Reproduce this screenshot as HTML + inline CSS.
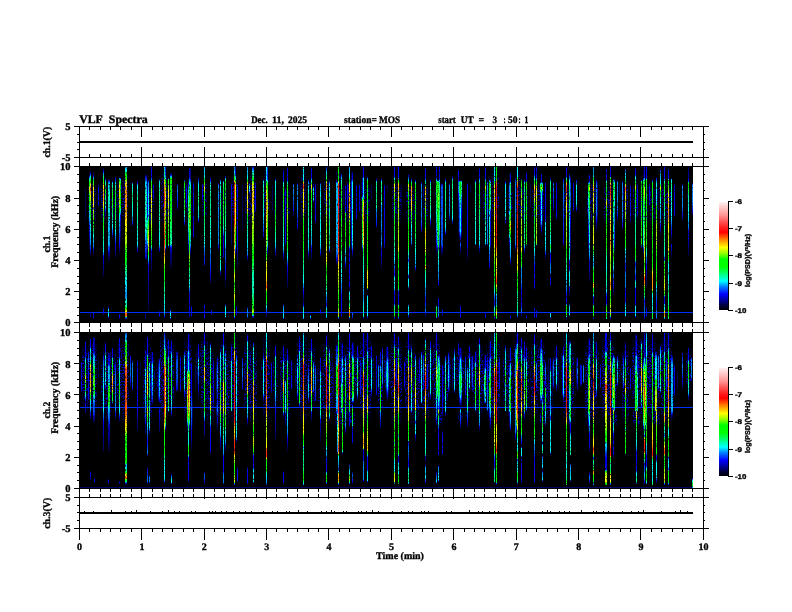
<!DOCTYPE html>
<html><head><meta charset="utf-8"><title>VLF Spectra</title>
<style>
html,body{margin:0;padding:0;background:#fff;}
body{width:792px;height:612px;position:relative;overflow:hidden;font-family:"Liberation Serif",serif;}
.s{position:absolute;left:80px;width:613px;height:155px;overflow:hidden;background:#000;isolation:isolate}
.s i{position:absolute}
.h{position:absolute;left:0;top:0;width:613px;height:155px;filter:url(#hz)}
.s b{position:absolute;left:0;width:613px;height:1px;background:#0030ff}
.t{position:absolute;left:0;top:0;width:613px;height:155px;filter:url(#nz)}
</style></head><body>
<svg width="792" height="612" viewBox="0 0 792 612" shape-rendering="crispEdges" style="position:absolute;left:0;top:0">
<defs>
<linearGradient id="cb" x1="0" y1="1" x2="0" y2="0"><stop offset="0.000" stop-color="#000008"/><stop offset="0.040" stop-color="#000038"/><stop offset="0.075" stop-color="#000080"/><stop offset="0.146" stop-color="#0000ff"/><stop offset="0.216" stop-color="#0080ff"/><stop offset="0.268" stop-color="#00ffff"/><stop offset="0.330" stop-color="#00ff80"/><stop offset="0.400" stop-color="#00ff00"/><stop offset="0.470" stop-color="#00ff00"/><stop offset="0.530" stop-color="#a0ff00"/><stop offset="0.579" stop-color="#ffff00"/><stop offset="0.654" stop-color="#ff8000"/><stop offset="0.720" stop-color="#ff0000"/><stop offset="0.770" stop-color="#ff2424"/><stop offset="0.880" stop-color="#ff9696"/><stop offset="1.000" stop-color="#fff0f0"/></linearGradient>
</defs>
<rect width="792" height="612" fill="#fff"/>
<rect x="79" y="166" width="614" height="156" fill="#000"/>
<rect x="79" y="332" width="614" height="156" fill="#000"/>
<rect x="79" y="126" width="1" height="403" fill="#000"/>
<rect x="703" y="126" width="1" height="403" fill="#000"/>
<rect x="74" y="126" width="635" height="1" fill="#000"/>
<rect x="74" y="157" width="635" height="1" fill="#000"/>
<rect x="74" y="166" width="635" height="1" fill="#000"/>
<rect x="74" y="322" width="635" height="1" fill="#000"/>
<rect x="74" y="332" width="635" height="1" fill="#000"/>
<rect x="74" y="488" width="635" height="1" fill="#000"/>
<rect x="74" y="497" width="635" height="1" fill="#000"/>
<rect x="74" y="528" width="635" height="1" fill="#000"/>
<rect x="79" y="126" width="1" height="11" fill="#000"/>
<rect x="89" y="126" width="1" height="4" fill="#000"/>
<rect x="100" y="126" width="1" height="4" fill="#000"/>
<rect x="110" y="126" width="1" height="4" fill="#000"/>
<rect x="120" y="126" width="1" height="4" fill="#000"/>
<rect x="131" y="126" width="1" height="4" fill="#000"/>
<rect x="141" y="126" width="1" height="11" fill="#000"/>
<rect x="152" y="126" width="1" height="4" fill="#000"/>
<rect x="162" y="126" width="1" height="4" fill="#000"/>
<rect x="172" y="126" width="1" height="4" fill="#000"/>
<rect x="183" y="126" width="1" height="4" fill="#000"/>
<rect x="193" y="126" width="1" height="4" fill="#000"/>
<rect x="204" y="126" width="1" height="11" fill="#000"/>
<rect x="214" y="126" width="1" height="4" fill="#000"/>
<rect x="224" y="126" width="1" height="4" fill="#000"/>
<rect x="235" y="126" width="1" height="4" fill="#000"/>
<rect x="245" y="126" width="1" height="4" fill="#000"/>
<rect x="256" y="126" width="1" height="4" fill="#000"/>
<rect x="266" y="126" width="1" height="11" fill="#000"/>
<rect x="276" y="126" width="1" height="4" fill="#000"/>
<rect x="287" y="126" width="1" height="4" fill="#000"/>
<rect x="297" y="126" width="1" height="4" fill="#000"/>
<rect x="308" y="126" width="1" height="4" fill="#000"/>
<rect x="318" y="126" width="1" height="4" fill="#000"/>
<rect x="328" y="126" width="1" height="11" fill="#000"/>
<rect x="339" y="126" width="1" height="4" fill="#000"/>
<rect x="349" y="126" width="1" height="4" fill="#000"/>
<rect x="360" y="126" width="1" height="4" fill="#000"/>
<rect x="370" y="126" width="1" height="4" fill="#000"/>
<rect x="380" y="126" width="1" height="4" fill="#000"/>
<rect x="391" y="126" width="1" height="11" fill="#000"/>
<rect x="401" y="126" width="1" height="4" fill="#000"/>
<rect x="412" y="126" width="1" height="4" fill="#000"/>
<rect x="422" y="126" width="1" height="4" fill="#000"/>
<rect x="432" y="126" width="1" height="4" fill="#000"/>
<rect x="443" y="126" width="1" height="4" fill="#000"/>
<rect x="453" y="126" width="1" height="11" fill="#000"/>
<rect x="464" y="126" width="1" height="4" fill="#000"/>
<rect x="474" y="126" width="1" height="4" fill="#000"/>
<rect x="484" y="126" width="1" height="4" fill="#000"/>
<rect x="495" y="126" width="1" height="4" fill="#000"/>
<rect x="505" y="126" width="1" height="4" fill="#000"/>
<rect x="516" y="126" width="1" height="11" fill="#000"/>
<rect x="526" y="126" width="1" height="4" fill="#000"/>
<rect x="536" y="126" width="1" height="4" fill="#000"/>
<rect x="547" y="126" width="1" height="4" fill="#000"/>
<rect x="557" y="126" width="1" height="4" fill="#000"/>
<rect x="568" y="126" width="1" height="4" fill="#000"/>
<rect x="578" y="126" width="1" height="11" fill="#000"/>
<rect x="588" y="126" width="1" height="4" fill="#000"/>
<rect x="599" y="126" width="1" height="4" fill="#000"/>
<rect x="609" y="126" width="1" height="4" fill="#000"/>
<rect x="620" y="126" width="1" height="4" fill="#000"/>
<rect x="630" y="126" width="1" height="4" fill="#000"/>
<rect x="640" y="126" width="1" height="11" fill="#000"/>
<rect x="651" y="126" width="1" height="4" fill="#000"/>
<rect x="661" y="126" width="1" height="4" fill="#000"/>
<rect x="672" y="126" width="1" height="4" fill="#000"/>
<rect x="682" y="126" width="1" height="4" fill="#000"/>
<rect x="692" y="126" width="1" height="4" fill="#000"/>
<rect x="703" y="126" width="1" height="11" fill="#000"/>
<rect x="79" y="147" width="1" height="11" fill="#000"/>
<rect x="89" y="154" width="1" height="4" fill="#000"/>
<rect x="100" y="154" width="1" height="4" fill="#000"/>
<rect x="110" y="154" width="1" height="4" fill="#000"/>
<rect x="120" y="154" width="1" height="4" fill="#000"/>
<rect x="131" y="154" width="1" height="4" fill="#000"/>
<rect x="141" y="147" width="1" height="11" fill="#000"/>
<rect x="152" y="154" width="1" height="4" fill="#000"/>
<rect x="162" y="154" width="1" height="4" fill="#000"/>
<rect x="172" y="154" width="1" height="4" fill="#000"/>
<rect x="183" y="154" width="1" height="4" fill="#000"/>
<rect x="193" y="154" width="1" height="4" fill="#000"/>
<rect x="204" y="147" width="1" height="11" fill="#000"/>
<rect x="214" y="154" width="1" height="4" fill="#000"/>
<rect x="224" y="154" width="1" height="4" fill="#000"/>
<rect x="235" y="154" width="1" height="4" fill="#000"/>
<rect x="245" y="154" width="1" height="4" fill="#000"/>
<rect x="256" y="154" width="1" height="4" fill="#000"/>
<rect x="266" y="147" width="1" height="11" fill="#000"/>
<rect x="276" y="154" width="1" height="4" fill="#000"/>
<rect x="287" y="154" width="1" height="4" fill="#000"/>
<rect x="297" y="154" width="1" height="4" fill="#000"/>
<rect x="308" y="154" width="1" height="4" fill="#000"/>
<rect x="318" y="154" width="1" height="4" fill="#000"/>
<rect x="328" y="147" width="1" height="11" fill="#000"/>
<rect x="339" y="154" width="1" height="4" fill="#000"/>
<rect x="349" y="154" width="1" height="4" fill="#000"/>
<rect x="360" y="154" width="1" height="4" fill="#000"/>
<rect x="370" y="154" width="1" height="4" fill="#000"/>
<rect x="380" y="154" width="1" height="4" fill="#000"/>
<rect x="391" y="147" width="1" height="11" fill="#000"/>
<rect x="401" y="154" width="1" height="4" fill="#000"/>
<rect x="412" y="154" width="1" height="4" fill="#000"/>
<rect x="422" y="154" width="1" height="4" fill="#000"/>
<rect x="432" y="154" width="1" height="4" fill="#000"/>
<rect x="443" y="154" width="1" height="4" fill="#000"/>
<rect x="453" y="147" width="1" height="11" fill="#000"/>
<rect x="464" y="154" width="1" height="4" fill="#000"/>
<rect x="474" y="154" width="1" height="4" fill="#000"/>
<rect x="484" y="154" width="1" height="4" fill="#000"/>
<rect x="495" y="154" width="1" height="4" fill="#000"/>
<rect x="505" y="154" width="1" height="4" fill="#000"/>
<rect x="516" y="147" width="1" height="11" fill="#000"/>
<rect x="526" y="154" width="1" height="4" fill="#000"/>
<rect x="536" y="154" width="1" height="4" fill="#000"/>
<rect x="547" y="154" width="1" height="4" fill="#000"/>
<rect x="557" y="154" width="1" height="4" fill="#000"/>
<rect x="568" y="154" width="1" height="4" fill="#000"/>
<rect x="578" y="147" width="1" height="11" fill="#000"/>
<rect x="588" y="154" width="1" height="4" fill="#000"/>
<rect x="599" y="154" width="1" height="4" fill="#000"/>
<rect x="609" y="154" width="1" height="4" fill="#000"/>
<rect x="620" y="154" width="1" height="4" fill="#000"/>
<rect x="630" y="154" width="1" height="4" fill="#000"/>
<rect x="640" y="147" width="1" height="11" fill="#000"/>
<rect x="651" y="154" width="1" height="4" fill="#000"/>
<rect x="661" y="154" width="1" height="4" fill="#000"/>
<rect x="672" y="154" width="1" height="4" fill="#000"/>
<rect x="682" y="154" width="1" height="4" fill="#000"/>
<rect x="692" y="154" width="1" height="4" fill="#000"/>
<rect x="703" y="147" width="1" height="11" fill="#000"/>
<rect x="79" y="157" width="1" height="10" fill="#000"/>
<rect x="89" y="163" width="1" height="4" fill="#000"/>
<rect x="100" y="163" width="1" height="4" fill="#000"/>
<rect x="110" y="163" width="1" height="4" fill="#000"/>
<rect x="120" y="163" width="1" height="4" fill="#000"/>
<rect x="131" y="163" width="1" height="4" fill="#000"/>
<rect x="141" y="157" width="1" height="10" fill="#000"/>
<rect x="152" y="163" width="1" height="4" fill="#000"/>
<rect x="162" y="163" width="1" height="4" fill="#000"/>
<rect x="172" y="163" width="1" height="4" fill="#000"/>
<rect x="183" y="163" width="1" height="4" fill="#000"/>
<rect x="193" y="163" width="1" height="4" fill="#000"/>
<rect x="204" y="157" width="1" height="10" fill="#000"/>
<rect x="214" y="163" width="1" height="4" fill="#000"/>
<rect x="224" y="163" width="1" height="4" fill="#000"/>
<rect x="235" y="163" width="1" height="4" fill="#000"/>
<rect x="245" y="163" width="1" height="4" fill="#000"/>
<rect x="256" y="163" width="1" height="4" fill="#000"/>
<rect x="266" y="157" width="1" height="10" fill="#000"/>
<rect x="276" y="163" width="1" height="4" fill="#000"/>
<rect x="287" y="163" width="1" height="4" fill="#000"/>
<rect x="297" y="163" width="1" height="4" fill="#000"/>
<rect x="308" y="163" width="1" height="4" fill="#000"/>
<rect x="318" y="163" width="1" height="4" fill="#000"/>
<rect x="328" y="157" width="1" height="10" fill="#000"/>
<rect x="339" y="163" width="1" height="4" fill="#000"/>
<rect x="349" y="163" width="1" height="4" fill="#000"/>
<rect x="360" y="163" width="1" height="4" fill="#000"/>
<rect x="370" y="163" width="1" height="4" fill="#000"/>
<rect x="380" y="163" width="1" height="4" fill="#000"/>
<rect x="391" y="157" width="1" height="10" fill="#000"/>
<rect x="401" y="163" width="1" height="4" fill="#000"/>
<rect x="412" y="163" width="1" height="4" fill="#000"/>
<rect x="422" y="163" width="1" height="4" fill="#000"/>
<rect x="432" y="163" width="1" height="4" fill="#000"/>
<rect x="443" y="163" width="1" height="4" fill="#000"/>
<rect x="453" y="157" width="1" height="10" fill="#000"/>
<rect x="464" y="163" width="1" height="4" fill="#000"/>
<rect x="474" y="163" width="1" height="4" fill="#000"/>
<rect x="484" y="163" width="1" height="4" fill="#000"/>
<rect x="495" y="163" width="1" height="4" fill="#000"/>
<rect x="505" y="163" width="1" height="4" fill="#000"/>
<rect x="516" y="157" width="1" height="10" fill="#000"/>
<rect x="526" y="163" width="1" height="4" fill="#000"/>
<rect x="536" y="163" width="1" height="4" fill="#000"/>
<rect x="547" y="163" width="1" height="4" fill="#000"/>
<rect x="557" y="163" width="1" height="4" fill="#000"/>
<rect x="568" y="163" width="1" height="4" fill="#000"/>
<rect x="578" y="157" width="1" height="10" fill="#000"/>
<rect x="588" y="163" width="1" height="4" fill="#000"/>
<rect x="599" y="163" width="1" height="4" fill="#000"/>
<rect x="609" y="163" width="1" height="4" fill="#000"/>
<rect x="620" y="163" width="1" height="4" fill="#000"/>
<rect x="630" y="163" width="1" height="4" fill="#000"/>
<rect x="640" y="157" width="1" height="10" fill="#000"/>
<rect x="651" y="163" width="1" height="4" fill="#000"/>
<rect x="661" y="163" width="1" height="4" fill="#000"/>
<rect x="672" y="163" width="1" height="4" fill="#000"/>
<rect x="682" y="163" width="1" height="4" fill="#000"/>
<rect x="692" y="163" width="1" height="4" fill="#000"/>
<rect x="703" y="157" width="1" height="10" fill="#000"/>
<rect x="79" y="322" width="1" height="11" fill="#000"/>
<rect x="89" y="322" width="1" height="5" fill="#000"/>
<rect x="100" y="322" width="1" height="5" fill="#000"/>
<rect x="110" y="322" width="1" height="5" fill="#000"/>
<rect x="120" y="322" width="1" height="5" fill="#000"/>
<rect x="131" y="322" width="1" height="5" fill="#000"/>
<rect x="141" y="322" width="1" height="11" fill="#000"/>
<rect x="152" y="322" width="1" height="5" fill="#000"/>
<rect x="162" y="322" width="1" height="5" fill="#000"/>
<rect x="172" y="322" width="1" height="5" fill="#000"/>
<rect x="183" y="322" width="1" height="5" fill="#000"/>
<rect x="193" y="322" width="1" height="5" fill="#000"/>
<rect x="204" y="322" width="1" height="11" fill="#000"/>
<rect x="214" y="322" width="1" height="5" fill="#000"/>
<rect x="224" y="322" width="1" height="5" fill="#000"/>
<rect x="235" y="322" width="1" height="5" fill="#000"/>
<rect x="245" y="322" width="1" height="5" fill="#000"/>
<rect x="256" y="322" width="1" height="5" fill="#000"/>
<rect x="266" y="322" width="1" height="11" fill="#000"/>
<rect x="276" y="322" width="1" height="5" fill="#000"/>
<rect x="287" y="322" width="1" height="5" fill="#000"/>
<rect x="297" y="322" width="1" height="5" fill="#000"/>
<rect x="308" y="322" width="1" height="5" fill="#000"/>
<rect x="318" y="322" width="1" height="5" fill="#000"/>
<rect x="328" y="322" width="1" height="11" fill="#000"/>
<rect x="339" y="322" width="1" height="5" fill="#000"/>
<rect x="349" y="322" width="1" height="5" fill="#000"/>
<rect x="360" y="322" width="1" height="5" fill="#000"/>
<rect x="370" y="322" width="1" height="5" fill="#000"/>
<rect x="380" y="322" width="1" height="5" fill="#000"/>
<rect x="391" y="322" width="1" height="11" fill="#000"/>
<rect x="401" y="322" width="1" height="5" fill="#000"/>
<rect x="412" y="322" width="1" height="5" fill="#000"/>
<rect x="422" y="322" width="1" height="5" fill="#000"/>
<rect x="432" y="322" width="1" height="5" fill="#000"/>
<rect x="443" y="322" width="1" height="5" fill="#000"/>
<rect x="453" y="322" width="1" height="11" fill="#000"/>
<rect x="464" y="322" width="1" height="5" fill="#000"/>
<rect x="474" y="322" width="1" height="5" fill="#000"/>
<rect x="484" y="322" width="1" height="5" fill="#000"/>
<rect x="495" y="322" width="1" height="5" fill="#000"/>
<rect x="505" y="322" width="1" height="5" fill="#000"/>
<rect x="516" y="322" width="1" height="11" fill="#000"/>
<rect x="526" y="322" width="1" height="5" fill="#000"/>
<rect x="536" y="322" width="1" height="5" fill="#000"/>
<rect x="547" y="322" width="1" height="5" fill="#000"/>
<rect x="557" y="322" width="1" height="5" fill="#000"/>
<rect x="568" y="322" width="1" height="5" fill="#000"/>
<rect x="578" y="322" width="1" height="11" fill="#000"/>
<rect x="588" y="322" width="1" height="5" fill="#000"/>
<rect x="599" y="322" width="1" height="5" fill="#000"/>
<rect x="609" y="322" width="1" height="5" fill="#000"/>
<rect x="620" y="322" width="1" height="5" fill="#000"/>
<rect x="630" y="322" width="1" height="5" fill="#000"/>
<rect x="640" y="322" width="1" height="11" fill="#000"/>
<rect x="651" y="322" width="1" height="5" fill="#000"/>
<rect x="661" y="322" width="1" height="5" fill="#000"/>
<rect x="672" y="322" width="1" height="5" fill="#000"/>
<rect x="682" y="322" width="1" height="5" fill="#000"/>
<rect x="692" y="322" width="1" height="5" fill="#000"/>
<rect x="703" y="322" width="1" height="11" fill="#000"/>
<rect x="79" y="322" width="1" height="11" fill="#000"/>
<rect x="89" y="329" width="1" height="4" fill="#000"/>
<rect x="100" y="329" width="1" height="4" fill="#000"/>
<rect x="110" y="329" width="1" height="4" fill="#000"/>
<rect x="120" y="329" width="1" height="4" fill="#000"/>
<rect x="131" y="329" width="1" height="4" fill="#000"/>
<rect x="141" y="322" width="1" height="11" fill="#000"/>
<rect x="152" y="329" width="1" height="4" fill="#000"/>
<rect x="162" y="329" width="1" height="4" fill="#000"/>
<rect x="172" y="329" width="1" height="4" fill="#000"/>
<rect x="183" y="329" width="1" height="4" fill="#000"/>
<rect x="193" y="329" width="1" height="4" fill="#000"/>
<rect x="204" y="322" width="1" height="11" fill="#000"/>
<rect x="214" y="329" width="1" height="4" fill="#000"/>
<rect x="224" y="329" width="1" height="4" fill="#000"/>
<rect x="235" y="329" width="1" height="4" fill="#000"/>
<rect x="245" y="329" width="1" height="4" fill="#000"/>
<rect x="256" y="329" width="1" height="4" fill="#000"/>
<rect x="266" y="322" width="1" height="11" fill="#000"/>
<rect x="276" y="329" width="1" height="4" fill="#000"/>
<rect x="287" y="329" width="1" height="4" fill="#000"/>
<rect x="297" y="329" width="1" height="4" fill="#000"/>
<rect x="308" y="329" width="1" height="4" fill="#000"/>
<rect x="318" y="329" width="1" height="4" fill="#000"/>
<rect x="328" y="322" width="1" height="11" fill="#000"/>
<rect x="339" y="329" width="1" height="4" fill="#000"/>
<rect x="349" y="329" width="1" height="4" fill="#000"/>
<rect x="360" y="329" width="1" height="4" fill="#000"/>
<rect x="370" y="329" width="1" height="4" fill="#000"/>
<rect x="380" y="329" width="1" height="4" fill="#000"/>
<rect x="391" y="322" width="1" height="11" fill="#000"/>
<rect x="401" y="329" width="1" height="4" fill="#000"/>
<rect x="412" y="329" width="1" height="4" fill="#000"/>
<rect x="422" y="329" width="1" height="4" fill="#000"/>
<rect x="432" y="329" width="1" height="4" fill="#000"/>
<rect x="443" y="329" width="1" height="4" fill="#000"/>
<rect x="453" y="322" width="1" height="11" fill="#000"/>
<rect x="464" y="329" width="1" height="4" fill="#000"/>
<rect x="474" y="329" width="1" height="4" fill="#000"/>
<rect x="484" y="329" width="1" height="4" fill="#000"/>
<rect x="495" y="329" width="1" height="4" fill="#000"/>
<rect x="505" y="329" width="1" height="4" fill="#000"/>
<rect x="516" y="322" width="1" height="11" fill="#000"/>
<rect x="526" y="329" width="1" height="4" fill="#000"/>
<rect x="536" y="329" width="1" height="4" fill="#000"/>
<rect x="547" y="329" width="1" height="4" fill="#000"/>
<rect x="557" y="329" width="1" height="4" fill="#000"/>
<rect x="568" y="329" width="1" height="4" fill="#000"/>
<rect x="578" y="322" width="1" height="11" fill="#000"/>
<rect x="588" y="329" width="1" height="4" fill="#000"/>
<rect x="599" y="329" width="1" height="4" fill="#000"/>
<rect x="609" y="329" width="1" height="4" fill="#000"/>
<rect x="620" y="329" width="1" height="4" fill="#000"/>
<rect x="630" y="329" width="1" height="4" fill="#000"/>
<rect x="640" y="322" width="1" height="11" fill="#000"/>
<rect x="651" y="329" width="1" height="4" fill="#000"/>
<rect x="661" y="329" width="1" height="4" fill="#000"/>
<rect x="672" y="329" width="1" height="4" fill="#000"/>
<rect x="682" y="329" width="1" height="4" fill="#000"/>
<rect x="692" y="329" width="1" height="4" fill="#000"/>
<rect x="703" y="322" width="1" height="11" fill="#000"/>
<rect x="79" y="488" width="1" height="11" fill="#000"/>
<rect x="89" y="488" width="1" height="4" fill="#000"/>
<rect x="100" y="488" width="1" height="4" fill="#000"/>
<rect x="110" y="488" width="1" height="4" fill="#000"/>
<rect x="120" y="488" width="1" height="4" fill="#000"/>
<rect x="131" y="488" width="1" height="4" fill="#000"/>
<rect x="141" y="488" width="1" height="11" fill="#000"/>
<rect x="152" y="488" width="1" height="4" fill="#000"/>
<rect x="162" y="488" width="1" height="4" fill="#000"/>
<rect x="172" y="488" width="1" height="4" fill="#000"/>
<rect x="183" y="488" width="1" height="4" fill="#000"/>
<rect x="193" y="488" width="1" height="4" fill="#000"/>
<rect x="204" y="488" width="1" height="11" fill="#000"/>
<rect x="214" y="488" width="1" height="4" fill="#000"/>
<rect x="224" y="488" width="1" height="4" fill="#000"/>
<rect x="235" y="488" width="1" height="4" fill="#000"/>
<rect x="245" y="488" width="1" height="4" fill="#000"/>
<rect x="256" y="488" width="1" height="4" fill="#000"/>
<rect x="266" y="488" width="1" height="11" fill="#000"/>
<rect x="276" y="488" width="1" height="4" fill="#000"/>
<rect x="287" y="488" width="1" height="4" fill="#000"/>
<rect x="297" y="488" width="1" height="4" fill="#000"/>
<rect x="308" y="488" width="1" height="4" fill="#000"/>
<rect x="318" y="488" width="1" height="4" fill="#000"/>
<rect x="328" y="488" width="1" height="11" fill="#000"/>
<rect x="339" y="488" width="1" height="4" fill="#000"/>
<rect x="349" y="488" width="1" height="4" fill="#000"/>
<rect x="360" y="488" width="1" height="4" fill="#000"/>
<rect x="370" y="488" width="1" height="4" fill="#000"/>
<rect x="380" y="488" width="1" height="4" fill="#000"/>
<rect x="391" y="488" width="1" height="11" fill="#000"/>
<rect x="401" y="488" width="1" height="4" fill="#000"/>
<rect x="412" y="488" width="1" height="4" fill="#000"/>
<rect x="422" y="488" width="1" height="4" fill="#000"/>
<rect x="432" y="488" width="1" height="4" fill="#000"/>
<rect x="443" y="488" width="1" height="4" fill="#000"/>
<rect x="453" y="488" width="1" height="11" fill="#000"/>
<rect x="464" y="488" width="1" height="4" fill="#000"/>
<rect x="474" y="488" width="1" height="4" fill="#000"/>
<rect x="484" y="488" width="1" height="4" fill="#000"/>
<rect x="495" y="488" width="1" height="4" fill="#000"/>
<rect x="505" y="488" width="1" height="4" fill="#000"/>
<rect x="516" y="488" width="1" height="11" fill="#000"/>
<rect x="526" y="488" width="1" height="4" fill="#000"/>
<rect x="536" y="488" width="1" height="4" fill="#000"/>
<rect x="547" y="488" width="1" height="4" fill="#000"/>
<rect x="557" y="488" width="1" height="4" fill="#000"/>
<rect x="568" y="488" width="1" height="4" fill="#000"/>
<rect x="578" y="488" width="1" height="11" fill="#000"/>
<rect x="588" y="488" width="1" height="4" fill="#000"/>
<rect x="599" y="488" width="1" height="4" fill="#000"/>
<rect x="609" y="488" width="1" height="4" fill="#000"/>
<rect x="620" y="488" width="1" height="4" fill="#000"/>
<rect x="630" y="488" width="1" height="4" fill="#000"/>
<rect x="640" y="488" width="1" height="11" fill="#000"/>
<rect x="651" y="488" width="1" height="4" fill="#000"/>
<rect x="661" y="488" width="1" height="4" fill="#000"/>
<rect x="672" y="488" width="1" height="4" fill="#000"/>
<rect x="682" y="488" width="1" height="4" fill="#000"/>
<rect x="692" y="488" width="1" height="4" fill="#000"/>
<rect x="703" y="488" width="1" height="11" fill="#000"/>
<rect x="79" y="494" width="1" height="4" fill="#000"/>
<rect x="89" y="494" width="1" height="4" fill="#000"/>
<rect x="100" y="494" width="1" height="4" fill="#000"/>
<rect x="110" y="494" width="1" height="4" fill="#000"/>
<rect x="120" y="494" width="1" height="4" fill="#000"/>
<rect x="131" y="494" width="1" height="4" fill="#000"/>
<rect x="141" y="494" width="1" height="4" fill="#000"/>
<rect x="152" y="494" width="1" height="4" fill="#000"/>
<rect x="162" y="494" width="1" height="4" fill="#000"/>
<rect x="172" y="494" width="1" height="4" fill="#000"/>
<rect x="183" y="494" width="1" height="4" fill="#000"/>
<rect x="193" y="494" width="1" height="4" fill="#000"/>
<rect x="204" y="494" width="1" height="4" fill="#000"/>
<rect x="214" y="494" width="1" height="4" fill="#000"/>
<rect x="224" y="494" width="1" height="4" fill="#000"/>
<rect x="235" y="494" width="1" height="4" fill="#000"/>
<rect x="245" y="494" width="1" height="4" fill="#000"/>
<rect x="256" y="494" width="1" height="4" fill="#000"/>
<rect x="266" y="494" width="1" height="4" fill="#000"/>
<rect x="276" y="494" width="1" height="4" fill="#000"/>
<rect x="287" y="494" width="1" height="4" fill="#000"/>
<rect x="297" y="494" width="1" height="4" fill="#000"/>
<rect x="308" y="494" width="1" height="4" fill="#000"/>
<rect x="318" y="494" width="1" height="4" fill="#000"/>
<rect x="328" y="494" width="1" height="4" fill="#000"/>
<rect x="339" y="494" width="1" height="4" fill="#000"/>
<rect x="349" y="494" width="1" height="4" fill="#000"/>
<rect x="360" y="494" width="1" height="4" fill="#000"/>
<rect x="370" y="494" width="1" height="4" fill="#000"/>
<rect x="380" y="494" width="1" height="4" fill="#000"/>
<rect x="391" y="494" width="1" height="4" fill="#000"/>
<rect x="401" y="494" width="1" height="4" fill="#000"/>
<rect x="412" y="494" width="1" height="4" fill="#000"/>
<rect x="422" y="494" width="1" height="4" fill="#000"/>
<rect x="432" y="494" width="1" height="4" fill="#000"/>
<rect x="443" y="494" width="1" height="4" fill="#000"/>
<rect x="453" y="494" width="1" height="4" fill="#000"/>
<rect x="464" y="494" width="1" height="4" fill="#000"/>
<rect x="474" y="494" width="1" height="4" fill="#000"/>
<rect x="484" y="494" width="1" height="4" fill="#000"/>
<rect x="495" y="494" width="1" height="4" fill="#000"/>
<rect x="505" y="494" width="1" height="4" fill="#000"/>
<rect x="516" y="494" width="1" height="4" fill="#000"/>
<rect x="526" y="494" width="1" height="4" fill="#000"/>
<rect x="536" y="494" width="1" height="4" fill="#000"/>
<rect x="547" y="494" width="1" height="4" fill="#000"/>
<rect x="557" y="494" width="1" height="4" fill="#000"/>
<rect x="568" y="494" width="1" height="4" fill="#000"/>
<rect x="578" y="494" width="1" height="4" fill="#000"/>
<rect x="588" y="494" width="1" height="4" fill="#000"/>
<rect x="599" y="494" width="1" height="4" fill="#000"/>
<rect x="609" y="494" width="1" height="4" fill="#000"/>
<rect x="620" y="494" width="1" height="4" fill="#000"/>
<rect x="630" y="494" width="1" height="4" fill="#000"/>
<rect x="640" y="494" width="1" height="4" fill="#000"/>
<rect x="651" y="494" width="1" height="4" fill="#000"/>
<rect x="661" y="494" width="1" height="4" fill="#000"/>
<rect x="672" y="494" width="1" height="4" fill="#000"/>
<rect x="682" y="494" width="1" height="4" fill="#000"/>
<rect x="692" y="494" width="1" height="4" fill="#000"/>
<rect x="703" y="494" width="1" height="4" fill="#000"/>
<rect x="79" y="528" width="1" height="12" fill="#000"/>
<rect x="89" y="528" width="1" height="4" fill="#000"/>
<rect x="100" y="528" width="1" height="4" fill="#000"/>
<rect x="110" y="528" width="1" height="4" fill="#000"/>
<rect x="120" y="528" width="1" height="4" fill="#000"/>
<rect x="131" y="528" width="1" height="4" fill="#000"/>
<rect x="141" y="528" width="1" height="12" fill="#000"/>
<rect x="152" y="528" width="1" height="4" fill="#000"/>
<rect x="162" y="528" width="1" height="4" fill="#000"/>
<rect x="172" y="528" width="1" height="4" fill="#000"/>
<rect x="183" y="528" width="1" height="4" fill="#000"/>
<rect x="193" y="528" width="1" height="4" fill="#000"/>
<rect x="204" y="528" width="1" height="12" fill="#000"/>
<rect x="214" y="528" width="1" height="4" fill="#000"/>
<rect x="224" y="528" width="1" height="4" fill="#000"/>
<rect x="235" y="528" width="1" height="4" fill="#000"/>
<rect x="245" y="528" width="1" height="4" fill="#000"/>
<rect x="256" y="528" width="1" height="4" fill="#000"/>
<rect x="266" y="528" width="1" height="12" fill="#000"/>
<rect x="276" y="528" width="1" height="4" fill="#000"/>
<rect x="287" y="528" width="1" height="4" fill="#000"/>
<rect x="297" y="528" width="1" height="4" fill="#000"/>
<rect x="308" y="528" width="1" height="4" fill="#000"/>
<rect x="318" y="528" width="1" height="4" fill="#000"/>
<rect x="328" y="528" width="1" height="12" fill="#000"/>
<rect x="339" y="528" width="1" height="4" fill="#000"/>
<rect x="349" y="528" width="1" height="4" fill="#000"/>
<rect x="360" y="528" width="1" height="4" fill="#000"/>
<rect x="370" y="528" width="1" height="4" fill="#000"/>
<rect x="380" y="528" width="1" height="4" fill="#000"/>
<rect x="391" y="528" width="1" height="12" fill="#000"/>
<rect x="401" y="528" width="1" height="4" fill="#000"/>
<rect x="412" y="528" width="1" height="4" fill="#000"/>
<rect x="422" y="528" width="1" height="4" fill="#000"/>
<rect x="432" y="528" width="1" height="4" fill="#000"/>
<rect x="443" y="528" width="1" height="4" fill="#000"/>
<rect x="453" y="528" width="1" height="12" fill="#000"/>
<rect x="464" y="528" width="1" height="4" fill="#000"/>
<rect x="474" y="528" width="1" height="4" fill="#000"/>
<rect x="484" y="528" width="1" height="4" fill="#000"/>
<rect x="495" y="528" width="1" height="4" fill="#000"/>
<rect x="505" y="528" width="1" height="4" fill="#000"/>
<rect x="516" y="528" width="1" height="12" fill="#000"/>
<rect x="526" y="528" width="1" height="4" fill="#000"/>
<rect x="536" y="528" width="1" height="4" fill="#000"/>
<rect x="547" y="528" width="1" height="4" fill="#000"/>
<rect x="557" y="528" width="1" height="4" fill="#000"/>
<rect x="568" y="528" width="1" height="4" fill="#000"/>
<rect x="578" y="528" width="1" height="12" fill="#000"/>
<rect x="588" y="528" width="1" height="4" fill="#000"/>
<rect x="599" y="528" width="1" height="4" fill="#000"/>
<rect x="609" y="528" width="1" height="4" fill="#000"/>
<rect x="620" y="528" width="1" height="4" fill="#000"/>
<rect x="630" y="528" width="1" height="4" fill="#000"/>
<rect x="640" y="528" width="1" height="12" fill="#000"/>
<rect x="651" y="528" width="1" height="4" fill="#000"/>
<rect x="661" y="528" width="1" height="4" fill="#000"/>
<rect x="672" y="528" width="1" height="4" fill="#000"/>
<rect x="682" y="528" width="1" height="4" fill="#000"/>
<rect x="692" y="528" width="1" height="4" fill="#000"/>
<rect x="703" y="528" width="1" height="12" fill="#000"/>
<rect x="77" y="134" width="2" height="1" fill="#000"/>
<rect x="704" y="134" width="1" height="1" fill="#000"/>
<rect x="77" y="142" width="2" height="1" fill="#000"/>
<rect x="704" y="142" width="1" height="1" fill="#000"/>
<rect x="77" y="149" width="2" height="1" fill="#000"/>
<rect x="704" y="149" width="1" height="1" fill="#000"/>
<rect x="77" y="505" width="2" height="1" fill="#000"/>
<rect x="704" y="505" width="1" height="1" fill="#000"/>
<rect x="77" y="512" width="2" height="1" fill="#000"/>
<rect x="704" y="512" width="1" height="1" fill="#000"/>
<rect x="77" y="520" width="2" height="1" fill="#000"/>
<rect x="704" y="520" width="1" height="1" fill="#000"/>
<rect x="74" y="166" width="5" height="1" fill="#000"/>
<rect x="704" y="166" width="5" height="1" fill="#000"/>
<rect x="77" y="174" width="2" height="1" fill="#000"/>
<rect x="704" y="174" width="1" height="1" fill="#000"/>
<rect x="77" y="182" width="2" height="1" fill="#000"/>
<rect x="704" y="182" width="1" height="1" fill="#000"/>
<rect x="77" y="190" width="2" height="1" fill="#000"/>
<rect x="704" y="190" width="1" height="1" fill="#000"/>
<rect x="74" y="198" width="5" height="1" fill="#000"/>
<rect x="704" y="198" width="5" height="1" fill="#000"/>
<rect x="77" y="205" width="2" height="1" fill="#000"/>
<rect x="704" y="205" width="1" height="1" fill="#000"/>
<rect x="77" y="213" width="2" height="1" fill="#000"/>
<rect x="704" y="213" width="1" height="1" fill="#000"/>
<rect x="77" y="221" width="2" height="1" fill="#000"/>
<rect x="704" y="221" width="1" height="1" fill="#000"/>
<rect x="74" y="229" width="5" height="1" fill="#000"/>
<rect x="704" y="229" width="5" height="1" fill="#000"/>
<rect x="77" y="237" width="2" height="1" fill="#000"/>
<rect x="704" y="237" width="1" height="1" fill="#000"/>
<rect x="77" y="244" width="2" height="1" fill="#000"/>
<rect x="704" y="244" width="1" height="1" fill="#000"/>
<rect x="77" y="252" width="2" height="1" fill="#000"/>
<rect x="704" y="252" width="1" height="1" fill="#000"/>
<rect x="74" y="260" width="5" height="1" fill="#000"/>
<rect x="704" y="260" width="5" height="1" fill="#000"/>
<rect x="77" y="268" width="2" height="1" fill="#000"/>
<rect x="704" y="268" width="1" height="1" fill="#000"/>
<rect x="77" y="276" width="2" height="1" fill="#000"/>
<rect x="704" y="276" width="1" height="1" fill="#000"/>
<rect x="77" y="283" width="2" height="1" fill="#000"/>
<rect x="704" y="283" width="1" height="1" fill="#000"/>
<rect x="74" y="291" width="5" height="1" fill="#000"/>
<rect x="704" y="291" width="5" height="1" fill="#000"/>
<rect x="77" y="299" width="2" height="1" fill="#000"/>
<rect x="704" y="299" width="1" height="1" fill="#000"/>
<rect x="77" y="307" width="2" height="1" fill="#000"/>
<rect x="704" y="307" width="1" height="1" fill="#000"/>
<rect x="77" y="315" width="2" height="1" fill="#000"/>
<rect x="704" y="315" width="1" height="1" fill="#000"/>
<rect x="74" y="322" width="5" height="1" fill="#000"/>
<rect x="704" y="322" width="5" height="1" fill="#000"/>
<rect x="74" y="332" width="5" height="1" fill="#000"/>
<rect x="704" y="332" width="5" height="1" fill="#000"/>
<rect x="77" y="340" width="2" height="1" fill="#000"/>
<rect x="704" y="340" width="1" height="1" fill="#000"/>
<rect x="77" y="348" width="2" height="1" fill="#000"/>
<rect x="704" y="348" width="1" height="1" fill="#000"/>
<rect x="77" y="355" width="2" height="1" fill="#000"/>
<rect x="704" y="355" width="1" height="1" fill="#000"/>
<rect x="74" y="363" width="5" height="1" fill="#000"/>
<rect x="704" y="363" width="5" height="1" fill="#000"/>
<rect x="77" y="371" width="2" height="1" fill="#000"/>
<rect x="704" y="371" width="1" height="1" fill="#000"/>
<rect x="77" y="379" width="2" height="1" fill="#000"/>
<rect x="704" y="379" width="1" height="1" fill="#000"/>
<rect x="77" y="387" width="2" height="1" fill="#000"/>
<rect x="704" y="387" width="1" height="1" fill="#000"/>
<rect x="74" y="394" width="5" height="1" fill="#000"/>
<rect x="704" y="394" width="5" height="1" fill="#000"/>
<rect x="77" y="402" width="2" height="1" fill="#000"/>
<rect x="704" y="402" width="1" height="1" fill="#000"/>
<rect x="77" y="410" width="2" height="1" fill="#000"/>
<rect x="704" y="410" width="1" height="1" fill="#000"/>
<rect x="77" y="418" width="2" height="1" fill="#000"/>
<rect x="704" y="418" width="1" height="1" fill="#000"/>
<rect x="74" y="426" width="5" height="1" fill="#000"/>
<rect x="704" y="426" width="5" height="1" fill="#000"/>
<rect x="77" y="433" width="2" height="1" fill="#000"/>
<rect x="704" y="433" width="1" height="1" fill="#000"/>
<rect x="77" y="441" width="2" height="1" fill="#000"/>
<rect x="704" y="441" width="1" height="1" fill="#000"/>
<rect x="77" y="449" width="2" height="1" fill="#000"/>
<rect x="704" y="449" width="1" height="1" fill="#000"/>
<rect x="74" y="457" width="5" height="1" fill="#000"/>
<rect x="704" y="457" width="5" height="1" fill="#000"/>
<rect x="77" y="465" width="2" height="1" fill="#000"/>
<rect x="704" y="465" width="1" height="1" fill="#000"/>
<rect x="77" y="472" width="2" height="1" fill="#000"/>
<rect x="704" y="472" width="1" height="1" fill="#000"/>
<rect x="77" y="480" width="2" height="1" fill="#000"/>
<rect x="704" y="480" width="1" height="1" fill="#000"/>
<rect x="74" y="488" width="5" height="1" fill="#000"/>
<rect x="704" y="488" width="5" height="1" fill="#000"/>
<rect x="79" y="141" width="614" height="2" fill="#000"/>
<rect x="79" y="512" width="614" height="2" fill="#000"/>
<rect x="84" y="511" width="1" height="1" fill="#000"/>
<rect x="93" y="511" width="1" height="1" fill="#000"/>
<rect x="111" y="511" width="1" height="1" fill="#000"/>
<rect x="111" y="510" width="1" height="1" fill="#000"/>
<rect x="125" y="511" width="1" height="1" fill="#000"/>
<rect x="131" y="511" width="1" height="1" fill="#000"/>
<rect x="136" y="511" width="1" height="1" fill="#000"/>
<rect x="136" y="510" width="1" height="1" fill="#000"/>
<rect x="150" y="511" width="1" height="1" fill="#000"/>
<rect x="162" y="511" width="1" height="1" fill="#000"/>
<rect x="168" y="511" width="1" height="1" fill="#000"/>
<rect x="168" y="510" width="1" height="1" fill="#000"/>
<rect x="174" y="511" width="1" height="1" fill="#000"/>
<rect x="179" y="511" width="1" height="1" fill="#000"/>
<rect x="191" y="511" width="1" height="1" fill="#000"/>
<rect x="195" y="511" width="1" height="1" fill="#000"/>
<rect x="209" y="511" width="1" height="1" fill="#000"/>
<rect x="212" y="511" width="1" height="1" fill="#000"/>
<rect x="215" y="511" width="1" height="1" fill="#000"/>
<rect x="221" y="511" width="1" height="1" fill="#000"/>
<rect x="226" y="511" width="1" height="1" fill="#000"/>
<rect x="233" y="511" width="1" height="1" fill="#000"/>
<rect x="239" y="511" width="1" height="1" fill="#000"/>
<rect x="245" y="511" width="1" height="1" fill="#000"/>
<rect x="251" y="511" width="1" height="1" fill="#000"/>
<rect x="263" y="511" width="1" height="1" fill="#000"/>
<rect x="272" y="511" width="1" height="1" fill="#000"/>
<rect x="277" y="511" width="1" height="1" fill="#000"/>
<rect x="286" y="511" width="1" height="1" fill="#000"/>
<rect x="289" y="511" width="1" height="1" fill="#000"/>
<rect x="298" y="511" width="1" height="1" fill="#000"/>
<rect x="298" y="510" width="1" height="1" fill="#000"/>
<rect x="307" y="511" width="1" height="1" fill="#000"/>
<rect x="321" y="511" width="1" height="1" fill="#000"/>
<rect x="326" y="511" width="1" height="1" fill="#000"/>
<rect x="331" y="511" width="1" height="1" fill="#000"/>
<rect x="331" y="510" width="1" height="1" fill="#000"/>
<rect x="334" y="511" width="1" height="1" fill="#000"/>
<rect x="343" y="511" width="1" height="1" fill="#000"/>
<rect x="346" y="511" width="1" height="1" fill="#000"/>
<rect x="358" y="511" width="1" height="1" fill="#000"/>
<rect x="361" y="511" width="1" height="1" fill="#000"/>
<rect x="366" y="511" width="1" height="1" fill="#000"/>
<rect x="372" y="511" width="1" height="1" fill="#000"/>
<rect x="372" y="510" width="1" height="1" fill="#000"/>
<rect x="378" y="511" width="1" height="1" fill="#000"/>
<rect x="392" y="511" width="1" height="1" fill="#000"/>
<rect x="401" y="511" width="1" height="1" fill="#000"/>
<rect x="408" y="511" width="1" height="1" fill="#000"/>
<rect x="412" y="511" width="1" height="1" fill="#000"/>
<rect x="421" y="511" width="1" height="1" fill="#000"/>
<rect x="424" y="511" width="1" height="1" fill="#000"/>
<rect x="428" y="511" width="1" height="1" fill="#000"/>
<rect x="446" y="511" width="1" height="1" fill="#000"/>
<rect x="451" y="511" width="1" height="1" fill="#000"/>
<rect x="469" y="511" width="1" height="1" fill="#000"/>
<rect x="469" y="510" width="1" height="1" fill="#000"/>
<rect x="478" y="511" width="1" height="1" fill="#000"/>
<rect x="482" y="511" width="1" height="1" fill="#000"/>
<rect x="489" y="511" width="1" height="1" fill="#000"/>
<rect x="494" y="511" width="1" height="1" fill="#000"/>
<rect x="498" y="511" width="1" height="1" fill="#000"/>
<rect x="516" y="511" width="1" height="1" fill="#000"/>
<rect x="519" y="511" width="1" height="1" fill="#000"/>
<rect x="528" y="511" width="1" height="1" fill="#000"/>
<rect x="542" y="511" width="1" height="1" fill="#000"/>
<rect x="547" y="511" width="1" height="1" fill="#000"/>
<rect x="547" y="510" width="1" height="1" fill="#000"/>
<rect x="550" y="511" width="1" height="1" fill="#000"/>
<rect x="559" y="511" width="1" height="1" fill="#000"/>
<rect x="564" y="511" width="1" height="1" fill="#000"/>
<rect x="569" y="511" width="1" height="1" fill="#000"/>
<rect x="581" y="511" width="1" height="1" fill="#000"/>
<rect x="581" y="510" width="1" height="1" fill="#000"/>
<rect x="593" y="511" width="1" height="1" fill="#000"/>
<rect x="596" y="511" width="1" height="1" fill="#000"/>
<rect x="603" y="511" width="1" height="1" fill="#000"/>
<rect x="608" y="511" width="1" height="1" fill="#000"/>
<rect x="622" y="511" width="1" height="1" fill="#000"/>
<rect x="631" y="511" width="1" height="1" fill="#000"/>
<rect x="638" y="511" width="1" height="1" fill="#000"/>
<rect x="643" y="511" width="1" height="1" fill="#000"/>
<rect x="643" y="510" width="1" height="1" fill="#000"/>
<rect x="661" y="511" width="1" height="1" fill="#000"/>
<rect x="675" y="511" width="1" height="1" fill="#000"/>
<rect x="680" y="511" width="1" height="1" fill="#000"/>
<rect x="680" y="510" width="1" height="1" fill="#000"/>
<rect x="687" y="511" width="1" height="1" fill="#000"/>
<rect x="719" y="202" width="9" height="108" fill="url(#cb)"/>
<rect x="728" y="201" width="1" height="110" fill="#000"/>
<rect x="728" y="201" width="5" height="1" fill="#000"/>
<rect x="728" y="228" width="5" height="1" fill="#000"/>
<rect x="728" y="255" width="5" height="1" fill="#000"/>
<rect x="728" y="283" width="5" height="1" fill="#000"/>
<rect x="728" y="310" width="5" height="1" fill="#000"/>
<rect x="719" y="368" width="9" height="108" fill="url(#cb)"/>
<rect x="728" y="367" width="1" height="110" fill="#000"/>
<rect x="728" y="367" width="5" height="1" fill="#000"/>
<rect x="728" y="394" width="5" height="1" fill="#000"/>
<rect x="728" y="421" width="5" height="1" fill="#000"/>
<rect x="728" y="449" width="5" height="1" fill="#000"/>
<rect x="728" y="476" width="5" height="1" fill="#000"/>
</svg>
<svg width="0" height="0" style="position:absolute"><filter id="nz" x="0" y="0" width="100%" height="100%" color-interpolation-filters="sRGB"><feTurbulence type="fractalNoise" baseFrequency="0.75 0.75" numOctaves="1" seed="7" result="t"/><feColorMatrix in="t" type="matrix" values="0 0 0 0 0 0 0 0 0 0 0 0 0 0 0 3.2 0 0 0 -1.65" result="m"/><feComposite in="SourceGraphic" in2="m" operator="out"/></filter><filter id="hz" x="0" y="0" width="100%" height="100%" color-interpolation-filters="sRGB"><feTurbulence type="fractalNoise" baseFrequency="0.7" numOctaves="2" seed="11" result="n"/><feColorMatrix in="n" type="matrix" values="0 0 0 0 0 0 0 0 0 0 0 0 0 0 0 6 0 0 0 -2.8" result="m"/><feComposite in="SourceGraphic" in2="m" operator="in"/></filter></svg>
<div class="s" style="top:167px"><div class="h"><i style="left:8px;top:13px;width:5px;height:46px;background:linear-gradient(#0000,#0000a0 25%,#0000a0 70%,#0000)"></i><i style="left:11px;top:15px;width:5px;height:44px;background:linear-gradient(#0000,#0000a0 25%,#0000a0 70%,#0000)"></i><i style="left:21px;top:13px;width:5px;height:46px;background:linear-gradient(#0000,#0000a0 25%,#0000a0 70%,#0000)"></i><i style="left:24px;top:14px;width:3px;height:25px;background:linear-gradient(#0000,#000070 25%,#000070 70%,#0000)"></i><i style="left:31px;top:16px;width:3px;height:43px;background:linear-gradient(#0000,#000070 25%,#000070 70%,#0000)"></i><i style="left:34px;top:17px;width:3px;height:42px;background:linear-gradient(#0000,#000070 25%,#000070 70%,#0000)"></i><i style="left:37px;top:13px;width:5px;height:36px;background:linear-gradient(#0000,#0000a0 25%,#0000a0 70%,#0000)"></i><i style="left:42px;top:4px;width:6px;height:55px;background:linear-gradient(#0000,#0000a0 25%,#0000a0 70%,#0000)"></i><i style="left:65px;top:29px;width:6px;height:30px;background:linear-gradient(#0000,#0000a0 25%,#0000a0 70%,#0000)"></i><i style="left:69px;top:16px;width:5px;height:43px;background:linear-gradient(#0000,#0000a0 25%,#0000a0 70%,#0000)"></i><i style="left:81px;top:-1px;width:6px;height:60px;background:linear-gradient(#0000,#0000a0 25%,#0000a0 70%,#0000)"></i><i style="left:86px;top:13px;width:5px;height:46px;background:linear-gradient(#0000,#0000a0 25%,#0000a0 70%,#0000)"></i><i style="left:90px;top:12px;width:3px;height:47px;background:linear-gradient(#0000,#000070 25%,#000070 70%,#0000)"></i><i style="left:103px;top:15px;width:3px;height:34px;background:linear-gradient(#0000,#000070 25%,#000070 70%,#0000)"></i><i style="left:106px;top:14px;width:6px;height:45px;background:linear-gradient(#0000,#000070 25%,#000070 70%,#0000)"></i><i style="left:122px;top:9px;width:5px;height:50px;background:linear-gradient(#0000,#0000a0 25%,#0000a0 70%,#0000)"></i><i style="left:139px;top:14px;width:3px;height:45px;background:linear-gradient(#0000,#000070 25%,#000070 70%,#0000)"></i><i style="left:142px;top:15px;width:3px;height:44px;background:linear-gradient(#0000,#000070 25%,#000070 70%,#0000)"></i><i style="left:144px;top:14px;width:3px;height:45px;background:linear-gradient(#0000,#000070 25%,#000070 70%,#0000)"></i><i style="left:152px;top:7px;width:5px;height:52px;background:linear-gradient(#0000,#0000a0 25%,#0000a0 70%,#0000)"></i><i style="left:165px;top:11px;width:5px;height:48px;background:linear-gradient(#0000,#0000a0 25%,#0000a0 70%,#0000)"></i><i style="left:170px;top:4px;width:5px;height:55px;background:linear-gradient(#0000,#0000a0 25%,#0000a0 70%,#0000)"></i><i style="left:184px;top:-1px;width:5px;height:60px;background:linear-gradient(#0000,#0000a0 25%,#0000a0 70%,#0000)"></i><i style="left:194px;top:14px;width:3px;height:45px;background:linear-gradient(#0000,#000070 25%,#000070 70%,#0000)"></i><i style="left:202px;top:16px;width:3px;height:43px;background:linear-gradient(#0000,#000070 25%,#000070 70%,#0000)"></i><i style="left:205px;top:15px;width:5px;height:44px;background:linear-gradient(#0000,#000070 25%,#000070 70%,#0000)"></i><i style="left:221px;top:-1px;width:5px;height:60px;background:linear-gradient(#0000,#0000a0 25%,#0000a0 70%,#0000)"></i><i style="left:229px;top:14px;width:5px;height:13px;background:linear-gradient(#0000,#0000a0 25%,#0000a0 70%,#0000)"></i><i style="left:244px;top:7px;width:5px;height:52px;background:linear-gradient(#0000,#0000a0 25%,#0000a0 70%,#0000)"></i><i style="left:256px;top:-1px;width:5px;height:60px;background:linear-gradient(#0000,#0000a0 25%,#0000a0 70%,#0000)"></i><i style="left:260px;top:12px;width:3px;height:47px;background:linear-gradient(#0000,#000070 25%,#000070 70%,#0000)"></i><i style="left:264px;top:47px;width:3px;height:12px;background:linear-gradient(#0000,#000070 25%,#000070 70%,#0000)"></i><i style="left:267px;top:9px;width:5px;height:50px;background:linear-gradient(#0000,#0000a0 25%,#0000a0 70%,#0000)"></i><i style="left:281px;top:12px;width:5px;height:47px;background:linear-gradient(#0000,#0000a0 25%,#0000a0 70%,#0000)"></i><i style="left:285px;top:15px;width:5px;height:44px;background:linear-gradient(#0000,#0000a0 25%,#0000a0 70%,#0000)"></i><i style="left:312px;top:12px;width:5px;height:47px;background:linear-gradient(#0000,#0000a0 25%,#0000a0 70%,#0000)"></i><i style="left:316px;top:14px;width:5px;height:45px;background:linear-gradient(#0000,#0000a0 25%,#0000a0 70%,#0000)"></i><i style="left:326px;top:14px;width:5px;height:45px;background:linear-gradient(#0000,#0000a0 25%,#0000a0 70%,#0000)"></i><i style="left:329px;top:17px;width:5px;height:42px;background:linear-gradient(#0000,#0000a0 25%,#0000a0 70%,#0000)"></i><i style="left:334px;top:18px;width:3px;height:41px;background:linear-gradient(#0000,#000070 25%,#000070 70%,#0000)"></i><i style="left:343px;top:15px;width:5px;height:44px;background:linear-gradient(#0000,#0000a0 25%,#0000a0 70%,#0000)"></i><i style="left:358px;top:15px;width:3px;height:44px;background:linear-gradient(#0000,#000070 25%,#000070 70%,#0000)"></i><i style="left:355px;top:15px;width:7px;height:44px;background:linear-gradient(#0000,#000070 25%,#000070 70%,#0000)"></i><i style="left:378px;top:15px;width:5px;height:44px;background:linear-gradient(#0000,#000070 25%,#000070 70%,#0000)"></i><i style="left:398px;top:14px;width:3px;height:45px;background:linear-gradient(#0000,#000070 25%,#000070 70%,#0000)"></i><i style="left:403px;top:14px;width:5px;height:45px;background:linear-gradient(#0000,#0000a0 25%,#0000a0 70%,#0000)"></i><i style="left:408px;top:16px;width:3px;height:43px;background:linear-gradient(#0000,#000070 25%,#000070 70%,#0000)"></i><i style="left:412px;top:-1px;width:5px;height:60px;background:linear-gradient(#0000,#0000a0 25%,#0000a0 70%,#0000)"></i><i style="left:414px;top:-1px;width:5px;height:60px;background:linear-gradient(#0000,#0000a0 25%,#0000a0 70%,#0000)"></i><i style="left:428px;top:17px;width:5px;height:42px;background:linear-gradient(#0000,#0000a0 25%,#0000a0 70%,#0000)"></i><i style="left:435px;top:-1px;width:5px;height:60px;background:linear-gradient(#0000,#0000a0 25%,#0000a0 70%,#0000)"></i><i style="left:439px;top:14px;width:5px;height:45px;background:linear-gradient(#0000,#0000a0 25%,#0000a0 70%,#0000)"></i><i style="left:445px;top:16px;width:3px;height:43px;background:linear-gradient(#0000,#000070 25%,#000070 70%,#0000)"></i><i style="left:452px;top:11px;width:5px;height:48px;background:linear-gradient(#0000,#0000a0 25%,#0000a0 70%,#0000)"></i><i style="left:454px;top:15px;width:5px;height:44px;background:linear-gradient(#0000,#0000a0 25%,#0000a0 70%,#0000)"></i><i style="left:458px;top:17px;width:6px;height:37px;background:linear-gradient(#0000,#0000a0 25%,#0000a0 70%,#0000)"></i><i style="left:469px;top:16px;width:3px;height:43px;background:linear-gradient(#0000,#000070 25%,#000070 70%,#0000)"></i><i style="left:484px;top:13px;width:5px;height:46px;background:linear-gradient(#0000,#0000a0 25%,#0000a0 70%,#0000)"></i><i style="left:507px;top:17px;width:5px;height:42px;background:linear-gradient(#0000,#0000a0 25%,#0000a0 70%,#0000)"></i><i style="left:511px;top:9px;width:5px;height:50px;background:linear-gradient(#0000,#0000a0 25%,#0000a0 70%,#0000)"></i><i style="left:524px;top:15px;width:5px;height:44px;background:linear-gradient(#0000,#0000a0 25%,#0000a0 70%,#0000)"></i><i style="left:528px;top:12px;width:5px;height:47px;background:linear-gradient(#0000,#0000a0 25%,#0000a0 70%,#0000)"></i><i style="left:531px;top:14px;width:4px;height:45px;background:linear-gradient(#0000,#000070 25%,#000070 70%,#0000)"></i><i style="left:543px;top:11px;width:5px;height:48px;background:linear-gradient(#0000,#0000a0 25%,#0000a0 70%,#0000)"></i><i style="left:553px;top:11px;width:5px;height:48px;background:linear-gradient(#0000,#0000a0 25%,#0000a0 70%,#0000)"></i><i style="left:560px;top:15px;width:3px;height:44px;background:linear-gradient(#0000,#000070 25%,#000070 70%,#0000)"></i><i style="left:561px;top:14px;width:6px;height:45px;background:linear-gradient(#0000,#0000a0 25%,#0000a0 70%,#0000)"></i><i style="left:565px;top:14px;width:3px;height:45px;background:linear-gradient(#0000,#000070 25%,#000070 70%,#0000)"></i><i style="left:570px;top:17px;width:5px;height:42px;background:linear-gradient(#0000,#0000a0 25%,#0000a0 70%,#0000)"></i><i style="left:574px;top:16px;width:5px;height:43px;background:linear-gradient(#0000,#000070 25%,#000070 70%,#0000)"></i><i style="left:578px;top:17px;width:5px;height:17px;background:linear-gradient(#0000,#0000a0 25%,#0000a0 70%,#0000)"></i><i style="left:582px;top:14px;width:5px;height:45px;background:linear-gradient(#0000,#0000a0 25%,#0000a0 70%,#0000)"></i><i style="left:586px;top:14px;width:5px;height:45px;background:linear-gradient(#0000,#0000a0 25%,#0000a0 70%,#0000)"></i><i style="left:607px;top:17px;width:3px;height:28px;background:linear-gradient(#0000,#000070 25%,#000070 70%,#0000)"></i></div><b style="top:145px"></b><div class="t"><i style="left:5px;top:18px;width:1px;height:38px;background:linear-gradient(#00f0,#00f5 16%,#00f5 82%,#00f0)"></i><i style="left:162px;top:17px;width:1px;height:46px;background:linear-gradient(#00f0,#00f5 4%,#00f5 96%,#00f0)"></i><i style="left:192px;top:17px;width:1px;height:28px;background:linear-gradient(#00f0,#00f5 7%,#00f5 93%,#00f0)"></i><i style="left:220px;top:17px;width:1px;height:16px;background:linear-gradient(#00f0,#00f5 12%,#00f5 88%,#00f0)"></i><i style="left:263px;top:17px;width:1px;height:22px;background:linear-gradient(#00f0,#00f5 9%,#00f5 91%,#00f0)"></i><i style="left:291px;top:17px;width:1px;height:16px;background:linear-gradient(#00f0,#00f5 12%,#00f5 88%,#00f0)"></i><i style="left:307px;top:17px;width:1px;height:10px;background:linear-gradient(#00f0,#00f5 20%,#00f5 80%,#00f0)"></i><i style="left:321px;top:17px;width:1px;height:26px;background:linear-gradient(#00f0,#00f5 8%,#00f5 92%,#00f0)"></i><i style="left:343px;top:17px;width:1px;height:16px;background:linear-gradient(#00f0,#00f5 12%,#00f5 88%,#00f0)"></i><i style="left:390px;top:17px;width:1px;height:10px;background:linear-gradient(#00f0,#00f5 20%,#00f5 80%,#00f0)"></i><i style="left:450px;top:16px;width:1px;height:25px;background:linear-gradient(#00f0,#00f5 8%,#00f5 92%,#00f0)"></i><i style="left:539px;top:16px;width:1px;height:13px;background:linear-gradient(#00f0,#00f5 15%,#00f5 85%,#00f0)"></i><i style="left:18px;top:16px;width:1px;height:25px;background:linear-gradient(#00f0,#00f8 10%,#00f 20%,#00f 84%,#00f8 92%,#00f0)"></i><i style="left:73px;top:17px;width:1px;height:16px;background:linear-gradient(#00f0,#00f8 6%,#00f 12%,#00f 88%,#00f8 94%,#00f0)"></i><i style="left:10px;top:144px;width:1px;height:6px;background:linear-gradient(#00f0,#00f8 8%,#00f 17%,#00f 83%,#00f8 92%,#00f0)"></i><i style="left:13px;top:145px;width:1px;height:7px;background:linear-gradient(#00f0,#00f8 7%,#00f 14%,#00f 86%,#00f8 93%,#00f0)"></i><i style="left:23px;top:141px;width:1px;height:7px;background:linear-gradient(#00f0,#00f8 7%,#00f 14%,#00f 86%,#00f8 93%,#00f0)"></i><i style="left:39px;top:147px;width:1px;height:5px;background:linear-gradient(#00f0,#00f8 10%,#00f 20%,#00f 80%,#00f8 90%,#00f0)"></i><i style="left:65px;top:147px;width:1px;height:5px;background:linear-gradient(#00f0,#00f8 10%,#00f 20%,#00f 80%,#00f8 90%,#00f0)"></i><i style="left:79px;top:144px;width:1px;height:6px;background:linear-gradient(#00f0,#00f8 8%,#00f 17%,#00f 83%,#00f8 92%,#00f0)"></i><i style="left:106px;top:17px;width:1px;height:24px;background:linear-gradient(#00f0,#00f8 4%,#00f 8%,#00f 92%,#00f8 96%,#00f0)"></i><i style="left:113px;top:15px;width:1px;height:56px;background:linear-gradient(#00f0,#00f8 2%,#00f 4%,#00f 96%,#00f8 98%,#00f0)"></i><i style="left:122px;top:17px;width:1px;height:17px;background:linear-gradient(#00f0,#00f8 6%,#00f 12%,#00f 88%,#00f8 94%,#00f0)"></i><i style="left:124px;top:137px;width:1px;height:15px;background:linear-gradient(#00f0,#00f8 7%,#00f 13%,#00f 93%,#00f8 97%,#00f0)"></i><i style="left:151px;top:16px;width:1px;height:63px;background:linear-gradient(#00f0,#00f8 2%,#00f 3%,#00fa 50%,#00f5 97%,#00f0)"></i><i style="left:157px;top:17px;width:1px;height:88px;background:linear-gradient(#00f0,#00f8 1%,#00f 2%,#00f 68%,#00f8 84%,#00f0)"></i><i style="left:175px;top:15px;width:1px;height:30px;background:linear-gradient(#00f0,#00f8 3%,#00f 7%,#00f 93%,#00f8 97%,#00f0)"></i><i style="left:111px;top:139px;width:1px;height:11px;background:linear-gradient(#00f0,#00f8 5%,#00f 9%,#00f 91%,#00f8 95%,#00f0)"></i><i style="left:131px;top:143px;width:1px;height:5px;background:linear-gradient(#00f0,#00f8 10%,#00f 20%,#00f 80%,#00f8 90%,#00f0)"></i><i style="left:156px;top:139px;width:1px;height:10px;background:linear-gradient(#00f0,#00f8 5%,#00f 10%,#00f 90%,#00f8 95%,#00f0)"></i><i style="left:205px;top:21px;width:1px;height:58px;background:linear-gradient(#00f0,#00f8 2%,#00f 3%,#00f 97%,#00f8 98%,#00f0)"></i><i style="left:235px;top:16px;width:1px;height:41px;background:linear-gradient(#00f0,#00f8 2%,#00f 5%,#00f 93%,#00f8 96%,#00f0)"></i><i style="left:267px;top:16px;width:1px;height:29px;background:linear-gradient(#00f0,#00f8 3%,#00f 7%,#00f 93%,#00f8 97%,#00f0)"></i><i style="left:276px;top:17px;width:1px;height:36px;background:linear-gradient(#00f0,#00f8 3%,#00f 6%,#00f 94%,#00f8 97%,#00f0)"></i><i style="left:279px;top:17px;width:1px;height:28px;background:linear-gradient(#00f0,#00f8 4%,#00f 7%,#00f 93%,#00f8 96%,#00f0)"></i><i style="left:240px;top:142px;width:1px;height:5px;background:linear-gradient(#00f0,#00f8 10%,#00f 20%,#00f 80%,#00f8 90%,#00f0)"></i><i style="left:304px;top:17px;width:1px;height:66px;background:linear-gradient(#00f0,#00f8 2%,#00f 3%,#00f 91%,#00f8 95%,#00f0)"></i><i style="left:358px;top:130px;width:1px;height:12px;background:linear-gradient(#00f0,#00f8 8%,#00f 17%,#00f 92%,#00f8 96%,#00f0)"></i><i style="left:362px;top:142px;width:1px;height:7px;background:linear-gradient(#00f0,#00f8 7%,#00f 14%,#00f 86%,#00f8 93%,#00f0)"></i><i style="left:378px;top:2px;width:1px;height:13px;background:linear-gradient(#00f0,#00f8 8%,#00f 15%,#00f 85%,#00f8 92%,#00f0)"></i><i style="left:380px;top:138px;width:1px;height:13px;background:linear-gradient(#00f0,#00f8 8%,#00f 15%,#00f 92%,#00f8 96%,#00f0)"></i><i style="left:387px;top:16px;width:1px;height:80px;background:linear-gradient(#00f0,#00f8 1%,#00f 2%,#00f 76%,#00f8 88%,#00f0)"></i><i style="left:405px;top:145px;width:1px;height:6px;background:linear-gradient(#00f0,#00f8 8%,#00f 17%,#00f 83%,#00f8 92%,#00f0)"></i><i style="left:430px;top:148px;width:1px;height:4px;background:linear-gradient(#00f0,#00f8 12%,#00f 25%,#00f 75%,#00f8 88%,#00f0)"></i><i style="left:446px;top:148px;width:1px;height:4px;background:linear-gradient(#00f0,#00f8 12%,#00f 25%,#00f 75%,#00f8 88%,#00f0)"></i><i style="left:454px;top:140px;width:1px;height:11px;background:linear-gradient(#00f0,#00f8 9%,#00f 18%,#00f 91%,#00f8 95%,#00f0)"></i><i style="left:456px;top:143px;width:1px;height:8px;background:linear-gradient(#00f0,#00f8 6%,#00f 12%,#00f 88%,#00f8 94%,#00f0)"></i><i style="left:476px;top:15px;width:1px;height:38px;background:linear-gradient(#00f0,#00f8 3%,#00f 5%,#00f 89%,#00f8 95%,#00f0)"></i><i style="left:493px;top:15px;width:1px;height:30px;background:linear-gradient(#00f0,#00f8 3%,#00f 7%,#00f 93%,#00f8 97%,#00f0)"></i><i style="left:550px;top:17px;width:1px;height:40px;background:linear-gradient(#00f0,#00f8 2%,#00f 5%,#00f 80%,#00f8 90%,#00f0)"></i><i style="left:557px;top:17px;width:1px;height:34px;background:linear-gradient(#00f0,#00f8 3%,#00f 6%,#00f 88%,#00f8 94%,#00f0)"></i><i style="left:566px;top:140px;width:1px;height:10px;background:linear-gradient(#00f0,#00f8 10%,#00f 20%,#00f 90%,#00f8 95%,#00f0)"></i><i style="left:569px;top:16px;width:1px;height:23px;background:linear-gradient(#00f0,#00f8 4%,#00f 9%,#00f 91%,#00f8 96%,#00f0)"></i><i style="left:591px;top:77px;width:1px;height:16px;background:linear-gradient(#00f,#00f8 50%,#00f0)"></i><i style="left:594px;top:17px;width:1px;height:34px;background:linear-gradient(#00f0,#00f8 3%,#00f 6%,#00f 88%,#00f8 94%,#00f0)"></i><i style="left:97px;top:17px;width:1px;height:27px;background:linear-gradient(#00f0,#00f7 2%,#00f 5%,#08f 7%,#00f 81%,#00f8 91%,#00f0)"></i><i style="left:138px;top:16px;width:1px;height:69px;background:linear-gradient(#00f0,#00f7 1%,#00f 2%,#08f 3%,#08f 88%,#00f 92%,#00f7 96%,#00f0)"></i><i style="left:167px;top:140px;width:1px;height:11px;background:linear-gradient(#00f0,#00f7 6%,#00f 12%,#08f 18%,#08f 91%,#00f 94%,#00f7 97%,#00f0)"></i><i style="left:213px;top:16px;width:1px;height:35px;background:linear-gradient(#00f0,#00f7 2%,#00f 4%,#08f 6%,#08f 37%,#00f 80%,#00f8 90%,#00f0)"></i><i style="left:217px;top:16px;width:1px;height:48px;background:linear-gradient(#00f0,#00f7 1%,#00f 3%,#08f 4%,#08f 48%,#00f 90%,#00f8 95%,#00f0)"></i><i style="left:272px;top:145px;width:1px;height:7px;background:linear-gradient(#00f0,#00f7 5%,#00f 10%,#08f 14%,#00f 86%,#00f8 93%,#00f0)"></i><i style="left:341px;top:15px;width:1px;height:50px;background:linear-gradient(#00f0,#00f7 1%,#00f 3%,#08f 4%,#08f 68%,#00f 96%,#00f8 98%,#00f0)"></i><i style="left:358px;top:138px;width:1px;height:13px;background:linear-gradient(#00f0,#00f7 5%,#00f 10%,#08f 15%,#08f 85%,#00f 90%,#00f7 95%,#00f0)"></i><i style="left:361px;top:16px;width:1px;height:73px;background:linear-gradient(#00f0,#00f6 1%,#00fd 2%,#05f 3%,#05f 84%,#00fd 89%,#00f6 95%,#00f0)"></i><i style="left:362px;top:16px;width:1px;height:73px;background:linear-gradient(#00f0,#00f6 1%,#00fd 2%,#05f 3%,#05f 84%,#00fd 89%,#00f6 95%,#00f0)"></i><i style="left:369px;top:16px;width:1px;height:38px;background:linear-gradient(#00f0,#00f7 2%,#00f 4%,#08f 5%,#08f 87%,#00f 91%,#00f7 96%,#00f0)"></i><i style="left:380px;top:74px;width:1px;height:14px;background:linear-gradient(#00f0,#00f7 7%,#00f 14%,#08f 21%,#00f 50%,#00f8 75%,#00f0)"></i><i style="left:407px;top:14px;width:1px;height:65px;background:linear-gradient(#00f0,#00f7 1%,#00f 2%,#08f 3%,#08f 97%,#00f 98%,#00f7 99%,#00f0)"></i><i style="left:435px;top:11px;width:1px;height:74px;background:linear-gradient(#00f0,#00f7 1%,#00f 3%,#08f 4%,#08f 89%,#00f 93%,#00f7 96%,#00f0)"></i><i style="left:473px;top:15px;width:1px;height:32px;background:linear-gradient(#00f0,#00f7 2%,#00f 4%,#08f 6%,#00f 75%,#00f8 88%,#00f0)"></i><i style="left:483px;top:11px;width:1px;height:68px;background:linear-gradient(#00f0,#00f8 1%,#00f 3%,#08f 9%,#00f 97%,#00f8 99%,#00f0)"></i><i style="left:516px;top:12px;width:1px;height:54px;background:linear-gradient(#00f0,#00f8 2%,#00f 4%,#08f 13%,#08f 59%,#00f 78%,#00f8 89%,#00f0)"></i><i style="left:517px;top:12px;width:1px;height:54px;background:linear-gradient(#00f0,#00f3 4%,#00fa 13%,#00fa 59%,#00f3 78%,#00f0)"></i><i style="left:537px;top:13px;width:1px;height:42px;background:linear-gradient(#00f0,#00f7 2%,#00f 3%,#08f 5%,#08f 62%,#00f 86%,#00f8 93%,#00f0)"></i><i style="left:542px;top:14px;width:1px;height:49px;background:linear-gradient(#00f0,#00f7 1%,#00f 3%,#08f 4%,#08f 71%,#00f 92%,#00f8 96%,#00f0)"></i><i style="left:602px;top:17px;width:1px;height:37px;background:linear-gradient(#00f0,#00f7 2%,#00f 4%,#08f 5%,#08f 59%,#00f 86%,#00f8 93%,#00f0)"></i><i style="left:612px;top:16px;width:1px;height:33px;background:linear-gradient(#00f0,#00f7 2%,#00f 4%,#08f 6%,#08f 55%,#00f 88%,#00f8 94%,#00f0)"></i><i style="left:28px;top:139px;width:1px;height:13px;background:linear-gradient(#00f0,#00f7 8%,#00fe 15%,#06f 23%,#0ff 31%,#0ff 77%,#06f 83%,#00fe 88%,#00f7 94%,#00f0)"></i><i style="left:90px;top:142px;width:1px;height:10px;background:linear-gradient(#00f0,#00f7 8%,#00fe 15%,#06f 22%,#0ff 30%,#0ff 90%,#06f 92%,#00fe 95%,#00f7 98%,#00f0)"></i><i style="left:145px;top:137px;width:1px;height:14px;background:linear-gradient(#00f0,#00f7 4%,#00fe 7%,#06f 11%,#0ff 14%,#0ff 93%,#06f 95%,#00fe 96%,#00f7 98%,#00f0)"></i><i style="left:169px;top:16px;width:1px;height:10px;background:linear-gradient(#00f0,#00f7 5%,#00fe 10%,#06f 15%,#0ff 20%,#0ff 80%,#06f 85%,#00fe 90%,#00f7 95%,#00f0)"></i><i style="left:203px;top:137px;width:1px;height:15px;background:linear-gradient(#00f0,#00f7 4%,#00f 9%,#08f 13%,#0ff 93%,#06f 95%,#00fe 97%,#00f7 98%,#00f0)"></i><i style="left:233px;top:19px;width:1px;height:17px;background:linear-gradient(#00f0,#00f7 3%,#00fe 6%,#06f 9%,#0ff 12%,#0ff 82%,#06f 87%,#00fe 91%,#00f7 96%,#00f0)"></i><i style="left:240px;top:15px;width:1px;height:74px;background:linear-gradient(#00f0,#00f7 1%,#00f 2%,#08f 3%,#0ff 19%,#0ff 84%,#07f 91%,#00f 97%,#00f8 99%,#00f0)"></i><i style="left:256px;top:14px;width:1px;height:85px;background:linear-gradient(#00f0,#00f6 1%,#00fc 1%,#04f 2%,#0bf 2%,#0bf 74%,#05f 88%,#00fd 92%,#00f6 96%,#00f0)"></i><i style="left:257px;top:14px;width:1px;height:85px;background:linear-gradient(#00f0,#00f6 1%,#00fc 1%,#04f 2%,#0bf 2%,#0bf 74%,#05f 88%,#00fd 92%,#00f6 96%,#00f0)"></i><i style="left:271px;top:4px;width:1px;height:80px;background:linear-gradient(#00f0,#00f5 4%,#00f5 11%,#00fc 12%,#03f 14%,#00fc 91%,#00f6 96%,#00f0)"></i><i style="left:272px;top:4px;width:1px;height:87px;background:linear-gradient(#00f0,#00f8 2%,#00f 3%,#00f 10%,#07f 11%,#0ff 13%,#0ff 84%,#07f 88%,#00f 92%,#00f8 96%,#00f0)"></i><i style="left:230px;top:148px;width:1px;height:4px;background:linear-gradient(#00f0,#00f7 6%,#00fe 12%,#06f 19%,#0ff 25%,#0ff 75%,#06f 81%,#00fe 88%,#00f7 94%,#00f0)"></i><i style="left:425px;top:13px;width:1px;height:44px;background:linear-gradient(#00f0,#00f8 2%,#00f 5%,#07f 8%,#0ff 11%,#0ff 82%,#07f 89%,#00f 95%,#00f8 98%,#00f0)"></i><i style="left:465px;top:15px;width:1px;height:79px;background:linear-gradient(#00f0,#00f8 1%,#00f 3%,#00f 48%,#07f 50%,#0ff 52%,#0ff 78%,#08f 87%,#00f 92%,#00f7 96%,#00f0)"></i><i style="left:470px;top:145px;width:1px;height:6px;background:linear-gradient(#00f0,#00f7 4%,#00fe 8%,#06f 12%,#0ff 17%,#0ff 83%,#06f 88%,#00fe 92%,#00f7 96%,#00f0)"></i><i style="left:489px;top:136px;width:1px;height:14px;background:linear-gradient(#00f0,#00f7 5%,#00f 10%,#08f 14%,#0ff 43%,#0ff 93%,#06f 95%,#00fe 96%,#00f7 98%,#00f0)"></i><i style="left:496px;top:12px;width:1px;height:33px;background:linear-gradient(#00f0,#00f8 3%,#00f 6%,#07f 11%,#0ff 15%,#0ff 76%,#07f 85%,#00f 94%,#00f8 97%,#00f0)"></i><i style="left:28px;top:12px;width:1px;height:84px;background:linear-gradient(#00f0,#00f6 1%,#00fd 2%,#04f 3%,#0cf 4%,#0fa 20%,#0cf 56%,#0cf 77%,#05f 82%,#00fd 87%,#00f7 93%,#00f0)"></i><i style="left:29px;top:12px;width:1px;height:84px;background:linear-gradient(#00f0,#00f6 1%,#00fc 2%,#03f 3%,#0af 4%,#0fc 20%,#0af 56%,#0af 77%,#03f 82%,#00fb 87%,#00f6 93%,#00f0)"></i><i style="left:52px;top:15px;width:1px;height:44px;background:linear-gradient(#00f0,#00f7 1%,#00fe 2%,#06f 3%,#0ff 5%,#0f8 32%,#0ff 77%,#07f 86%,#00f 95%,#00f8 98%,#00f0)"></i><i style="left:57px;top:13px;width:1px;height:74px;background:linear-gradient(#00f0,#00f8 2%,#00f 4%,#07f 6%,#0ff 8%,#0f8 35%,#0ff 86%,#07f 91%,#00f 95%,#00f8 97%,#00f0)"></i><i style="left:65px;top:7px;width:1px;height:86px;background:linear-gradient(#00f0,#00f7 2%,#00fd 3%,#05f 7%,#0cf 10%,#0fa 26%,#0fa 60%,#0df 71%,#06f 81%,#00fd 98%,#00f7 99%,#00f0)"></i><i style="left:66px;top:7px;width:1px;height:86px;background:linear-gradient(#00f0,#00f6 2%,#00fb 3%,#03f 7%,#0af 10%,#0fc 26%,#0fc 60%,#0af 71%,#04f 81%,#00fb 98%,#00f6 99%,#00f0)"></i><i style="left:79px;top:12px;width:1px;height:73px;background:linear-gradient(#00f0,#00f7 1%,#00fe 1%,#06f 2%,#0ff 3%,#0f8 23%,#0ff 89%,#07f 93%,#00f 97%,#00f8 99%,#00f0)"></i><i style="left:118px;top:10px;width:1px;height:46px;background:linear-gradient(#00f0,#00f8 2%,#00f 4%,#07f 11%,#0ff 17%,#0f8 52%,#0ff 85%,#07f 90%,#00f 96%,#00f8 98%,#00f0)"></i><i style="left:130px;top:10px;width:1px;height:107px;background:linear-gradient(#00f0,#00f8 1%,#00f 3%,#07f 5%,#0ff 7%,#0f8 18%,#0ff 63%,#08f 70%,#00f 90%,#00fa 94%,#00f5 99%,#00f0)"></i><i style="left:183px;top:12px;width:1px;height:59px;background:linear-gradient(#00f0,#00f7 1%,#00fe 2%,#06f 3%,#0ff 3%,#0f8 29%,#0ff 63%,#07f 80%,#00f 97%,#00f8 98%,#00f0)"></i><i style="left:228px;top:12px;width:1px;height:80px;background:linear-gradient(#00f0,#00f7 1%,#00f 2%,#08f 4%,#0fe 12%,#0f8 21%,#0ff 81%,#08f 90%,#00f 93%,#00f7 97%,#00f0)"></i><i style="left:249px;top:12px;width:1px;height:75px;background:linear-gradient(#00f0,#00f8 1%,#00f 3%,#07f 5%,#0ff 8%,#0f8 23%,#0f8 87%,#0fe 90%,#08f 93%,#00f 96%,#00f7 98%,#00f0)"></i><i style="left:296px;top:11px;width:1px;height:50px;background:linear-gradient(#00f0,#00f8 2%,#00f 4%,#07f 6%,#0ff 8%,#0f8 10%,#0f8 56%,#0fe 61%,#08f 66%,#00f 96%,#00f8 98%,#00f0)"></i><i style="left:301px;top:11px;width:1px;height:92px;background:linear-gradient(#00f0,#00f8 1%,#00f 2%,#07f 3%,#0ff 4%,#0f8 5%,#0f8 25%,#0fe 28%,#08f 30%,#08f 72%,#00f 79%,#00fa 89%,#00f5 99%,#00f0)"></i><i style="left:350px;top:12px;width:1px;height:49px;background:linear-gradient(#00f0,#00f8 2%,#00f 4%,#07f 6%,#0ff 8%,#0f8 10%,#0f8 55%,#0ff 76%,#07f 82%,#00f 88%,#00f8 94%,#00f0)"></i><i style="left:365px;top:11px;width:1px;height:58px;background:linear-gradient(#00f0,#00f8 2%,#00f 3%,#07f 6%,#0ff 8%,#0f8 10%,#0f8 66%,#0ff 86%,#07f 91%,#00f 95%,#00f8 97%,#00f0)"></i><i style="left:372px;top:9px;width:1px;height:48px;background:linear-gradient(#00f0,#00f8 2%,#00f 4%,#07f 6%,#0ff 8%,#0f8 10%,#0f8 62%,#0ff 88%,#07f 92%,#00f 96%,#00f8 98%,#00f0)"></i><i style="left:395px;top:12px;width:1px;height:67px;background:linear-gradient(#00f0,#00f8 1%,#00f 3%,#07f 4%,#0ff 6%,#0f8 7%,#0ff 97%,#06f 98%,#00fe 99%,#00f7 99%,#00f0)"></i><i style="left:444px;top:12px;width:1px;height:75px;background:linear-gradient(#00f0,#00f8 1%,#00f 3%,#07f 4%,#0ff 5%,#0f8 7%,#0f8 87%,#0ef 89%,#06f 92%,#00fe 95%,#00f7 97%,#00f0)"></i><i style="left:489px;top:6px;width:1px;height:124px;background:linear-gradient(#00f0,#00f8 1%,#00f 2%,#07f 4%,#0ff 6%,#0f8 10%,#0f8 27%,#0ff 35%,#0ff 57%,#0f8 59%,#0ff 69%,#07f 70%,#00f 71%,#00f 78%,#07f 79%,#0ff 80%,#0ff 90%,#07f 91%,#00f 92%,#00fa 96%,#00f5 99%,#00f0)"></i><i style="left:490px;top:6px;width:1px;height:85px;background:linear-gradient(#00f0,#00f1 2%,#00f7 5%,#00fe 8%,#05f 15%,#05f 39%,#00fe 51%,#00f9 84%,#00fa 86%,#00f5 93%,#00f0)"></i><i style="left:591px;top:11px;width:1px;height:64px;background:linear-gradient(#00f0,#00f7 1%,#00fe 2%,#06f 2%,#0ff 3%,#0f8 12%,#0ff 59%,#07f 71%,#00f 83%,#00f8 91%,#00f0)"></i><i style="left:25px;top:11px;width:1px;height:37px;background:linear-gradient(#00f0,#00f7 2%,#00fe 4%,#06f 6%,#0ff 8%,#0f8 17%,#0f2 26%,#0f0 35%,#0f2 49%,#0f8 62%,#0ff 76%,#07f 82%,#00f 89%,#00f8 95%,#00f0)"></i><i style="left:32px;top:13px;width:1px;height:59px;background:linear-gradient(#00f0,#00f7 1%,#00fe 3%,#06f 4%,#0ff 5%,#0f8 12%,#0f2 20%,#0f0 27%,#0f2 44%,#0f8 61%,#0ff 78%,#07f 86%,#00f 95%,#00f8 97%,#00f0)"></i><i style="left:35px;top:9px;width:1px;height:82px;background:linear-gradient(#00f0,#00f8 2%,#00f 4%,#07f 7%,#0ff 10%,#0f8 15%,#0f2 20%,#0f0 24%,#0f2 43%,#0f8 61%,#0ff 68%,#07f 76%,#00f 83%,#00fa 90%,#00f5 98%,#00f0)"></i><i style="left:90px;top:5px;width:1px;height:99px;background:linear-gradient(#00f0,#00f6 2%,#00fc 3%,#05f 4%,#0ef 5%,#0f7 6%,#0f0 7%,#0f0 34%,#0f5 54%,#0fb 73%,#0bf 74%,#04f 75%,#00fc 77%,#00f7 87%,#00f2 98%,#00f0)"></i><i style="left:91px;top:5px;width:1px;height:99px;background:linear-gradient(#00f0,#00f6 2%,#00fc 3%,#05f 4%,#0ef 5%,#0f7 6%,#0f0 7%,#0f0 34%,#0f5 54%,#0fb 73%,#0bf 74%,#04f 75%,#00fc 77%,#00f7 87%,#00f2 98%,#00f0)"></i><i style="left:104px;top:13px;width:1px;height:46px;background:linear-gradient(#00f0,#00f7 1%,#00f 1%,#08f 2%,#0fc 3%,#0f4 4%,#0f0 4%,#0f0 57%,#0f2 64%,#0f8 71%,#0ff 78%,#07f 86%,#00f 93%,#00f8 97%,#00f0)"></i><i style="left:140px;top:12px;width:1px;height:97px;background:linear-gradient(#00f0,#00f7 1%,#00fe 1%,#06f 2%,#0ff 2%,#0f8 18%,#0f2 42%,#0f0 67%,#0f2 75%,#0f8 82%,#0ff 93%,#06f 95%,#00fe 96%,#00f7 98%,#00f0)"></i><i style="left:143px;top:13px;width:1px;height:78px;background:linear-gradient(#00f0,#00f7 1%,#00fe 1%,#06f 2%,#0ff 3%,#0f8 6%,#0f2 10%,#0f0 14%,#0f2 37%,#0f8 59%,#0ff 63%,#07f 68%,#00f 72%,#00f 99%,#00f8 99%,#00f0)"></i><i style="left:145px;top:8px;width:1px;height:112px;background:linear-gradient(#00f0,#00f8 1%,#00f 3%,#08f 3%,#0fc 4%,#0f4 5%,#0f0 5%,#0f2 24%,#0f8 43%,#0ff 62%,#08f 65%,#00f 86%,#00fa 92%,#00f5 99%,#00f0)"></i><i style="left:195px;top:11px;width:1px;height:81px;background:linear-gradient(#00f0,#00f7 1%,#00fe 2%,#06f 3%,#0ff 4%,#0f8 22%,#0f2 35%,#0f0 47%,#0f2 58%,#0f8 70%,#0ff 81%,#08f 86%,#00f 91%,#00f7 95%,#00f0)"></i><i style="left:203px;top:2px;width:1px;height:92px;background:linear-gradient(#00f0,#00f8 2%,#00f 3%,#00f 13%,#07f 14%,#0ff 15%,#0f8 18%,#0f2 21%,#0f0 24%,#0f2 43%,#0f8 62%,#0ff 82%,#08f 90%,#00f 93%,#00f7 97%,#00f0)"></i><i style="left:261px;top:6px;width:1px;height:145px;background:linear-gradient(#00f0,#00f8 1%,#00f 1%,#07f 3%,#0ff 4%,#0f8 7%,#0f2 10%,#0f0 12%,#0f0 49%,#0f2 53%,#0f8 57%,#0ff 71%,#08f 77%,#00f 85%,#00f 99%,#00f8 99%,#00f0)"></i><i style="left:265px;top:18px;width:1px;height:86px;background:linear-gradient(#00f0,#00f8 1%,#00f 2%,#00f 31%,#08f 32%,#0fc 33%,#0f4 33%,#0f0 34%,#0f0 69%,#0f2 71%,#0f8 74%,#0ff 77%,#08f 88%,#00f 92%,#00f7 96%,#00f0)"></i><i style="left:335px;top:12px;width:1px;height:93px;background:linear-gradient(#00f0,#00f8 1%,#00f 2%,#08f 3%,#0fc 4%,#0f4 5%,#0f0 6%,#0f0 40%,#0f2 55%,#0f8 70%,#0ff 81%,#08f 94%,#00f 96%,#00f7 98%,#00f0)"></i><i style="left:356px;top:-1px;width:1px;height:90px;background:linear-gradient(#00f,#00f 14%,#08f 15%,#0fc 16%,#0f4 17%,#0f0 18%,#0f4 35%,#0fc 52%,#08f 69%,#00f 87%,#00f8 93%,#00f0)"></i><i style="left:356px;top:138px;width:1px;height:14px;background:linear-gradient(#00f0,#00f7 3%,#00fe 6%,#06f 9%,#0ef 11%,#0f8 14%,#0f2 46%,#0f0 79%,#0f4 82%,#0fc 86%,#08f 89%,#00f 93%,#00f7 96%,#00f0)"></i><i style="left:359px;top:-1px;width:1px;height:80px;background:linear-gradient(#00f,#00f 16%,#08f 17%,#0fc 18%,#0f4 19%,#0f0 20%,#0f2 46%,#0f8 72%,#0ff 98%,#06f 98%,#00fe 99%,#00f7 99%,#00f0)"></i><i style="left:378px;top:13px;width:1px;height:58px;background:linear-gradient(#00f0,#00f7 1%,#00fe 2%,#06f 3%,#06f 19%,#00f 25%,#00fa 31%,#00f3 53%,#00f3 88%,#00f0)"></i><i style="left:379px;top:13px;width:1px;height:61px;background:linear-gradient(#00f0,#00f7 1%,#00f 1%,#07f 2%,#0fd 3%,#0f5 3%,#0f5 18%,#0fb 24%,#0cf 30%,#05f 51%,#05f 84%,#00fd 89%,#00f7 95%,#00f0)"></i><i style="left:380px;top:13px;width:1px;height:61px;background:linear-gradient(#00f0,#00f7 1%,#00f 1%,#08f 2%,#0fc 2%,#0f4 3%,#0f0 3%,#0f0 18%,#0f2 24%,#0f8 30%,#0ff 51%,#0ff 84%,#07f 89%,#00f 95%,#00f8 98%,#00f0)"></i><i style="left:381px;top:13px;width:1px;height:61px;background:linear-gradient(#00f0,#00f6 1%,#00fd 1%,#05f 2%,#0df 3%,#0f9 3%,#0f9 18%,#0ef 24%,#07f 30%,#00f 51%,#00f 84%,#00f9 89%,#00f3 95%,#00f0)"></i><i style="left:399px;top:1px;width:1px;height:86px;background:linear-gradient(#00f0,#00f8 1%,#00f 2%,#00f 12%,#07f 13%,#0ff 15%,#0f8 17%,#0f2 19%,#0f0 21%,#0f2 43%,#0f8 66%,#0ff 88%,#06f 91%,#00fe 94%,#00f7 97%,#00f0)"></i><i style="left:409px;top:11px;width:1px;height:92px;background:linear-gradient(#00f0,#00f8 1%,#00f 2%,#08f 3%,#0fc 4%,#0f4 5%,#0f0 5%,#0f0 30%,#0f2 32%,#0f8 34%,#0ff 36%,#0f8 72%,#0fe 75%,#08f 78%,#00f 96%,#00f8 98%,#00f0)"></i><i style="left:410px;top:11px;width:1px;height:88px;background:linear-gradient(#00f0,#00f3 2%,#00fa 3%,#03f 4%,#0cf 5%,#0f9 6%,#0f9 32%,#0ef 34%,#07f 36%,#01f 38%,#00f 75%,#00f8 78%,#00f2 82%,#00f0)"></i><i style="left:446px;top:5px;width:1px;height:74px;background:linear-gradient(#00f0,#00f8 1%,#00f 3%,#00f 12%,#08f 13%,#0fc 14%,#0f4 14%,#0f0 15%,#0f0 97%,#0f4 98%,#0fc 98%,#08f 99%,#00f 99%,#00f7 100%,#00f0)"></i><i style="left:470px;top:10px;width:1px;height:109px;background:linear-gradient(#00f0,#00f8 1%,#00f 2%,#07f 3%,#0ff 4%,#0f8 6%,#0f2 16%,#0f0 27%,#0f2 38%,#0f8 50%,#0ff 61%,#0f8 62%,#0f2 63%,#0f0 63%,#0f2 65%,#0f8 66%,#0ff 68%,#07f 69%,#00f 71%,#00f 78%,#08f 80%,#08f 88%,#02f 89%,#00fb 89%,#00f5 90%,#00fa 92%,#00f 94%,#00f 98%,#00f8 99%,#00f0)"></i><i style="left:533px;top:12px;width:1px;height:118px;background:linear-gradient(#00f0,#00f7 0%,#00fe 1%,#06f 1%,#0ef 1%,#0f8 2%,#0f2 4%,#0f0 6%,#0f2 19%,#0f8 31%,#0f8 55%,#0f2 60%,#0f0 65%,#0f2 68%,#0f8 71%,#0ff 74%,#08f 78%,#00f 91%,#00f8 95%,#00f0)"></i><i style="left:534px;top:12px;width:1px;height:77px;background:linear-gradient(#00f0,#00f7 1%,#00f 2%,#08f 3%,#0ff 6%,#0f8 9%,#0ff 29%,#08f 48%,#00f 84%,#00f7 92%,#00f0)"></i><i style="left:561px;top:13px;width:1px;height:68px;background:linear-gradient(#00f0,#00f7 0%,#00f 1%,#08f 1%,#0fc 2%,#0f4 2%,#0f0 3%,#0f0 94%,#0f4 95%,#0fc 96%,#08f 97%,#00f 98%,#00f7 99%,#00f0)"></i><i style="left:566px;top:-1px;width:1px;height:121px;background:linear-gradient(#00f0,#00f8 0%,#00f 1%,#00f 10%,#08f 11%,#0fc 11%,#0f4 12%,#0f0 12%,#0f0 64%,#0f2 67%,#0f8 70%,#0fe 73%,#08f 75%,#00f 83%,#00fa 91%,#00f5 99%,#00f0)"></i><i style="left:608px;top:-1px;width:1px;height:90px;background:linear-gradient(#00f0,#00f5 1%,#00fa 9%,#00f 17%,#08f 18%,#0fc 18%,#0f4 19%,#0f0 20%,#0f2 27%,#0f8 33%,#0ff 51%,#08f 67%,#00f 73%,#00fa 86%,#00f5 99%,#00f0)"></i><i style="left:108px;top:11px;width:1px;height:79px;background:linear-gradient(#00f0,#00f4 2%,#00f8 4%,#00fe 8%,#05f 12%,#0cf 16%,#0fb 32%,#0f6 48%,#0fd 60%,#09f 72%,#02f 84%,#00fb 89%,#00f6 95%,#00f0)"></i><i style="left:109px;top:0px;width:1px;height:151px;background:linear-gradient(#00f0,#00f8 1%,#00f 2%,#00f 7%,#07f 8%,#0ff 9%,#0f8 11%,#0f2 14%,#0f0 16%,#2f0 24%,#9f0 32%,#2f0 42%,#0f0 51%,#2f0 55%,#9f0 60%,#0f0 63%,#0f0 66%,#0f8 69%,#0ff 79%,#07f 81%,#00f 84%,#00f 99%,#00f8 99%,#00f0)"></i><i style="left:110px;top:0px;width:1px;height:90px;background:linear-gradient(#00f0,#00f4 2%,#00f8 3%,#00f8 12%,#00fe 14%,#06f 16%,#0df 19%,#0fa 23%,#0f4 27%,#0f0 41%,#0f0 54%,#0f1 65%,#0f9 75%,#0bf 86%,#04f 89%,#00fd 93%,#00f6 96%,#00f0)"></i><i style="left:207px;top:0px;width:1px;height:121px;background:linear-gradient(#00f0,#00f8 1%,#00f 2%,#00f 11%,#07f 12%,#0ff 12%,#0f8 14%,#0f2 16%,#0f0 17%,#2f0 29%,#9f0 40%,#2f0 52%,#0f0 64%,#0f2 67%,#0f8 70%,#0ff 74%,#07f 78%,#00f 82%,#00fa 90%,#00f5 99%,#00f0)"></i><i style="left:357px;top:13px;width:1px;height:81px;background:linear-gradient(#00f0,#00f8 0%,#00f 1%,#08f 1%,#0fc 2%,#0f4 2%,#0f0 11%,#0f0 20%,#0f0 38%,#0f4 57%,#0fb 68%,#0bf 79%,#03f 82%,#00fa 85%,#00f2 88%,#00f0)"></i><i style="left:358px;top:13px;width:1px;height:106px;background:linear-gradient(#00f0,#00f7 0%,#00f 1%,#08f 1%,#0fc 1%,#0f4 2%,#0f0 2%,#2f0 8%,#9f0 15%,#2f0 29%,#0f0 43%,#0f0 60%,#0f2 64%,#0f8 67%,#0ff 76%,#08f 91%,#00f 99%,#00f8 100%,#00f0)"></i><i style="left:359px;top:13px;width:1px;height:81px;background:linear-gradient(#00f0,#00f7 1%,#00fe 1%,#06f 2%,#0fe 2%,#0f9 11%,#0f3 20%,#0f9 38%,#0fe 57%,#09f 68%,#04f 79%,#00fd 82%,#00f7 85%,#00f1 88%,#00f0)"></i><i style="left:576px;top:10px;width:1px;height:142px;background:linear-gradient(#00f0,#00f8 1%,#00f 1%,#07f 3%,#0ff 4%,#0ff 17%,#0f8 19%,#0f2 20%,#0f0 22%,#2f0 28%,#9f0 35%,#9f0 47%,#2f0 51%,#0f0 56%,#0f0 74%,#0f2 75%,#0f8 76%,#0ff 77%,#08f 82%,#00f 91%,#08f 95%,#08f 99%,#00f 100%,#00f7 100%,#00f0)"></i><i style="left:13px;top:5px;width:1px;height:84px;background:linear-gradient(#00f0,#00f8 2%,#00f 5%,#08f 7%,#0fc 8%,#0f4 10%,#0f0 12%,#6f0 15%,#ff0 19%,#ff0 40%,#6f0 51%,#0f0 61%,#0f2 66%,#0f8 71%,#0ff 76%,#08f 88%,#00f 92%,#00f7 96%,#00f0)"></i><i style="left:39px;top:10px;width:1px;height:79px;background:linear-gradient(#00f0,#00f7 1%,#00f 1%,#08f 2%,#0fc 3%,#0f4 3%,#0f0 4%,#6f0 8%,#ff0 11%,#9f0 37%,#0f0 40%,#0f0 43%,#0f7 46%,#0ff 49%,#07f 67%,#00f 85%,#00f8 92%,#00f0)"></i><i style="left:40px;top:10px;width:1px;height:79px;background:linear-gradient(#00f0,#00f7 1%,#00fd 2%,#05f 2%,#0df 3%,#0f9 4%,#0f1 8%,#0f0 11%,#0f0 37%,#0f6 40%,#0fd 43%,#08f 46%,#01f 49%,#00f9 67%,#00f2 85%,#00f0)"></i><i style="left:67px;top:12px;width:1px;height:79px;background:linear-gradient(#00f0,#00f4 2%,#00f9 4%,#00fe 22%,#00fe 47%,#05f 50%,#0cf 53%,#0fb 56%,#0f3 64%,#0f0 72%,#0f2 75%,#0fa 78%,#0bf 82%,#03f 85%,#00fb 88%,#00f3 91%,#00f0)"></i><i style="left:68px;top:12px;width:1px;height:133px;background:linear-gradient(#00f0,#00f7 1%,#00f 2%,#08f 2%,#0ff 13%,#0ff 28%,#0f8 30%,#0f2 31%,#0f0 33%,#6f0 38%,#ff0 43%,#9f0 54%,#0f0 55%,#0f0 57%,#0f7 58%,#0ff 59%,#07f 62%,#00f 64%,#00fa 81%,#00f5 98%,#00f0)"></i><i style="left:71px;top:-1px;width:1px;height:105px;background:linear-gradient(#00f0,#00f8 1%,#00f 2%,#00f 11%,#08f 13%,#0fc 14%,#0f4 15%,#0f0 16%,#6f0 22%,#ff0 29%,#9f0 57%,#2f0 66%,#0f0 74%,#0f4 76%,#0fc 77%,#08f 79%,#00f 80%,#00fa 89%,#00f5 98%,#00f0)"></i><i style="left:88px;top:11px;width:1px;height:70px;background:linear-gradient(#00f0,#00f7 0%,#00f 1%,#08f 1%,#0fc 2%,#0f4 2%,#0f0 3%,#6f0 11%,#ff0 19%,#9f0 54%,#2f0 74%,#0f0 94%,#0f4 95%,#0fc 96%,#08f 97%,#00f 98%,#00f7 99%,#00f0)"></i><i style="left:124px;top:-1px;width:1px;height:100px;background:linear-gradient(#08f,#0ff 10%,#0f8 12%,#0f2 13%,#0f0 15%,#6f0 18%,#ff0 22%,#6f0 26%,#0f0 30%,#0f2 46%,#0f8 62%,#0ff 78%,#08f 82%,#00f 98%,#00f8 99%,#00f0)"></i><i style="left:167px;top:-1px;width:1px;height:96px;background:linear-gradient(#08f,#0ff 12%,#0f8 14%,#0f1 15%,#0f0 16%,#7f0 17%,#ff0 18%,#ff0 47%,#7f0 49%,#0f0 52%,#0f1 55%,#0f8 57%,#0ff 81%,#08f 92%,#00f 94%,#00f7 97%,#00f0)"></i><i style="left:231px;top:0px;width:1px;height:94px;background:linear-gradient(#00f0,#00f8 1%,#00f 2%,#00f 12%,#07f 13%,#0ff 15%,#0f8 16%,#0f1 17%,#0f0 18%,#7f0 19%,#ff0 20%,#6f0 24%,#0f0 29%,#0f4 46%,#0fc 64%,#08f 82%,#00f 86%,#00f8 93%,#00f0)"></i><i style="left:287px;top:9px;width:1px;height:143px;background:linear-gradient(#00f0,#00f8 1%,#00f 1%,#08f 2%,#0fc 3%,#0f4 3%,#0f0 4%,#0f0 48%,#0f0 63%,#6f0 65%,#ff0 67%,#ff0 78%,#6f0 78%,#0f0 79%,#0f4 79%,#0fc 79%,#08f 79%,#00f 79%,#00f7 80%,#00f0 80%,#00f0 83%,#00f7 83%,#00fe 83%,#06f 84%,#0ff 84%,#0ff 98%,#06f 98%,#00fe 99%,#00f7 99%,#00f0)"></i><i style="left:314px;top:-1px;width:1px;height:153px;background:linear-gradient(#00f0,#00f8 0%,#00f 1%,#00f 7%,#07f 8%,#0ff 8%,#0f8 9%,#0f1 10%,#0f0 11%,#7f0 12%,#ff0 12%,#9f0 17%,#2f0 22%,#0f0 26%,#0f2 39%,#0f8 51%,#0ff 60%,#08f 65%,#00f 71%,#07f 72%,#0ff 73%,#0ff 80%,#07f 81%,#00f 82%,#00f 90%,#07f 91%,#0ff 91%,#0f8 92%,#0f2 95%,#0f0 98%,#0f4 98%,#0fc 99%,#08f 99%,#00f 99%,#00f7 100%,#00f0)"></i><i style="left:328px;top:7px;width:1px;height:144px;background:linear-gradient(#00f0,#00f8 1%,#00f 1%,#07f 3%,#0ff 5%,#0f8 5%,#0f1 6%,#0f0 7%,#7f0 7%,#ff0 8%,#6f0 11%,#0f0 15%,#0f0 49%,#0f2 51%,#0f8 54%,#0ff 57%,#07f 59%,#00f 60%,#07f 61%,#0ff 62%,#0ff 69%,#07f 70%,#00f 72%,#07f 72%,#0ff 73%,#0ff 78%,#06f 79%,#00fe 79%,#00f7 80%,#00f0 80%,#00f0 90%,#00f7 91%,#00fe 91%,#06f 91%,#0ff 92%,#0ff 97%,#06f 98%,#00fe 99%,#00f7 99%,#00f0)"></i><i style="left:405px;top:0px;width:1px;height:79px;background:linear-gradient(#00f0,#00f8 1%,#00f 3%,#00f 14%,#07f 16%,#0ff 18%,#0f8 19%,#0f1 21%,#0f0 22%,#7f0 24%,#ff0 25%,#6f0 28%,#0f0 32%,#0f2 47%,#0f8 62%,#0ff 97%,#06f 98%,#00fe 99%,#00f7 99%,#00f0)"></i><i style="left:414px;top:-1px;width:1px;height:153px;background:linear-gradient(#0ff,#0ff 9%,#0f8 10%,#0f2 10%,#0f0 11%,#6f0 12%,#ff0 13%,#ff0 51%,#9f0 59%,#2f0 65%,#0f0 72%,#0f2 76%,#0f8 80%,#0fe 82%,#08f 84%,#00f 90%,#07f 92%,#0ff 93%,#0f8 95%,#0f2 96%,#0f0 98%,#0f4 98%,#0fc 99%,#08f 99%,#00f 99%,#00f7 100%,#00f0)"></i><i style="left:429px;top:6px;width:1px;height:85px;background:linear-gradient(#00f0,#00f3 2%,#00f3 11%,#00f9 11%,#01f 12%,#07f 13%,#07f 39%,#0ff 45%,#0f9 51%,#0f1 56%,#0f0 62%,#0f1 67%,#0f9 71%,#0cf 75%,#03f 79%,#00fa 84%,#00f5 92%,#00f0)"></i><i style="left:430px;top:6px;width:1px;height:94px;background:linear-gradient(#00f0,#00f8 1%,#00f 2%,#00f 10%,#07f 10%,#0ff 11%,#0f8 12%,#0f8 35%,#0f2 40%,#0f0 46%,#6f0 51%,#ff0 56%,#7f0 60%,#0f0 64%,#0f1 68%,#0f8 72%,#0ff 76%,#08f 90%,#00f 94%,#00f7 97%,#00f0)"></i><i style="left:441px;top:12px;width:1px;height:139px;background:linear-gradient(#00f0,#00f7 0%,#00f 0%,#08f 1%,#0fc 1%,#0f4 1%,#0f0 1%,#2f0 7%,#9f0 12%,#9f0 47%,#ff0 51%,#6f0 53%,#0f0 55%,#0f0 62%,#0f4 63%,#0fc 63%,#08f 64%,#08f 73%,#00f 81%,#00f 91%,#08f 95%,#00f 97%,#00f7 98%,#00f0)"></i><i style="left:456px;top:-1px;width:1px;height:80px;background:linear-gradient(#00f0,#00f8 1%,#00f 1%,#00f 15%,#08f 16%,#0fc 18%,#0f4 19%,#0f0 20%,#6f0 24%,#ff0 28%,#9f0 50%,#9f0 98%,#0f0 98%,#0f0 98%,#0f7 98%,#0ff 99%,#06f 99%,#00fe 99%,#00f7 100%,#00f0)"></i><i style="left:460px;top:6px;width:1px;height:63px;background:linear-gradient(#00f0,#00f1 3%,#00f1 14%,#00f9 15%,#01f 16%,#0af 17%,#0fb 17%,#0f3 21%,#0f0 24%,#0f2 25%,#0f8 27%,#0ef 29%,#06f 30%,#00fe 44%,#00fe 76%,#00f8 82%,#00f1 87%,#00f0)"></i><i style="left:461px;top:6px;width:1px;height:63px;background:linear-gradient(#00f0,#00f8 2%,#00f 3%,#00f 14%,#08f 15%,#0fc 16%,#0f4 17%,#0f0 17%,#6f0 21%,#ff0 24%,#7f0 25%,#0f0 27%,#0f1 29%,#0f8 30%,#0ff 44%,#0ff 76%,#07f 82%,#00f 87%,#00f8 94%,#00f0)"></i><i style="left:462px;top:15px;width:1px;height:46px;background:linear-gradient(#00f0,#00f7 1%,#00fe 2%,#06f 3%,#0ff 4%,#0f7 9%,#0f0 13%,#0f6 15%,#0fd 17%,#08f 20%,#02f 22%,#00fa 41%,#00fa 85%,#00f5 92%,#00f0)"></i><i style="left:508px;top:7px;width:1px;height:82px;background:linear-gradient(#00f0,#00f3 2%,#00f3 10%,#00fa 10%,#03f 11%,#0cf 12%,#0f9 12%,#0f1 15%,#0f0 17%,#0f1 21%,#0f9 24%,#0ff 38%,#07f 51%,#01f 68%,#00fa 85%,#00f5 93%,#00f0)"></i><i style="left:509px;top:7px;width:1px;height:109px;background:linear-gradient(#00f0,#00f8 1%,#00f 2%,#00f 7%,#08f 8%,#0fc 8%,#0f4 9%,#0f0 9%,#6f0 11%,#ff0 13%,#6f0 16%,#0f0 18%,#0f2 28%,#0f8 39%,#0ff 64%,#08f 75%,#00f 80%,#00fa 89%,#00f5 99%,#00f0)"></i><i style="left:526px;top:1px;width:1px;height:151px;background:linear-gradient(#00f0,#00f8 1%,#00f 1%,#00f 8%,#07f 8%,#0ff 9%,#0f8 9%,#0f2 14%,#0f0 19%,#6f0 21%,#ff0 24%,#6f0 26%,#0f0 28%,#0f0 50%,#0f2 54%,#0f8 58%,#0ff 65%,#0f8 72%,#0ff 81%,#07f 83%,#00f 85%,#00f 90%,#07f 91%,#0ff 91%,#0f8 91%,#0f0 93%,#0f0 94%,#9f0 95%,#2f0 97%,#0f0 99%,#0f4 99%,#0fc 100%,#08f 100%,#00f 100%,#00f7 100%,#00f0)"></i><i style="left:555px;top:0px;width:1px;height:151px;background:linear-gradient(#00f0,#00f8 1%,#00f 1%,#00f 5%,#07f 6%,#0ff 7%,#0f8 9%,#0f2 10%,#0f0 11%,#6f0 12%,#ff0 13%,#6f0 15%,#0f0 16%,#0f2 24%,#0f8 32%,#0f8 51%,#0f2 53%,#0f0 56%,#0f2 59%,#0f8 62%,#0ff 62%,#07f 63%,#00f 64%,#08f 69%,#00f 74%,#07f 75%,#0ff 76%,#0f8 79%,#0ff 79%,#07f 80%,#00f 81%,#00f 91%,#07f 92%,#0ff 93%,#0ff 99%,#06f 99%,#00fe 99%,#00f7 100%,#00f0)"></i><i style="left:580px;top:2px;width:1px;height:67px;background:linear-gradient(#00f0,#00f7 1%,#00f 2%,#08f 3%,#0ff 22%,#0f8 23%,#0f1 24%,#0f0 25%,#7f0 26%,#ff0 27%,#6f0 31%,#0f0 34%,#0f2 39%,#0f8 43%,#0ff 48%,#08f 78%,#00f 85%,#00f8 93%,#00f0)"></i><i style="left:23px;top:1px;width:1px;height:110px;background:linear-gradient(#00f0,#00f8 1%,#00f 3%,#08f 5%,#0fc 7%,#0f4 9%,#0f0 11%,#6f0 14%,#ff0 16%,#f90 25%,#ff0 33%,#6f0 38%,#0f0 44%,#0f2 53%,#0f8 62%,#0ff 75%,#07f 78%,#00f 80%,#00fa 89%,#00f5 98%,#00f0)"></i><i style="left:172px;top:-1px;width:1px;height:152px;background:linear-gradient(#00fd,#05f 2%,#0cf 3%,#0fb 5%,#0f4 7%,#0f0 9%,#3f0 10%,#df0 12%,#fb0 20%,#df0 33%,#7f0 51%,#0f0 55%,#0f0 59%,#0f4 66%,#0fa 72%,#0fa 83%,#0f4 88%,#0f0 92%,#3f0 94%,#df0 96%,#3f0 97%,#0f0 97%,#0f5 98%,#0fe 98%,#07f 99%,#00fe 99%,#00f7 100%,#00f0)"></i><i style="left:173px;top:-1px;width:1px;height:152px;background:linear-gradient(#00fb,#03f 2%,#0af 3%,#0fd 5%,#0f6 7%,#0f0 9%,#0f0 10%,#bf0 12%,#fd0 20%,#bf0 33%,#4f0 51%,#0f0 55%,#0f0 59%,#0f6 66%,#0fc 72%,#0fc 83%,#0f6 88%,#0f0 92%,#0f0 94%,#bf0 96%,#1f0 97%,#0f0 97%,#0f7 98%,#0ff 98%,#06f 99%,#00fe 99%,#00f7 100%,#00f0)"></i><i style="left:246px;top:-1px;width:1px;height:152px;background:linear-gradient(#00f,#07f 3%,#0ff 5%,#0f8 7%,#0f2 8%,#0f0 9%,#5f0 10%,#ef0 11%,#f90 12%,#ff0 20%,#9f0 30%,#9f0 51%,#ff0 56%,#ff0 62%,#6f0 65%,#0f0 68%,#0f2 74%,#0f8 80%,#0fe 83%,#08f 86%,#00f 92%,#07f 93%,#0ff 94%,#0f8 95%,#0ff 99%,#06f 100%,#00fe 100%,#00f7 100%,#00f0)"></i><i style="left:282px;top:-1px;width:1px;height:90px;background:linear-gradient(#00f1,#00f1 12%,#00f7 13%,#00fe 14%,#00fe 33%,#05f 34%,#0df 36%,#0f9 37%,#0f2 38%,#0f0 39%,#5f0 56%,#0f0 66%,#0f4 76%,#0fc 87%,#0af 88%,#03f 90%,#00fb 92%,#00f5 93%,#00f0)"></i><i style="left:283px;top:-1px;width:1px;height:153px;background:linear-gradient(#00f,#00f 7%,#07f 8%,#0ff 8%,#0ff 20%,#0f8 20%,#0f1 21%,#0f0 22%,#7f0 22%,#ff0 23%,#f90 33%,#ff0 51%,#6f0 53%,#0f0 55%,#0f2 57%,#0f8 59%,#0ff 72%,#08f 85%,#0ff 92%,#0f8 99%,#0ef 99%,#06f 99%,#00fe 99%,#00f7 100%,#00f0)"></i><i style="left:318px;top:-1px;width:1px;height:153px;background:linear-gradient(#00f0,#00f8 0%,#00f 1%,#00f 8%,#08f 8%,#0fc 9%,#0f4 9%,#0f0 10%,#5f0 11%,#ef0 12%,#f90 13%,#ff0 16%,#9f0 26%,#9f0 51%,#ff0 54%,#6f0 56%,#0f0 59%,#0f0 80%,#0f4 80%,#0fc 81%,#08f 82%,#00f 82%,#00f 90%,#08f 91%,#0fc 91%,#0f4 92%,#0f0 92%,#0f0 99%,#0f4 99%,#0fc 99%,#08f 99%,#00f 100%,#00f7 100%,#00f0)"></i><i style="left:331px;top:11px;width:1px;height:68px;background:linear-gradient(#00f0,#00f8 1%,#00f 3%,#08f 4%,#0fc 6%,#0f4 7%,#0f0 9%,#5f0 11%,#ef0 13%,#f90 15%,#ff0 41%,#6f0 50%,#0f0 59%,#0f2 63%,#0f8 67%,#0ff 71%,#08f 97%,#00f 98%,#00f7 99%,#00f0)"></i><i style="left:345px;top:1px;width:1px;height:150px;background:linear-gradient(#00f0,#00f8 1%,#00f 1%,#00f 7%,#07f 8%,#0ff 9%,#0f8 10%,#0f2 11%,#0f0 12%,#5f0 13%,#ef0 13%,#f90 14%,#ff0 17%,#9f0 25%,#2f0 32%,#0f0 39%,#5f0 40%,#ef0 42%,#f90 44%,#ff0 47%,#9f0 51%,#ff0 55%,#6f0 57%,#0f0 59%,#0f0 64%,#5f0 65%,#ef0 65%,#f90 66%,#ff0 67%,#7f0 67%,#0f0 68%,#0f1 68%,#0f8 69%,#0ff 75%,#08f 82%,#00f 89%,#08f 95%,#00f 97%,#00f7 98%,#00f0)"></i><i style="left:454px;top:-1px;width:1px;height:124px;background:linear-gradient(#00f0,#00f8 0%,#00f 1%,#00f 7%,#07f 8%,#0ff 10%,#0f8 11%,#0f2 12%,#0f0 13%,#6f0 15%,#ff0 16%,#f90 21%,#ff0 26%,#6f0 29%,#0f0 32%,#0f2 48%,#0f8 63%,#0fe 68%,#08f 73%,#00f 81%,#00f 98%,#00f8 99%,#00f0)"></i><i style="left:513px;top:-1px;width:1px;height:153px;background:linear-gradient(#00f0,#00f7 0%,#00f 0%,#08f 1%,#0ff 7%,#0f8 7%,#0f2 8%,#0f0 9%,#6f0 11%,#ff0 13%,#f90 15%,#ff0 18%,#9f0 33%,#ff0 51%,#6f0 53%,#0f0 56%,#0f2 57%,#0f8 58%,#0ff 59%,#08f 65%,#0fc 66%,#0f4 67%,#0f0 68%,#0f0 76%,#5f0 76%,#ef0 77%,#f90 78%,#ef0 79%,#5f0 80%,#0f0 80%,#0f2 82%,#0f8 84%,#0ff 85%,#07f 85%,#00f 86%,#00f 90%,#08f 91%,#0fc 91%,#0f4 92%,#0f0 92%,#0f0 99%,#0f4 99%,#0fc 99%,#08f 99%,#00f 100%,#00f7 100%,#00f0)"></i><i style="left:572px;top:12px;width:1px;height:140px;background:linear-gradient(#00f0,#00f8 1%,#00f 1%,#08f 2%,#0fc 2%,#0f4 3%,#0f0 4%,#0f0 46%,#0f0 62%,#6f0 65%,#ff0 67%,#f90 71%,#f90 78%,#ef0 79%,#5f0 80%,#0f0 81%,#0f2 81%,#0f8 82%,#0ff 82%,#0ff 91%,#0f8 95%,#0f2 97%,#0f0 99%,#0f4 99%,#0fc 100%,#08f 100%,#00f 100%,#00f7 100%,#00f0)"></i><i style="left:584px;top:-1px;width:1px;height:153px;background:linear-gradient(#00f0,#00f8 0%,#00f 1%,#00f 8%,#07f 9%,#0ff 10%,#0f8 11%,#0f2 12%,#0f0 13%,#0f2 20%,#0f8 26%,#0f8 51%,#0ff 59%,#07f 60%,#00f 61%,#08f 62%,#0fc 62%,#0f4 62%,#0f0 63%,#2f0 69%,#9f0 75%,#ff0 80%,#6f0 82%,#0f0 84%,#0f4 84%,#0fc 85%,#08f 85%,#00f 86%,#00f 90%,#07f 90%,#0ff 91%,#0ff 94%,#0f8 94%,#0f1 95%,#0f0 95%,#7f0 95%,#ff0 95%,#f90 99%,#ef0 99%,#4f0 99%,#0f0 99%,#0f5 99%,#0fd 99%,#07f 100%,#00f 100%,#00f7 100%,#00f0)"></i><i style="left:588px;top:1px;width:1px;height:151px;background:linear-gradient(#00f0,#00f8 1%,#00f 1%,#00f 7%,#08f 7%,#0fc 8%,#0f4 8%,#0f0 9%,#2f0 12%,#9f0 15%,#ff0 19%,#f90 32%,#ff0 38%,#9f0 50%,#ff0 55%,#6f0 57%,#0f0 60%,#0f2 61%,#0f8 62%,#0ff 63%,#0ff 78%,#0f8 81%,#0f8 91%,#0f2 93%,#0f0 95%,#0f0 99%,#0f4 99%,#0fc 100%,#08f 100%,#00f 100%,#00f7 100%,#00f0)"></i><i style="left:9px;top:3px;width:1px;height:81px;background:linear-gradient(#00f0,#00f3 5%,#00fa 7%,#03f 9%,#0cf 10%,#0f9 12%,#0f1 15%,#0f0 19%,#8f0 21%,#ff0 23%,#8f0 27%,#0f0 30%,#0f1 40%,#0f9 51%,#0ef 57%,#07f 63%,#01f 69%,#00fb 80%,#00f7 91%,#00f0)"></i><i style="left:10px;top:3px;width:1px;height:86px;background:linear-gradient(#00f0,#00f8 2%,#00f 5%,#08f 6%,#0fc 8%,#0f4 10%,#0f0 12%,#6f0 15%,#ff0 17%,#f90 20%,#f20 22%,#f90 25%,#ff0 28%,#6f0 38%,#0f0 48%,#0f2 53%,#0f8 59%,#0ff 65%,#08f 86%,#00f 94%,#00f8 97%,#00f0)"></i><i style="left:45px;top:-1px;width:1px;height:153px;background:linear-gradient(#08f,#0ff 3%,#0f8 4%,#0f2 5%,#0f0 7%,#6f0 9%,#ff0 11%,#f90 16%,#f90 26%,#ff0 39%,#9f0 51%,#2f0 55%,#0f0 59%,#0f2 63%,#0f8 68%,#0ff 75%,#08f 85%,#0fe 88%,#0f8 92%,#0f1 92%,#0f0 93%,#7f0 94%,#ff0 95%,#f90 96%,#f20 98%,#fa0 98%,#df0 98%,#3f0 99%,#0f0 99%,#0f5 99%,#0fe 99%,#07f 99%,#00fe 100%,#00f7 100%,#00f0)"></i><i style="left:46px;top:-1px;width:1px;height:153px;background:linear-gradient(#08f,#0ff 3%,#0f8 4%,#0f2 5%,#0f0 7%,#6f0 9%,#ff0 11%,#f90 16%,#f90 26%,#ff0 39%,#9f0 51%,#2f0 55%,#0f0 59%,#0f2 63%,#0f8 68%,#0ff 75%,#08f 85%,#0fe 88%,#0f8 92%,#0f1 92%,#0f0 93%,#7f0 94%,#ff0 95%,#f90 96%,#f20 98%,#fa0 98%,#df0 98%,#3f0 99%,#0f0 99%,#0f5 99%,#0fe 99%,#07f 99%,#00fe 100%,#00f7 100%,#00f0)"></i><i style="left:84px;top:-1px;width:1px;height:153px;background:linear-gradient(#0ff,#0f8 7%,#0f1 8%,#0f0 8%,#7f0 9%,#ff0 10%,#f90 13%,#f20 20%,#f90 33%,#f20 51%,#f90 56%,#ff0 62%,#6f0 65%,#0f0 69%,#0f2 75%,#0f8 82%,#0ff 92%,#08f 97%,#00f 98%,#00f7 99%,#00f0)"></i><i style="left:85px;top:-1px;width:1px;height:95px;background:linear-gradient(#00fe,#06f 11%,#0ef 12%,#0f8 14%,#0f2 15%,#0f0 17%,#6f0 21%,#ef0 32%,#6f0 53%,#0f0 67%,#0f2 82%,#0fa 84%,#0cf 85%,#03f 87%,#00fb 88%,#00f4 89%,#00f0)"></i><i style="left:154px;top:-1px;width:1px;height:153px;background:linear-gradient(#08f,#0ff 5%,#0f8 6%,#0f2 7%,#0f0 8%,#5f0 9%,#ef0 10%,#fa0 10%,#f20 11%,#f20 37%,#f90 42%,#f90 51%,#ff0 59%,#6f0 62%,#0f0 65%,#6f0 69%,#ff0 72%,#6f0 75%,#0f0 78%,#6f0 82%,#ff0 85%,#6f0 88%,#0f0 92%,#6f0 94%,#ff0 97%,#6f0 97%,#0f0 98%,#0f4 98%,#0fc 98%,#08f 99%,#00f 99%,#00f7 100%,#00f0)"></i><i style="left:155px;top:-1px;width:1px;height:90px;background:linear-gradient(#00f8,#00fe 9%,#05f 11%,#0cf 13%,#0fb 14%,#0f4 16%,#0f0 17%,#4f0 18%,#df0 19%,#df0 63%,#5f0 72%,#0f0 77%,#0f1 82%,#0f7 87%,#0ff 89%,#06f 92%,#00fe 95%,#00f7 97%,#00f0)"></i><i style="left:186px;top:-1px;width:1px;height:153px;background:linear-gradient(#0ff,#0ff 9%,#0f8 10%,#0f2 10%,#0f0 10%,#6f0 13%,#ff0 16%,#f90 26%,#ff0 39%,#9f0 51%,#2f0 55%,#0f0 59%,#6f0 61%,#ff0 63%,#ff0 72%,#f90 77%,#f20 80%,#fa0 80%,#ef0 81%,#5f0 82%,#0f0 82%,#0f0 88%,#0f2 89%,#0f8 90%,#0ff 92%,#06f 94%,#00fe 96%,#00f7 98%,#00f0)"></i><i style="left:187px;top:-1px;width:1px;height:90px;background:linear-gradient(#03f,#03f 16%,#09f 16%,#0fd 17%,#0f7 18%,#0f0 23%,#2f0 28%,#bf0 44%,#2f0 67%,#0f0 73%,#0f5 80%,#0fd 87%,#08f 90%,#00f 93%,#00f7 97%,#00f0)"></i><i style="left:223px;top:-1px;width:1px;height:153px;background:linear-gradient(#0ff,#0ff 9%,#0f6 10%,#0f0 10%,#3f0 10%,#df0 11%,#f90 11%,#f20 14%,#f90 15%,#ff0 16%,#ff0 29%,#6f0 33%,#0f0 36%,#0f0 51%,#0f2 57%,#0f8 63%,#0ff 76%,#07f 79%,#00f 82%,#00fa 85%,#00f5 88%,#00fa 90%,#00f 91%,#07f 92%,#0ff 93%,#0ff 99%,#06f 100%,#00fe 100%,#00f7 100%,#00f0)"></i><i style="left:258px;top:-1px;width:1px;height:153px;background:linear-gradient(#0f0,#0f0 10%,#5f0 10%,#ef0 11%,#fa0 11%,#f20 12%,#f20 51%,#f90 62%,#ff0 65%,#9f0 78%,#2f0 83%,#0f0 88%,#6f0 93%,#ff0 98%,#6f0 98%,#0f0 99%,#0f4 99%,#0fc 99%,#08f 99%,#00f 100%,#00f7 100%,#00f0)"></i><i style="left:269px;top:-1px;width:1px;height:153px;background:linear-gradient(#08f,#0ff 7%,#0f8 8%,#0f2 9%,#0f0 10%,#6f0 11%,#ff0 12%,#f90 23%,#ff0 33%,#6f0 36%,#0f0 39%,#0f0 51%,#0f4 52%,#0fc 52%,#08f 53%,#00f 54%,#00f 78%,#00f8 80%,#00f0 81%,#00f7 81%,#00fe 82%,#06f 82%,#0ff 82%,#0f8 91%,#0f1 92%,#0f0 92%,#7f0 93%,#ff0 93%,#f90 96%,#f20 98%,#fa0 98%,#df0 98%,#3f0 99%,#0f0 99%,#0f5 99%,#0fe 99%,#07f 99%,#00fe 100%,#00f7 100%,#00f0)"></i><i style="left:416px;top:-1px;width:1px;height:153px;background:linear-gradient(#0f0,#0f0 8%,#5f0 9%,#ef0 10%,#f90 10%,#f20 13%,#f20 51%,#f90 55%,#ff0 62%,#ff0 69%,#f90 72%,#f20 76%,#f90 77%,#ff0 78%,#6f0 80%,#0f0 82%,#0f4 83%,#0fc 84%,#08f 85%,#08f 90%,#0fc 91%,#0f4 92%,#0f0 92%,#6f0 94%,#ff0 96%,#6f0 98%,#0f0 99%,#0f4 99%,#0fc 100%,#08f 100%,#00f 100%,#00f7 100%,#00f0)"></i><i style="left:437px;top:-1px;width:1px;height:153px;background:linear-gradient(#0ff,#0ff 7%,#0f8 7%,#0f2 8%,#0f0 8%,#5f0 9%,#ef0 10%,#f90 11%,#f20 14%,#f20 51%,#f90 56%,#ff0 60%,#ff0 67%,#6f0 69%,#0f0 71%,#0f0 80%,#0f2 81%,#0f8 82%,#0f8 95%,#0fe 96%,#08f 98%,#00f 99%,#00f7 99%,#00f0)"></i><i style="left:486px;top:-1px;width:1px;height:153px;background:linear-gradient(#00f0,#00f8 0%,#00f 1%,#00f 7%,#08f 8%,#0fc 8%,#0f4 9%,#0f0 9%,#5f0 10%,#ef0 11%,#f90 12%,#f20 15%,#f90 18%,#ff0 26%,#9f0 39%,#9f0 51%,#2f0 53%,#0f0 56%,#0f2 59%,#0f8 63%,#0ff 72%,#08f 80%,#00f 84%,#00f 90%,#08f 91%,#0fc 91%,#0f4 91%,#0f0 92%,#0f0 98%,#0f4 98%,#0fc 99%,#08f 99%,#00f 99%,#00f7 100%,#00f0)"></i><i style="left:530px;top:-1px;width:1px;height:153px;background:linear-gradient(#00f0,#00f8 0%,#00f 1%,#00f 7%,#08f 7%,#0fc 8%,#0f4 8%,#0f0 8%,#5f0 10%,#ef0 11%,#f90 12%,#f20 16%,#f90 26%,#ff0 33%,#f90 51%,#ff0 55%,#9f0 62%,#9f0 72%,#fe0 74%,#f90 76%,#f90 80%,#ef0 81%,#5f0 81%,#0f0 82%,#2f0 87%,#9f0 92%,#ff0 97%,#6f0 97%,#0f0 98%,#0f4 98%,#0fc 98%,#08f 99%,#00f 99%,#00f7 100%,#00f0)"></i><i style="left:545px;top:2px;width:1px;height:148px;background:linear-gradient(#00f0,#00f7 0%,#00f 1%,#08f 1%,#0ff 6%,#0f8 7%,#0f2 8%,#0f0 9%,#5f0 10%,#ef0 11%,#f90 12%,#f20 14%,#f90 15%,#ff0 18%,#9f0 32%,#2f0 41%,#0f0 51%,#0f2 52%,#0f8 54%,#0ff 55%,#08f 61%,#00f 66%,#08f 72%,#08f 79%,#00f 82%,#00f 89%,#07f 91%,#0ff 93%,#0ff 99%,#06f 99%,#00fe 99%,#00f7 100%,#00f0)"></i><i style="left:563px;top:-1px;width:1px;height:90px;background:linear-gradient(#00f0,#00f3 1%,#00f3 13%,#00fb 14%,#03f 15%,#0cf 16%,#0f8 17%,#0f1 22%,#0f0 28%,#0f1 36%,#0f8 44%,#0fe 87%,#07f 90%,#00fe 93%,#00f7 97%,#00f0)"></i><i style="left:564px;top:-1px;width:1px;height:153px;background:linear-gradient(#00f0,#00f8 0%,#00f 1%,#00f 8%,#08f 8%,#0fc 9%,#0f4 9%,#0f0 10%,#6f0 13%,#ff0 16%,#6f0 21%,#0f0 26%,#2f0 39%,#9f0 51%,#ff0 59%,#6f0 62%,#0f0 65%,#6f0 68%,#ff0 71%,#f90 72%,#f20 73%,#f90 77%,#ef0 78%,#5f0 79%,#0f0 80%,#0f2 83%,#0f8 85%,#0ff 86%,#07f 87%,#00f 88%,#08f 95%,#00f 99%,#00f8 100%,#00f0)"></i></div></div>
<div class="s" style="top:333px"><div class="h"><i style="left:2px;top:10px;width:7px;height:67px;background:linear-gradient(#0000,#0000c0 25%,#0000c0 70%,#0000)"></i><i style="left:7px;top:7px;width:7px;height:74px;background:linear-gradient(#0000,#0000c0 25%,#0000c0 70%,#0000)"></i><i style="left:10px;top:6px;width:7px;height:78px;background:linear-gradient(#0000,#0000c0 25%,#0000c0 70%,#0000)"></i><i style="left:21px;top:23px;width:5px;height:66px;background:linear-gradient(#0000,#000090 25%,#000090 70%,#0000)"></i><i style="left:23px;top:11px;width:5px;height:43px;background:linear-gradient(#0000,#000090 25%,#000090 70%,#0000)"></i><i style="left:26px;top:21px;width:5px;height:73px;background:linear-gradient(#0000,#0000c0 25%,#0000c0 70%,#0000)"></i><i style="left:29px;top:16px;width:7px;height:53px;background:linear-gradient(#0000,#0000c0 25%,#0000c0 70%,#0000)"></i><i style="left:37px;top:6px;width:5px;height:75px;background:linear-gradient(#0000,#0000c0 25%,#0000c0 70%,#0000)"></i><i style="left:42px;top:-1px;width:7px;height:95px;background:linear-gradient(#0000,#0000c0 25%,#0000c0 70%,#0000)"></i><i style="left:63px;top:19px;width:5px;height:70px;background:linear-gradient(#0000,#000090 25%,#000090 70%,#0000)"></i><i style="left:64px;top:5px;width:7px;height:89px;background:linear-gradient(#0000,#0000c0 25%,#0000c0 70%,#0000)"></i><i style="left:67px;top:30px;width:5px;height:64px;background:linear-gradient(#0000,#000090 25%,#000090 70%,#0000)"></i><i style="left:69px;top:20px;width:6px;height:49px;background:linear-gradient(#0000,#000090 25%,#000090 70%,#0000)"></i><i style="left:76px;top:27px;width:6px;height:37px;background:linear-gradient(#0000,#000090 25%,#000090 70%,#0000)"></i><i style="left:80px;top:-1px;width:8px;height:95px;background:linear-gradient(#0000,#0000c0 25%,#0000c0 70%,#0000)"></i><i style="left:86px;top:8px;width:5px;height:69px;background:linear-gradient(#0000,#0000c0 25%,#0000c0 70%,#0000)"></i><i style="left:89px;top:9px;width:5px;height:68px;background:linear-gradient(#0000,#0000c0 25%,#0000c0 70%,#0000)"></i><i style="left:102px;top:20px;width:5px;height:39px;background:linear-gradient(#0000,#000090 25%,#000090 70%,#0000)"></i><i style="left:104px;top:2px;width:8px;height:92px;background:linear-gradient(#0000,#0000c0 25%,#0000c0 70%,#0000)"></i><i style="left:116px;top:12px;width:5px;height:42px;background:linear-gradient(#0000,#000090 25%,#000090 70%,#0000)"></i><i style="left:121px;top:0px;width:7px;height:89px;background:linear-gradient(#0000,#0000c0 25%,#0000c0 70%,#0000)"></i><i style="left:127px;top:11px;width:7px;height:83px;background:linear-gradient(#0000,#0000c0 25%,#0000c0 70%,#0000)"></i><i style="left:137px;top:17px;width:7px;height:77px;background:linear-gradient(#0000,#0000c0 25%,#0000c0 70%,#0000)"></i><i style="left:140px;top:0px;width:7px;height:94px;background:linear-gradient(#0000,#0000c0 25%,#0000c0 70%,#0000)"></i><i style="left:142px;top:19px;width:7px;height:75px;background:linear-gradient(#0000,#0000c0 25%,#0000c0 70%,#0000)"></i><i style="left:149px;top:14px;width:5px;height:63px;background:linear-gradient(#0000,#000090 25%,#000090 70%,#0000)"></i><i style="left:151px;top:-1px;width:7px;height:95px;background:linear-gradient(#0000,#0000c0 25%,#0000c0 70%,#0000)"></i><i style="left:154px;top:23px;width:5px;height:71px;background:linear-gradient(#0000,#000090 25%,#000090 70%,#0000)"></i><i style="left:164px;top:3px;width:7px;height:81px;background:linear-gradient(#0000,#0000c0 25%,#0000c0 70%,#0000)"></i><i style="left:170px;top:11px;width:7px;height:83px;background:linear-gradient(#0000,#0000c0 25%,#0000c0 70%,#0000)"></i><i style="left:181px;top:24px;width:5px;height:41px;background:linear-gradient(#0000,#000090 25%,#000090 70%,#0000)"></i><i style="left:183px;top:-1px;width:7px;height:95px;background:linear-gradient(#0000,#0000c0 25%,#0000c0 70%,#0000)"></i><i style="left:193px;top:14px;width:5px;height:63px;background:linear-gradient(#0000,#000090 25%,#000090 70%,#0000)"></i><i style="left:200px;top:14px;width:7px;height:65px;background:linear-gradient(#0000,#0000c0 25%,#0000c0 70%,#0000)"></i><i style="left:203px;top:49px;width:5px;height:32px;background:linear-gradient(#0000,#000090 25%,#000090 70%,#0000)"></i><i style="left:205px;top:17px;width:5px;height:77px;background:linear-gradient(#0000,#0000c0 25%,#0000c0 70%,#0000)"></i><i style="left:215px;top:26px;width:5px;height:33px;background:linear-gradient(#0000,#000090 25%,#000090 70%,#0000)"></i><i style="left:217px;top:5px;width:5px;height:66px;background:linear-gradient(#0000,#0000c0 25%,#0000c0 70%,#0000)"></i><i style="left:220px;top:-1px;width:7px;height:95px;background:linear-gradient(#0000,#0000c0 25%,#0000c0 70%,#0000)"></i><i style="left:226px;top:33px;width:5px;height:31px;background:linear-gradient(#0000,#000090 25%,#000090 70%,#0000)"></i><i style="left:228px;top:7px;width:7px;height:72px;background:linear-gradient(#0000,#0000c0 25%,#0000c0 70%,#0000)"></i><i style="left:231px;top:30px;width:5px;height:27px;background:linear-gradient(#0000,#000090 25%,#000090 70%,#0000)"></i><i style="left:238px;top:26px;width:5px;height:61px;background:linear-gradient(#0000,#000090 25%,#000090 70%,#0000)"></i><i style="left:243px;top:3px;width:7px;height:91px;background:linear-gradient(#0000,#0000c0 25%,#0000c0 70%,#0000)"></i><i style="left:246px;top:17px;width:7px;height:66px;background:linear-gradient(#0000,#0000c0 25%,#0000c0 70%,#0000)"></i><i style="left:255px;top:13px;width:5px;height:64px;background:linear-gradient(#0000,#0000c0 25%,#0000c0 70%,#0000)"></i><i style="left:255px;top:77px;width:5px;height:17px;background:linear-gradient(#0000,#000090 25%,#000090 70%,#0000)"></i><i style="left:255px;top:-1px;width:7px;height:95px;background:linear-gradient(#0000,#0000c0 25%,#0000c0 70%,#0000)"></i><i style="left:260px;top:11px;width:5px;height:66px;background:linear-gradient(#0000,#0000c0 25%,#0000c0 70%,#0000)"></i><i style="left:260px;top:77px;width:5px;height:17px;background:linear-gradient(#0000,#0000c0 25%,#0000c0 70%,#0000)"></i><i style="left:263px;top:23px;width:5px;height:71px;background:linear-gradient(#0000,#0000c0 25%,#0000c0 70%,#0000)"></i><i style="left:266px;top:2px;width:7px;height:90px;background:linear-gradient(#0000,#0000c0 25%,#0000c0 70%,#0000)"></i><i style="left:269px;top:11px;width:6px;height:56px;background:linear-gradient(#0000,#0000c0 25%,#0000c0 70%,#0000)"></i><i style="left:270px;top:77px;width:5px;height:17px;background:linear-gradient(#0000,#0000c0 25%,#0000c0 70%,#0000)"></i><i style="left:275px;top:14px;width:5px;height:51px;background:linear-gradient(#0000,#0000c0 25%,#0000c0 70%,#0000)"></i><i style="left:280px;top:0px;width:7px;height:94px;background:linear-gradient(#0000,#0000c0 25%,#0000c0 70%,#0000)"></i><i style="left:284px;top:0px;width:7px;height:94px;background:linear-gradient(#0000,#0000c0 25%,#0000c0 70%,#0000)"></i><i style="left:289px;top:14px;width:5px;height:45px;background:linear-gradient(#0000,#000090 25%,#000090 70%,#0000)"></i><i style="left:298px;top:20px;width:5px;height:69px;background:linear-gradient(#0000,#0000c0 25%,#0000c0 70%,#0000)"></i><i style="left:304px;top:15px;width:7px;height:46px;background:linear-gradient(#0000,#000090 25%,#000090 70%,#0000)"></i><i style="left:311px;top:0px;width:7px;height:94px;background:linear-gradient(#0000,#0000c0 25%,#0000c0 70%,#0000)"></i><i style="left:315px;top:5px;width:7px;height:89px;background:linear-gradient(#0000,#0000c0 25%,#0000c0 70%,#0000)"></i><i style="left:325px;top:0px;width:7px;height:94px;background:linear-gradient(#0000,#0000c0 25%,#0000c0 70%,#0000)"></i><i style="left:328px;top:15px;width:7px;height:62px;background:linear-gradient(#0000,#0000c0 25%,#0000c0 70%,#0000)"></i><i style="left:332px;top:23px;width:7px;height:71px;background:linear-gradient(#0000,#0000c0 25%,#0000c0 70%,#0000)"></i><i style="left:339px;top:20px;width:5px;height:49px;background:linear-gradient(#0000,#000090 25%,#000090 70%,#0000)"></i><i style="left:342px;top:7px;width:7px;height:87px;background:linear-gradient(#0000,#0000c0 25%,#0000c0 70%,#0000)"></i><i style="left:348px;top:9px;width:5px;height:54px;background:linear-gradient(#0000,#000090 25%,#000090 70%,#0000)"></i><i style="left:353px;top:0px;width:7px;height:84px;background:linear-gradient(#0000,#0000c0 25%,#0000c0 70%,#0000)"></i><i style="left:355px;top:24px;width:6px;height:53px;background:linear-gradient(#0000,#0000c0 25%,#0000c0 70%,#0000)"></i><i style="left:355px;top:77px;width:7px;height:17px;background:linear-gradient(#0000,#0000c0 25%,#0000c0 70%,#0000)"></i><i style="left:363px;top:24px;width:5px;height:53px;background:linear-gradient(#0000,#0000c0 25%,#0000c0 70%,#0000)"></i><i style="left:366px;top:21px;width:5px;height:33px;background:linear-gradient(#0000,#000090 25%,#000090 70%,#0000)"></i><i style="left:372px;top:17px;width:5px;height:42px;background:linear-gradient(#0000,#000090 25%,#000090 70%,#0000)"></i><i style="left:377px;top:16px;width:7px;height:48px;background:linear-gradient(#0000,#0000c0 25%,#0000c0 70%,#0000)"></i><i style="left:378px;top:77px;width:5px;height:14px;background:linear-gradient(#0000,#000090 25%,#000090 70%,#0000)"></i><i style="left:385px;top:36px;width:5px;height:53px;background:linear-gradient(#0000,#000090 25%,#000090 70%,#0000)"></i><i style="left:387px;top:14px;width:5px;height:40px;background:linear-gradient(#0000,#000090 25%,#000090 70%,#0000)"></i><i style="left:393px;top:20px;width:5px;height:57px;background:linear-gradient(#0000,#0000c0 25%,#0000c0 70%,#0000)"></i><i style="left:396px;top:6px;width:7px;height:85px;background:linear-gradient(#0000,#0000c0 25%,#0000c0 70%,#0000)"></i><i style="left:403px;top:23px;width:5px;height:46px;background:linear-gradient(#0000,#0000c0 25%,#0000c0 70%,#0000)"></i><i style="left:406px;top:9px;width:8px;height:78px;background:linear-gradient(#0000,#0000c0 25%,#0000c0 70%,#0000)"></i><i style="left:411px;top:-1px;width:7px;height:95px;background:linear-gradient(#0000,#0000c0 25%,#0000c0 70%,#0000)"></i><i style="left:413px;top:-1px;width:7px;height:95px;background:linear-gradient(#0000,#0000c0 25%,#0000c0 70%,#0000)"></i><i style="left:423px;top:14px;width:5px;height:63px;background:linear-gradient(#0000,#0000c0 25%,#0000c0 70%,#0000)"></i><i style="left:428px;top:16px;width:5px;height:76px;background:linear-gradient(#0000,#0000c0 25%,#0000c0 70%,#0000)"></i><i style="left:434px;top:0px;width:7px;height:94px;background:linear-gradient(#0000,#0000c0 25%,#0000c0 70%,#0000)"></i><i style="left:438px;top:6px;width:7px;height:88px;background:linear-gradient(#0000,#0000c0 25%,#0000c0 70%,#0000)"></i><i style="left:441px;top:10px;width:7px;height:69px;background:linear-gradient(#0000,#0000c0 25%,#0000c0 70%,#0000)"></i><i style="left:444px;top:15px;width:5px;height:62px;background:linear-gradient(#0000,#0000c0 25%,#0000c0 70%,#0000)"></i><i style="left:451px;top:2px;width:7px;height:92px;background:linear-gradient(#0000,#0000c0 25%,#0000c0 70%,#0000)"></i><i style="left:457px;top:7px;width:8px;height:58px;background:linear-gradient(#0000,#0000c0 25%,#0000c0 70%,#0000)"></i><i style="left:460px;top:69px;width:5px;height:25px;background:linear-gradient(#0000,#0000c0 25%,#0000c0 70%,#0000)"></i><i style="left:463px;top:30px;width:5px;height:61px;background:linear-gradient(#0000,#0000c0 25%,#0000c0 70%,#0000)"></i><i style="left:468px;top:26px;width:5px;height:68px;background:linear-gradient(#0000,#000090 25%,#000090 70%,#0000)"></i><i style="left:474px;top:14px;width:5px;height:41px;background:linear-gradient(#0000,#000090 25%,#000090 70%,#0000)"></i><i style="left:481px;top:15px;width:5px;height:50px;background:linear-gradient(#0000,#000090 25%,#000090 70%,#0000)"></i><i style="left:483px;top:-1px;width:7px;height:95px;background:linear-gradient(#0000,#0000c0 25%,#0000c0 70%,#0000)"></i><i style="left:486px;top:9px;width:8px;height:85px;background:linear-gradient(#0000,#0000c0 25%,#0000c0 70%,#0000)"></i><i style="left:505px;top:7px;width:8px;height:87px;background:linear-gradient(#0000,#0000c0 25%,#0000c0 70%,#0000)"></i><i style="left:510px;top:0px;width:7px;height:94px;background:linear-gradient(#0000,#0000c0 25%,#0000c0 70%,#0000)"></i><i style="left:514px;top:10px;width:5px;height:51px;background:linear-gradient(#0000,#000090 25%,#000090 70%,#0000)"></i><i style="left:522px;top:0px;width:8px;height:94px;background:linear-gradient(#0000,#0000c0 25%,#0000c0 70%,#0000)"></i><i style="left:527px;top:0px;width:7px;height:94px;background:linear-gradient(#0000,#0000c0 25%,#0000c0 70%,#0000)"></i><i style="left:529px;top:23px;width:8px;height:54px;background:linear-gradient(#0000,#0000c0 25%,#0000c0 70%,#0000)"></i><i style="left:530px;top:77px;width:7px;height:17px;background:linear-gradient(#0000,#0000c0 25%,#0000c0 70%,#0000)"></i><i style="left:535px;top:24px;width:5px;height:25px;background:linear-gradient(#0000,#000090 25%,#000090 70%,#0000)"></i><i style="left:541px;top:26px;width:5px;height:28px;background:linear-gradient(#0000,#000090 25%,#000090 70%,#0000)"></i><i style="left:542px;top:11px;width:7px;height:83px;background:linear-gradient(#0000,#0000c0 25%,#0000c0 70%,#0000)"></i><i style="left:552px;top:3px;width:8px;height:74px;background:linear-gradient(#0000,#0000c0 25%,#0000c0 70%,#0000)"></i><i style="left:553px;top:77px;width:7px;height:17px;background:linear-gradient(#0000,#0000c0 25%,#0000c0 70%,#0000)"></i><i style="left:558px;top:9px;width:7px;height:62px;background:linear-gradient(#0000,#0000c0 25%,#0000c0 70%,#0000)"></i><i style="left:560px;top:0px;width:8px;height:94px;background:linear-gradient(#0000,#0000c0 25%,#0000c0 70%,#0000)"></i><i style="left:564px;top:0px;width:5px;height:94px;background:linear-gradient(#0000,#0000c0 25%,#0000c0 70%,#0000)"></i><i style="left:569px;top:2px;width:7px;height:92px;background:linear-gradient(#0000,#0000c0 25%,#0000c0 70%,#0000)"></i><i style="left:572px;top:20px;width:8px;height:57px;background:linear-gradient(#0000,#0000c0 25%,#0000c0 70%,#0000)"></i><i style="left:573px;top:77px;width:7px;height:17px;background:linear-gradient(#0000,#0000c0 25%,#0000c0 70%,#0000)"></i><i style="left:578px;top:14px;width:5px;height:43px;background:linear-gradient(#0000,#0000c0 25%,#0000c0 70%,#0000)"></i><i style="left:581px;top:0px;width:7px;height:94px;background:linear-gradient(#0000,#0000c0 25%,#0000c0 70%,#0000)"></i><i style="left:585px;top:0px;width:7px;height:94px;background:linear-gradient(#0000,#0000c0 25%,#0000c0 70%,#0000)"></i><i style="left:590px;top:24px;width:5px;height:55px;background:linear-gradient(#0000,#000090 25%,#000090 70%,#0000)"></i><i style="left:606px;top:16px;width:5px;height:43px;background:linear-gradient(#0000,#0000c0 25%,#0000c0 70%,#0000)"></i></div><b style="top:74px"></b><b style="top:154px;background:#000060"></b><div class="t"><i style="left:18px;top:24px;width:1px;height:21px;background:linear-gradient(#00f0,#00f5 10%,#00f5 90%,#00f0)"></i><i style="left:60px;top:28px;width:1px;height:17px;background:linear-gradient(#00f0,#00f5 12%,#00f5 88%,#00f0)"></i><i style="left:115px;top:31px;width:1px;height:26px;background:linear-gradient(#00f0,#00f5 8%,#00f5 92%,#00f0)"></i><i style="left:215px;top:31px;width:1px;height:20px;background:linear-gradient(#00f0,#00f5 10%,#00f5 90%,#00f0)"></i><i style="left:237px;top:34px;width:1px;height:19px;background:linear-gradient(#00f0,#00f5 11%,#00f5 89%,#00f0)"></i><i style="left:253px;top:31px;width:1px;height:32px;background:linear-gradient(#00f0,#00f5 6%,#00f5 94%,#00f0)"></i><i style="left:372px;top:24px;width:1px;height:33px;background:linear-gradient(#00f0,#00f5 6%,#00f5 94%,#00f0)"></i><i style="left:450px;top:37px;width:1px;height:20px;background:linear-gradient(#00f0,#00f5 10%,#00f5 90%,#00f0)"></i><i style="left:468px;top:24px;width:1px;height:33px;background:linear-gradient(#00f0,#00f5 6%,#00f5 94%,#00f0)"></i><i style="left:478px;top:34px;width:1px;height:23px;background:linear-gradient(#00f0,#00f5 9%,#00f5 91%,#00f0)"></i><i style="left:493px;top:24px;width:1px;height:33px;background:linear-gradient(#00f0,#00f5 6%,#00f5 94%,#00f0)"></i><i style="left:569px;top:34px;width:1px;height:23px;background:linear-gradient(#00f0,#00f5 9%,#00f5 91%,#00f0)"></i><i style="left:597px;top:37px;width:1px;height:20px;background:linear-gradient(#00f0,#00f5 10%,#00f5 90%,#00f0)"></i><i style="left:1px;top:28px;width:1px;height:31px;background:linear-gradient(#00f0,#00f8 3%,#00f 6%,#00f 94%,#00f8 97%,#00f0)"></i><i style="left:10px;top:138px;width:1px;height:9px;background:linear-gradient(#00f0,#00f8 6%,#00f 11%,#00f 89%,#00f8 94%,#00f0)"></i><i style="left:14px;top:145px;width:1px;height:5px;background:linear-gradient(#00f0,#00f8 10%,#00f 20%,#00f 80%,#00f8 90%,#00f0)"></i><i style="left:28px;top:146px;width:1px;height:5px;background:linear-gradient(#00f0,#00f8 10%,#00f 20%,#00f 80%,#00f8 90%,#00f0)"></i><i style="left:39px;top:148px;width:1px;height:3px;background:linear-gradient(#00f0,#00f8 17%,#00f 33%,#00f 67%,#00f8 83%,#00f0)"></i><i style="left:57px;top:27px;width:1px;height:71px;background:linear-gradient(#00f0,#00f8 1%,#00f 3%,#00f 59%,#00f 70%,#00fa 85%,#00f5 99%,#00f0)"></i><i style="left:79px;top:75px;width:1px;height:25px;background:linear-gradient(#00f0,#00f8 4%,#00f 8%,#00fa 52%,#00f5 96%,#00f0)"></i><i style="left:100px;top:23px;width:1px;height:36px;background:linear-gradient(#00f0,#00f8 3%,#00f 6%,#00f 94%,#00f8 97%,#00f0)"></i><i style="left:133px;top:28px;width:1px;height:43px;background:linear-gradient(#00f0,#00f8 2%,#00f 5%,#00f 95%,#00f8 98%,#00f0)"></i><i style="left:157px;top:134px;width:1px;height:15px;background:linear-gradient(#00f0,#00f8 7%,#00f 13%,#00f 93%,#00f8 97%,#00f0)"></i><i style="left:167px;top:134px;width:1px;height:17px;background:linear-gradient(#00f0,#00f8 6%,#00f 12%,#00f 94%,#00f8 97%,#00f0)"></i><i style="left:191px;top:29px;width:1px;height:32px;background:linear-gradient(#00f0,#00f8 3%,#00f 6%,#00f 88%,#00f8 94%,#00f0)"></i><i style="left:203px;top:138px;width:1px;height:13px;background:linear-gradient(#00f0,#00f8 8%,#00f 15%,#00f 92%,#00f8 96%,#00f0)"></i><i style="left:211px;top:27px;width:1px;height:30px;background:linear-gradient(#00f0,#00f8 3%,#00f 7%,#00f 90%,#00f8 95%,#00f0)"></i><i style="left:212px;top:27px;width:1px;height:30px;background:linear-gradient(#00f0,#00f3 7%,#00f3 90%,#00f0)"></i><i style="left:280px;top:28px;width:1px;height:35px;background:linear-gradient(#00f0,#00f8 3%,#00f 6%,#00f 94%,#00f8 97%,#00f0)"></i><i style="left:296px;top:22px;width:1px;height:41px;background:linear-gradient(#00f0,#00f8 2%,#00f 5%,#00f 95%,#00f8 98%,#00f0)"></i><i style="left:316px;top:24px;width:1px;height:27px;background:linear-gradient(#00f0,#00f8 4%,#00f 7%,#00f 93%,#00f8 96%,#00f0)"></i><i style="left:324px;top:28px;width:1px;height:28px;background:linear-gradient(#00f0,#00f8 4%,#00f 7%,#00f 93%,#00f8 96%,#00f0)"></i><i style="left:339px;top:24px;width:1px;height:27px;background:linear-gradient(#00f0,#00f8 4%,#00f 7%,#00f 93%,#00f8 96%,#00f0)"></i><i style="left:347px;top:31px;width:1px;height:26px;background:linear-gradient(#00f0,#00f8 4%,#00f 8%,#00f 92%,#00f8 96%,#00f0)"></i><i style="left:362px;top:31px;width:1px;height:56px;background:linear-gradient(#00f0,#00f8 2%,#00f 4%,#00f 68%,#00f 82%,#00f8 91%,#00f0)"></i><i style="left:362px;top:98px;width:1px;height:24px;background:linear-gradient(#00f0,#00f8 2%,#00f 4%,#00f 96%,#00f8 98%,#00f0)"></i><i style="left:378px;top:9px;width:1px;height:14px;background:linear-gradient(#00f0,#00f8 7%,#00f 14%,#00f 86%,#00f8 93%,#00f0)"></i><i style="left:419px;top:24px;width:1px;height:33px;background:linear-gradient(#00f0,#00f8 3%,#00f 6%,#00f 94%,#00f8 97%,#00f0)"></i><i style="left:500px;top:31px;width:1px;height:22px;background:linear-gradient(#00f0,#00f8 5%,#00f 9%,#00f 91%,#00f8 95%,#00f0)"></i><i style="left:501px;top:31px;width:1px;height:22px;background:linear-gradient(#00f0,#00f8 5%,#00f 9%,#00f 91%,#00f8 95%,#00f0)"></i><i style="left:520px;top:31px;width:1px;height:24px;background:linear-gradient(#00f0,#00f8 4%,#00f 8%,#00f 92%,#00f8 96%,#00f0)"></i><i style="left:550px;top:34px;width:1px;height:23px;background:linear-gradient(#00f0,#00f8 4%,#00f 9%,#00f 91%,#00f8 96%,#00f0)"></i><i style="left:594px;top:32px;width:1px;height:31px;background:linear-gradient(#00f0,#00f8 3%,#00f 6%,#00f 94%,#00f8 97%,#00f0)"></i><i style="left:8px;top:18px;width:1px;height:49px;background:linear-gradient(#00f0,#00f8 2%,#00f 4%,#08f 22%,#00f 43%,#00f 96%,#00f8 98%,#00f0)"></i><i style="left:35px;top:30px;width:1px;height:57px;background:linear-gradient(#00f0,#00f8 2%,#00f 4%,#08f 25%,#08f 82%,#00f 88%,#00f7 94%,#00f0)"></i><i style="left:50px;top:22px;width:1px;height:33px;background:linear-gradient(#00f0,#00f8 3%,#00f 6%,#08f 52%,#00f 82%,#00f8 91%,#00f0)"></i><i style="left:52px;top:27px;width:1px;height:31px;background:linear-gradient(#00f0,#00f7 2%,#00f 4%,#08f 6%,#08f 71%,#00f 94%,#00f8 97%,#00f0)"></i><i style="left:67px;top:134px;width:1px;height:17px;background:linear-gradient(#00f0,#00f8 6%,#00f 12%,#08f 88%,#00f 92%,#00f7 96%,#00f0)"></i><i style="left:69px;top:142px;width:1px;height:8px;background:linear-gradient(#00f0,#00f7 8%,#00f 17%,#08f 25%,#08f 88%,#00f 92%,#00f7 96%,#00f0)"></i><i style="left:96px;top:18px;width:1px;height:41px;background:linear-gradient(#00f0,#00f6 2%,#00fc 5%,#05f 27%,#05f 63%,#00fc 95%,#00f6 98%,#00f0)"></i><i style="left:97px;top:18px;width:1px;height:41px;background:linear-gradient(#00f0,#00f6 2%,#00fc 5%,#05f 27%,#05f 63%,#00fc 95%,#00f6 98%,#00f0)"></i><i style="left:111px;top:29px;width:1px;height:90px;background:linear-gradient(#00f0,#00f8 2%,#00f 3%,#00f 33%,#08f 53%,#00f 78%,#00f8 89%,#00f0)"></i><i style="left:112px;top:29px;width:1px;height:70px;background:linear-gradient(#00f0,#00f1 4%,#00f1 43%,#00f8 69%,#00f4 84%,#00f0)"></i><i style="left:124px;top:139px;width:1px;height:12px;background:linear-gradient(#00f0,#00f7 6%,#00f 11%,#08f 17%,#00f 83%,#00f8 92%,#00f0)"></i><i style="left:136px;top:24px;width:1px;height:76px;background:linear-gradient(#00f0,#00f3 3%,#00fa 20%,#00fa 39%,#00f3 57%,#00fa 70%,#00f3 79%,#00f0)"></i><i style="left:137px;top:24px;width:1px;height:76px;background:linear-gradient(#00f0,#00f8 1%,#00f 3%,#08f 20%,#08f 39%,#00f 57%,#08f 70%,#00f 79%,#00f8 89%,#00f0)"></i><i style="left:162px;top:24px;width:1px;height:35px;background:linear-gradient(#00f0,#00f8 3%,#00f 6%,#08f 43%,#00f 86%,#00f8 93%,#00f0)"></i><i style="left:235px;top:31px;width:1px;height:38px;background:linear-gradient(#00f0,#00f8 3%,#00f 5%,#08f 34%,#00f 95%,#00f8 97%,#00f0)"></i><i style="left:272px;top:139px;width:1px;height:12px;background:linear-gradient(#00f0,#00f7 6%,#00f 11%,#08f 17%,#00f 83%,#00f8 92%,#00f0)"></i><i style="left:298px;top:31px;width:1px;height:26px;background:linear-gradient(#00f0,#00f7 3%,#00f 5%,#08f 8%,#08f 88%,#00f 92%,#00f7 96%,#00f0)"></i><i style="left:302px;top:14px;width:1px;height:45px;background:linear-gradient(#00f0,#00f8 2%,#00f 4%,#08f 33%,#08f 78%,#00f 85%,#00f7 93%,#00f0)"></i><i style="left:343px;top:21px;width:1px;height:36px;background:linear-gradient(#00f0,#00f8 3%,#00f 6%,#08f 36%,#00f 92%,#00f8 96%,#00f0)"></i><i style="left:385px;top:23px;width:1px;height:40px;background:linear-gradient(#00f0,#00f8 2%,#00f 5%,#08f 40%,#00f 95%,#00f8 98%,#00f0)"></i><i style="left:391px;top:22px;width:1px;height:37px;background:linear-gradient(#00f0,#00f3 5%,#00fa 46%,#00f3 95%,#00f0)"></i><i style="left:392px;top:22px;width:1px;height:37px;background:linear-gradient(#00f0,#00f8 3%,#00f 5%,#08f 46%,#00f 95%,#00f8 97%,#00f0)"></i><i style="left:407px;top:24px;width:1px;height:55px;background:linear-gradient(#00f0,#00f8 2%,#00f 4%,#08f 96%,#00f 98%,#00f7 99%,#00f0)"></i><i style="left:435px;top:14px;width:1px;height:95px;background:linear-gradient(#00f0,#00f7 1%,#00f 2%,#08f 3%,#08f 66%,#08f 89%,#00f 93%,#00f7 96%,#00f0)"></i><i style="left:456px;top:29px;width:1px;height:30px;background:linear-gradient(#00f0,#00f7 2%,#00f 4%,#08f 7%,#08f 67%,#00f 83%,#00f8 92%,#00f0)"></i><i style="left:472px;top:24px;width:1px;height:33px;background:linear-gradient(#00f0,#00f1 6%,#00f8 30%,#00f8 61%,#00f1 91%,#00f0)"></i><i style="left:473px;top:24px;width:1px;height:33px;background:linear-gradient(#00f0,#00f8 3%,#00f 6%,#08f 30%,#08f 61%,#00f 91%,#00f8 95%,#00f0)"></i><i style="left:496px;top:24px;width:1px;height:35px;background:linear-gradient(#00f0,#00f5 6%,#00fc 43%,#00f5 77%,#00f0)"></i><i style="left:497px;top:24px;width:1px;height:35px;background:linear-gradient(#00f0,#00f8 3%,#00f 6%,#08f 43%,#00f 77%,#00f8 89%,#00f0)"></i><i style="left:503px;top:31px;width:1px;height:20px;background:linear-gradient(#00f0,#00f7 3%,#00f 7%,#08f 10%,#08f 90%,#00f 93%,#00f7 97%,#00f0)"></i><i style="left:509px;top:139px;width:1px;height:11px;background:linear-gradient(#00f0,#00f8 9%,#00f 18%,#08f 55%,#00f 91%,#00f8 95%,#00f0)"></i><i style="left:578px;top:22px;width:1px;height:35px;background:linear-gradient(#00f0,#00f7 2%,#00f 4%,#08f 6%,#08f 91%,#00f 94%,#00f7 97%,#00f0)"></i><i style="left:586px;top:24px;width:1px;height:35px;background:linear-gradient(#00f0,#00f8 3%,#00f 6%,#08f 43%,#00f 94%,#00f8 97%,#00f0)"></i><i style="left:602px;top:19px;width:1px;height:38px;background:linear-gradient(#00f0,#00f8 3%,#00f 5%,#08f 39%,#00f 79%,#00f8 89%,#00f0)"></i><i style="left:611px;top:24px;width:1px;height:25px;background:linear-gradient(#00f0,#00f7 3%,#00f 5%,#08f 8%,#08f 80%,#00f 87%,#00f7 93%,#00f0)"></i><i style="left:23px;top:21px;width:1px;height:98px;background:linear-gradient(#00f0,#00f8 1%,#00f 2%,#08f 11%,#0ff 29%,#0ff 57%,#08f 62%,#00f 69%,#00fa 84%,#00f5 99%,#00f0)"></i><i style="left:65px;top:17px;width:1px;height:86px;background:linear-gradient(#00f0,#00f8 1%,#00f 2%,#00f 20%,#07f 22%,#0ff 23%,#0ff 37%,#08f 70%,#00f 84%,#00f8 92%,#00f0)"></i><i style="left:71px;top:18px;width:1px;height:53px;background:linear-gradient(#00f0,#00f5 4%,#00f5 19%,#00fc 22%,#03f 25%,#03f 58%,#00fd 81%,#00f5 96%,#00f0)"></i><i style="left:72px;top:18px;width:1px;height:53px;background:linear-gradient(#00f0,#00f8 2%,#00f 4%,#00f 19%,#07f 22%,#0ff 25%,#0ff 58%,#08f 81%,#00f 96%,#00f8 98%,#00f0)"></i><i style="left:78px;top:25px;width:1px;height:46px;background:linear-gradient(#00f0,#00f3 4%,#00fb 20%,#01f 52%,#00fb 85%,#00f5 92%,#00f0)"></i><i style="left:79px;top:25px;width:1px;height:46px;background:linear-gradient(#00f0,#00f8 2%,#00f 4%,#08f 20%,#0ff 52%,#08f 85%,#00f 90%,#00f7 95%,#00f0)"></i><i style="left:91px;top:140px;width:1px;height:11px;background:linear-gradient(#00f0,#00f8 9%,#00f 18%,#07f 36%,#0ff 55%,#0ff 91%,#06f 93%,#00fe 95%,#00f7 98%,#00f0)"></i><i style="left:104px;top:18px;width:1px;height:49px;background:linear-gradient(#00f0,#00f8 2%,#00f 4%,#07f 9%,#0ff 14%,#0ff 73%,#07f 79%,#00f 84%,#00f8 92%,#00f0)"></i><i style="left:118px;top:10px;width:1px;height:59px;background:linear-gradient(#00f0,#00f8 2%,#00f 3%,#00f 24%,#07f 26%,#0ff 29%,#0ff 42%,#08f 49%,#00f 75%,#00f8 87%,#00f0)"></i><i style="left:156px;top:21px;width:1px;height:88px;background:linear-gradient(#00f0,#00f8 1%,#00f 2%,#07f 6%,#0ff 9%,#0ff 43%,#0ff 64%,#0ff 89%,#08f 98%,#00f 98%,#00f7 99%,#00f0)"></i><i style="left:183px;top:22px;width:1px;height:47px;background:linear-gradient(#00f0,#00f8 2%,#00f 4%,#07f 10%,#0ff 15%,#0ff 79%,#07f 85%,#00f 91%,#00f8 96%,#00f0)"></i><i style="left:205px;top:47px;width:1px;height:49px;background:linear-gradient(#00f0,#00f7 1%,#00fe 2%,#06f 3%,#0ff 4%,#0ff 61%,#07f 65%,#00f 69%,#00f8 85%,#00f0)"></i><i style="left:217px;top:24px;width:1px;height:45px;background:linear-gradient(#00f0,#00f7 1%,#00f 3%,#08f 4%,#0ff 33%,#08f 78%,#00f 85%,#00f7 93%,#00f0)"></i><i style="left:228px;top:31px;width:1px;height:40px;background:linear-gradient(#00f0,#00f8 2%,#00f 5%,#08f 40%,#0ff 57%,#08f 82%,#00f 88%,#00f7 94%,#00f0)"></i><i style="left:233px;top:28px;width:1px;height:33px;background:linear-gradient(#00f0,#00f7 2%,#00f 4%,#08f 6%,#0ff 33%,#08f 88%,#00f 92%,#00f7 96%,#00f0)"></i><i style="left:257px;top:75px;width:1px;height:46px;background:linear-gradient(#00f0,#00f7 1%,#00fe 2%,#06f 3%,#0ff 4%,#0ff 52%,#08f 96%,#00f 97%,#00f7 99%,#00f0)"></i><i style="left:291px;top:12px;width:1px;height:53px;background:linear-gradient(#00f0,#00f8 2%,#00f 4%,#00f 23%,#07f 25%,#0ff 28%,#0ff 79%,#07f 84%,#00f 89%,#00f8 94%,#00f0)"></i><i style="left:341px;top:18px;width:1px;height:53px;background:linear-gradient(#00f0,#00f8 2%,#00f 4%,#07f 8%,#0ff 13%,#0ff 96%,#06f 97%,#00fe 98%,#00f7 99%,#00f0)"></i><i style="left:345px;top:131px;width:1px;height:20px;background:linear-gradient(#00f0,#00f7 3%,#00f 7%,#08f 10%,#0ff 65%,#07f 78%,#00f 90%,#00f8 95%,#00f0)"></i><i style="left:350px;top:7px;width:1px;height:60px;background:linear-gradient(#00f0,#00f8 2%,#00f 3%,#00f 13%,#07f 15%,#0ff 17%,#0ff 87%,#07f 90%,#00f 93%,#00f8 97%,#00f0)"></i><i style="left:356px;top:138px;width:1px;height:13px;background:linear-gradient(#00f0,#00f8 8%,#00f 15%,#07f 50%,#0ff 85%,#06f 88%,#00fe 92%,#00f7 96%,#00f0)"></i><i style="left:358px;top:132px;width:1px;height:17px;background:linear-gradient(#00f0,#00f7 4%,#00f 8%,#08f 12%,#0ff 88%,#06f 91%,#00fe 94%,#00f7 97%,#00f0)"></i><i style="left:368px;top:19px;width:1px;height:42px;background:linear-gradient(#00f0,#00f8 2%,#00f 5%,#08f 24%,#0ff 60%,#08f 83%,#00f 89%,#00f7 94%,#00f0)"></i><i style="left:369px;top:19px;width:1px;height:42px;background:linear-gradient(#00f0,#00f3 5%,#00fa 24%,#01f 60%,#00fa 83%,#00f5 92%,#00f0)"></i><i style="left:374px;top:15px;width:1px;height:46px;background:linear-gradient(#00f0,#00f8 2%,#00f 4%,#07f 13%,#0ff 22%,#0ff 87%,#07f 91%,#00f 96%,#00f8 98%,#00f0)"></i><i style="left:380px;top:75px;width:1px;height:21px;background:linear-gradient(#00f0,#00f7 2%,#00fe 5%,#06f 7%,#0ff 10%,#08f 29%,#00f 76%,#00f8 88%,#00f0)"></i><i style="left:389px;top:12px;width:1px;height:45px;background:linear-gradient(#00f0,#00f8 2%,#00f 4%,#00f 27%,#07f 30%,#0ff 33%,#0ff 93%,#06f 95%,#00fe 97%,#00f7 98%,#00f0)"></i><i style="left:441px;top:114px;width:1px;height:36px;background:linear-gradient(#00f0,#00f7 1%,#00fe 1%,#06f 2%,#0ff 3%,#0ff 25%,#06f 26%,#00fe 28%,#00f7 29%,#00f0 31%,#00f8 33%,#00f 36%,#00f 97%,#00f8 99%,#00f0)"></i><i style="left:476px;top:12px;width:1px;height:47px;background:linear-gradient(#00f0,#00f8 2%,#00f 4%,#00f 26%,#07f 29%,#0ff 32%,#0ff 79%,#07f 85%,#00f 91%,#00f8 96%,#00f0)"></i><i style="left:482px;top:13px;width:1px;height:56px;background:linear-gradient(#00f0,#00f1 4%,#00f1 14%,#00f7 17%,#00fe 20%,#00fe 82%,#00f7 88%,#00f1 93%,#00f0)"></i><i style="left:483px;top:13px;width:1px;height:56px;background:linear-gradient(#00f0,#00f8 2%,#00f 4%,#00f 14%,#07f 17%,#0ff 20%,#0ff 82%,#07f 88%,#00f 93%,#00f8 96%,#00f0)"></i><i style="left:490px;top:130px;width:1px;height:19px;background:linear-gradient(#00f0,#00f7 4%,#00f 7%,#08f 11%,#0ff 89%,#06f 92%,#00fe 95%,#00f7 97%,#00f0)"></i><i style="left:537px;top:22px;width:1px;height:33px;background:linear-gradient(#00f0,#00f8 3%,#00f 6%,#07f 17%,#0ff 27%,#08f 82%,#00f 88%,#00f7 94%,#00f0)"></i><i style="left:543px;top:24px;width:1px;height:33px;background:linear-gradient(#00f0,#00f8 3%,#00f 6%,#08f 39%,#0ff 61%,#07f 76%,#00f 91%,#00f8 95%,#00f0)"></i><i style="left:591px;top:22px;width:1px;height:64px;background:linear-gradient(#00f0,#00f6 2%,#00fc 3%,#04f 9%,#0bf 14%,#0bf 73%,#0bf 86%,#05f 89%,#00fd 93%,#00f6 96%,#00f0)"></i><i style="left:592px;top:22px;width:1px;height:64px;background:linear-gradient(#00f0,#00f6 2%,#00fc 3%,#04f 9%,#0bf 14%,#0bf 73%,#0bf 86%,#05f 89%,#00fd 93%,#00f6 96%,#00f0)"></i><i style="left:25px;top:9px;width:1px;height:48px;background:linear-gradient(#00f0,#00f8 2%,#00f 4%,#00f 19%,#07f 21%,#0ff 23%,#0f8 52%,#0ff 83%,#07f 89%,#00f 94%,#00f8 97%,#00f0)"></i><i style="left:69px;top:28px;width:1px;height:73px;background:linear-gradient(#00f0,#00f7 1%,#00fe 1%,#06f 2%,#0ff 3%,#0f8 29%,#0f8 67%,#0ff 90%,#07f 94%,#00f 97%,#00f8 99%,#00f0)"></i><i style="left:151px;top:12px;width:1px;height:67px;background:linear-gradient(#00f0,#00f8 1%,#00f 3%,#00f 22%,#07f 24%,#0ff 25%,#0f8 55%,#0f8 97%,#0ef 98%,#06f 98%,#00fe 99%,#00f7 99%,#00f0)"></i><i style="left:195px;top:12px;width:1px;height:95px;background:linear-gradient(#00f0,#00f8 1%,#00f 2%,#00f 11%,#07f 12%,#0ff 13%,#0f8 14%,#0f8 39%,#0ff 49%,#07f 59%,#00f 68%,#00fa 84%,#00f5 99%,#00f0)"></i><i style="left:240px;top:24px;width:1px;height:87px;background:linear-gradient(#00f0,#00f8 1%,#00f 2%,#00f 15%,#07f 17%,#0ff 20%,#0ff 40%,#0f8 61%,#0ff 68%,#07f 70%,#00f 72%,#00f8 86%,#00f0)"></i><i style="left:305px;top:24px;width:1px;height:37px;background:linear-gradient(#00f0,#00f3 14%,#00fa 54%,#00f3 81%,#00f0)"></i><i style="left:306px;top:13px;width:1px;height:56px;background:linear-gradient(#00f0,#00f7 4%,#00f7 20%,#00fd 24%,#05f 29%,#0cf 55%,#05f 73%,#00fd 79%,#00f7 86%,#00f0)"></i><i style="left:307px;top:13px;width:1px;height:56px;background:linear-gradient(#00f0,#00f8 2%,#00f 4%,#00f 20%,#07f 24%,#0ff 29%,#0f8 55%,#0ff 73%,#07f 79%,#00f 86%,#00f8 93%,#00f0)"></i><i style="left:308px;top:13px;width:1px;height:56px;background:linear-gradient(#00f0,#00f3 4%,#00f3 20%,#00f9 24%,#00f 29%,#07f 55%,#00f 73%,#00f9 79%,#00f3 86%,#00f0)"></i><i style="left:387px;top:34px;width:1px;height:61px;background:linear-gradient(#00f0,#00f7 1%,#00f 2%,#08f 3%,#0fe 14%,#0f8 25%,#0f8 70%,#0fe 72%,#08f 74%,#00f 90%,#00f8 95%,#00f0)"></i><i style="left:470px;top:24px;width:1px;height:98px;background:linear-gradient(#00f0,#00f8 1%,#00f 2%,#00f 13%,#07f 14%,#0ff 15%,#0f8 26%,#0ff 36%,#08f 46%,#08f 54%,#0ff 58%,#07f 60%,#00f 62%,#07f 64%,#0ff 66%,#0ff 97%,#06f 98%,#00fe 98%,#00f7 99%,#00f0)"></i><i style="left:516px;top:8px;width:1px;height:59px;background:linear-gradient(#00f0,#00f8 2%,#00f 3%,#00f 27%,#07f 30%,#0ff 32%,#0f8 61%,#0ff 80%,#07f 85%,#00f 90%,#00f8 95%,#00f0)"></i><i style="left:28px;top:19px;width:1px;height:101px;background:linear-gradient(#00f0,#00f7 1%,#00fd 2%,#00fd 12%,#05f 13%,#0cf 15%,#0cf 30%,#0fb 31%,#0f4 33%,#0f0 35%,#0f0 50%,#0f4 52%,#0fb 55%,#0cf 57%,#06f 67%,#00fd 74%,#00f8 87%,#00f3 99%,#00f0)"></i><i style="left:29px;top:19px;width:1px;height:101px;background:linear-gradient(#00f0,#00f6 1%,#00fb 2%,#00fb 12%,#03f 13%,#0af 15%,#0af 30%,#0fd 31%,#0f6 33%,#0f0 35%,#0f0 50%,#0f6 52%,#0fd 55%,#0af 57%,#04f 67%,#00fb 74%,#00f6 87%,#00f1 99%,#00f0)"></i><i style="left:39px;top:4px;width:1px;height:86px;background:linear-gradient(#00f0,#00f8 1%,#00f 2%,#00f 23%,#07f 25%,#0ff 27%,#0f8 52%,#0f2 55%,#0f0 58%,#0f2 67%,#0f8 76%,#0ff 85%,#08f 90%,#00f 93%,#00f7 97%,#00f0)"></i><i style="left:88px;top:6px;width:1px;height:73px;background:linear-gradient(#00f0,#00f8 1%,#00f 3%,#00f 23%,#07f 25%,#0ff 26%,#0f8 27%,#0f2 43%,#0f0 59%,#0f2 78%,#0f8 97%,#0ef 98%,#06f 98%,#00fe 99%,#00f7 99%,#00f0)"></i><i style="left:91px;top:7px;width:1px;height:78px;background:linear-gradient(#00f0,#00f8 1%,#00f 3%,#00f 14%,#07f 16%,#0ff 18%,#0f8 41%,#0f2 47%,#0f0 54%,#0f4 66%,#0fc 78%,#08f 90%,#00f 93%,#00f7 97%,#00f0)"></i><i style="left:207px;top:15px;width:1px;height:105px;background:linear-gradient(#00f0,#00f8 1%,#00f 2%,#00f 11%,#07f 12%,#0ff 13%,#0f8 17%,#0f2 20%,#0f0 23%,#0f0 59%,#0f2 60%,#0f8 62%,#0ff 63%,#08f 80%,#00f 86%,#00f8 93%,#00f0)"></i><i style="left:219px;top:3px;width:1px;height:72px;background:linear-gradient(#00f0,#00f8 1%,#00f 3%,#00f 19%,#07f 21%,#0ff 22%,#0f8 39%,#0f2 44%,#0f0 50%,#0f0 89%,#0f4 91%,#0fc 93%,#08f 94%,#00f 96%,#00f7 98%,#00f0)"></i><i style="left:256px;top:11px;width:1px;height:70px;background:linear-gradient(#00f0,#00f6 1%,#00fc 3%,#05f 19%,#0bf 29%,#0fc 30%,#0f5 32%,#0f0 34%,#0f0 69%,#0f5 72%,#0fc 76%,#0bf 80%,#0bf 94%,#04f 96%,#00fc 97%,#00f6 99%,#00f0)"></i><i style="left:257px;top:11px;width:1px;height:70px;background:linear-gradient(#00f0,#00f6 1%,#00fc 3%,#05f 19%,#0bf 29%,#0fc 30%,#0f5 32%,#0f0 34%,#0f0 69%,#0f5 72%,#0fc 76%,#0bf 80%,#0bf 94%,#04f 96%,#00fc 97%,#00f6 99%,#00f0)"></i><i style="left:261px;top:9px;width:1px;height:72px;background:linear-gradient(#00f0,#00f5 3%,#00f5 21%,#00fb 23%,#03f 25%,#03f 56%,#09f 58%,#0fd 60%,#0f7 62%,#0f7 94%,#0ff 96%,#06f 97%,#00fe 98%,#00f7 99%,#00f0)"></i><i style="left:262px;top:9px;width:1px;height:72px;background:linear-gradient(#00f0,#00f8 1%,#00f 3%,#00f 21%,#07f 23%,#0ff 25%,#0ff 56%,#0f8 58%,#0f2 60%,#0f0 62%,#0f0 94%,#0f4 95%,#0fc 96%,#08f 97%,#00f 98%,#00f7 99%,#00f0)"></i><i style="left:262px;top:75px;width:1px;height:46px;background:linear-gradient(#00f0,#00f7 1%,#00f 1%,#08f 2%,#0fc 3%,#0f4 4%,#0f0 4%,#0f0 87%,#0f2 90%,#0f8 93%,#0ff 96%,#06f 97%,#00fe 98%,#00f7 99%,#00f0)"></i><i style="left:265px;top:21px;width:1px;height:81px;background:linear-gradient(#00f0,#00f8 1%,#00f 2%,#07f 7%,#0ff 12%,#0f8 28%,#0f2 31%,#0f0 35%,#0f0 69%,#0f2 72%,#0f8 74%,#0ff 77%,#08f 90%,#00f 93%,#00f7 97%,#00f0)"></i><i style="left:272px;top:9px;width:1px;height:62px;background:linear-gradient(#00f0,#00f8 2%,#00f 3%,#00f 19%,#07f 23%,#0ff 26%,#0f8 29%,#0f2 32%,#0f0 35%,#0f0 84%,#0f2 87%,#0f8 90%,#0ff 94%,#06f 95%,#00fe 97%,#00f7 98%,#00f0)"></i><i style="left:273px;top:9px;width:1px;height:62px;background:linear-gradient(#00f0,#00f4 2%,#00f9 3%,#00f9 19%,#00f 23%,#07f 26%,#0ef 29%,#0f9 32%,#0f3 35%,#0f3 84%,#0f9 87%,#0ef 90%,#07f 94%,#00fe 96%,#00f7 98%,#00f0)"></i><i style="left:272px;top:71px;width:1px;height:40px;background:linear-gradient(#00f0,#00f7 2%,#00f 5%,#08f 8%,#0fc 10%,#0f4 12%,#0f0 15%,#0f2 34%,#0f8 52%,#0ff 55%,#07f 57%,#00f 60%,#00f 95%,#00f8 98%,#00f0)"></i><i style="left:277px;top:12px;width:1px;height:55px;background:linear-gradient(#00f0,#00f8 2%,#00f 4%,#00f 22%,#07f 25%,#0ff 27%,#0f8 45%,#0f2 52%,#0f0 58%,#0f2 63%,#0f8 67%,#0ff 85%,#07f 91%,#00f 96%,#00f8 98%,#00f0)"></i><i style="left:300px;top:18px;width:1px;height:78px;background:linear-gradient(#00f0,#00f8 1%,#00f 3%,#00f 18%,#07f 20%,#0ff 22%,#0f8 26%,#0f2 29%,#0f0 33%,#0f0 76%,#0f4 76%,#0fc 77%,#08f 78%,#00f 91%,#00f8 96%,#00f0)"></i><i style="left:357px;top:22px;width:1px;height:57px;background:linear-gradient(#00f0,#00f6 2%,#00fc 4%,#04f 16%,#0af 23%,#0fd 30%,#0fd 65%,#0af 70%,#04f 75%,#00fc 86%,#00f7 96%,#00f0)"></i><i style="left:358px;top:22px;width:1px;height:57px;background:linear-gradient(#00f0,#00f7 1%,#00fe 2%,#06f 3%,#0ff 4%,#0f8 16%,#0f2 23%,#0f0 30%,#0f0 65%,#0f2 70%,#0f8 75%,#0ff 86%,#08f 96%,#00f 98%,#00f7 99%,#00f0)"></i><i style="left:359px;top:22px;width:1px;height:57px;background:linear-gradient(#00f0,#00f6 1%,#00fc 2%,#03f 4%,#0bf 16%,#0fc 23%,#0f6 30%,#0f6 65%,#0fc 70%,#0bf 75%,#03f 86%,#00fd 96%,#00f6 98%,#00f0)"></i><i style="left:365px;top:22px;width:1px;height:62px;background:linear-gradient(#00f0,#00f8 2%,#00f 3%,#07f 9%,#0ff 15%,#0f8 44%,#0f2 48%,#0f0 52%,#0f2 56%,#0f8 60%,#0ff 79%,#0ff 89%,#06f 92%,#00fe 94%,#00f7 97%,#00f0)"></i><i style="left:379px;top:14px;width:1px;height:61px;background:linear-gradient(#00f0,#00f5 3%,#00f5 16%,#00fb 19%,#02f 21%,#0af 41%,#0fd 49%,#0f7 57%,#0fd 66%,#0af 74%,#02f 82%,#00fc 88%,#00f6 94%,#00f0)"></i><i style="left:380px;top:14px;width:1px;height:61px;background:linear-gradient(#00f0,#00f8 2%,#00f 3%,#00f 16%,#07f 19%,#0ff 21%,#0f8 41%,#0f2 49%,#0f0 57%,#0f2 66%,#0f8 74%,#0ff 82%,#06f 86%,#00fe 91%,#00f7 95%,#00f0)"></i><i style="left:381px;top:14px;width:1px;height:61px;background:linear-gradient(#00f0,#00f5 3%,#00f5 16%,#00fb 19%,#02f 21%,#0af 41%,#0fd 49%,#0f7 57%,#0fd 66%,#0af 74%,#02f 82%,#00fc 88%,#00f6 94%,#00f0)"></i><i style="left:395px;top:18px;width:1px;height:61px;background:linear-gradient(#00f0,#00f8 2%,#00f 3%,#00f 16%,#07f 19%,#0ff 21%,#0f8 26%,#0f2 30%,#0f0 34%,#0f0 84%,#0f2 86%,#0f8 88%,#0ff 90%,#08f 97%,#00f 98%,#00f7 99%,#00f0)"></i><i style="left:404px;top:21px;width:1px;height:50px;background:linear-gradient(#00f0,#00f5 4%,#00f5 26%,#00fb 29%,#03f 32%,#09f 40%,#0fd 48%,#0f7 56%,#0fd 68%,#0af 80%,#03f 96%,#00fc 97%,#00f6 99%,#00f0)"></i><i style="left:405px;top:21px;width:1px;height:50px;background:linear-gradient(#00f0,#00f8 2%,#00f 4%,#00f 26%,#07f 29%,#0ff 32%,#0f8 40%,#0f2 48%,#0f0 56%,#0f2 68%,#0f8 80%,#0ff 96%,#06f 97%,#00fe 98%,#00f7 99%,#00f0)"></i><i style="left:425px;top:12px;width:1px;height:67px;background:linear-gradient(#00f0,#00f8 1%,#00f 3%,#07f 8%,#0ff 13%,#0f8 37%,#0f2 43%,#0f0 48%,#0f2 55%,#0f8 63%,#0f8 97%,#0ef 98%,#06f 98%,#00fe 99%,#00f7 99%,#00f0)"></i><i style="left:429px;top:14px;width:1px;height:85px;background:linear-gradient(#00f0,#00f3 2%,#00f3 18%,#00f9 20%,#01f 22%,#07f 35%,#0ff 38%,#0f9 41%,#0f9 74%,#0ef 75%,#07f 76%,#01f 76%,#00fb 84%,#00f6 92%,#00f0)"></i><i style="left:430px;top:14px;width:1px;height:85px;background:linear-gradient(#00f0,#00f8 1%,#00f 2%,#00f 18%,#07f 20%,#0ff 22%,#0f8 35%,#0f2 38%,#0f0 41%,#0f0 74%,#0f2 75%,#0f8 76%,#0ff 76%,#08f 92%,#00f 95%,#00f7 97%,#00f0)"></i><i style="left:446px;top:13px;width:1px;height:66px;background:linear-gradient(#00f0,#00f8 2%,#00f 3%,#00f 18%,#07f 21%,#0ff 24%,#0f8 42%,#0f2 47%,#0f0 52%,#0f0 85%,#0f2 87%,#0f8 89%,#0ff 91%,#08f 97%,#00f 98%,#00f7 99%,#00f0)"></i><i style="left:462px;top:65px;width:1px;height:84px;background:linear-gradient(#00f0,#00f7 1%,#00fe 2%,#06f 4%,#0ff 5%,#0f8 8%,#0f2 11%,#0f0 14%,#0f2 27%,#0f8 40%,#0ff 41%,#07f 42%,#00f 43%,#07f 44%,#0ff 45%,#0ff 51%,#06f 52%,#00fe 52%,#00f7 53%,#00f0 54%,#00f7 54%,#00fe 55%,#06f 55%,#0ff 56%,#0f8 65%,#0ef 66%,#06f 66%,#00fe 67%,#00f7 67%,#00f0 68%,#00f7 69%,#00f 70%,#08f 71%,#0ff 82%,#06f 83%,#00fe 83%,#00f7 84%,#00f0 85%,#00f7 86%,#00f 88%,#08f 89%,#0ff 98%,#06f 98%,#00fe 99%,#00f7 99%,#00f0)"></i><i style="left:465px;top:28px;width:1px;height:65px;background:linear-gradient(#00f0,#00f8 2%,#00f 3%,#08f 17%,#00f 35%,#00f8 38%,#00f0 40%,#00f7 40%,#00f 41%,#08f 41%,#0fc 41%,#0f4 41%,#0f0 42%,#0f0 75%,#0f2 76%,#0f8 77%,#0ff 78%,#08f 97%,#00f 98%,#00f7 99%,#00f0)"></i><i style="left:566px;top:-1px;width:1px;height:152px;background:linear-gradient(#00f0,#00f7 0%,#00f 0%,#08f 1%,#0ff 7%,#0ff 17%,#0f8 18%,#0f2 19%,#0f0 20%,#0f0 51%,#0f0 71%,#0f2 72%,#0f8 73%,#0ff 74%,#08f 79%,#00f 81%,#00f 88%,#07f 89%,#0ff 90%,#0f8 91%,#0f2 93%,#0f0 95%,#0f2 97%,#0f8 99%,#0ef 99%,#06f 100%,#00fe 100%,#00f7 100%,#00f0)"></i><i style="left:580px;top:12px;width:1px;height:49px;background:linear-gradient(#00f0,#00f8 2%,#00f 4%,#07f 12%,#0ff 20%,#0f8 51%,#0f2 55%,#0f0 59%,#0f2 65%,#0f8 71%,#0ff 92%,#06f 94%,#00fe 96%,#00f7 98%,#00f0)"></i><i style="left:608px;top:14px;width:1px;height:54px;background:linear-gradient(#00f0,#00f8 2%,#00f 4%,#00f 24%,#07f 25%,#0ff 27%,#0f8 28%,#0f2 37%,#0f0 46%,#0f2 56%,#0f8 65%,#0ff 83%,#06f 88%,#00fe 92%,#00f7 96%,#00f0)"></i><i style="left:612px;top:145px;width:1px;height:10px;background:linear-gradient(#00f0,#00f7 5%,#00fe 10%,#06f 15%,#0ff 20%,#0f8 43%,#0f2 67%,#0f0 90%,#0f4 92%,#0fc 93%,#08f 95%,#00f 97%,#00f7 98%,#00f0)"></i><i style="left:13px;top:4px;width:1px;height:87px;background:linear-gradient(#00f0,#00f7 1%,#00fd 2%,#00fd 17%,#05f 20%,#0cf 22%,#0fa 32%,#0f4 36%,#0f0 40%,#0f0 46%,#7f0 52%,#0f0 57%,#0f0 63%,#0f4 66%,#0fb 68%,#0cf 70%,#06f 78%,#06f 84%,#00fd 92%,#00f7 96%,#00f0)"></i><i style="left:14px;top:4px;width:1px;height:87px;background:linear-gradient(#00f0,#00f6 1%,#00fb 2%,#00fb 17%,#03f 20%,#0af 22%,#0fc 32%,#0f6 36%,#0f0 40%,#0f0 46%,#4f0 52%,#0f0 57%,#0f0 63%,#0f6 66%,#0fd 68%,#0af 70%,#04f 78%,#04f 84%,#00fb 92%,#00f6 96%,#00f0)"></i><i style="left:140px;top:15px;width:1px;height:104px;background:linear-gradient(#00f0,#00f8 1%,#00f 2%,#07f 4%,#0ff 7%,#0f8 33%,#0f2 35%,#0f0 38%,#2f0 49%,#9f0 60%,#2f0 64%,#0f0 69%,#0f2 71%,#0f8 72%,#0ff 73%,#08f 84%,#00f 88%,#00f8 94%,#00f0)"></i><i style="left:145px;top:17px;width:1px;height:103px;background:linear-gradient(#00f0,#00f8 1%,#00f 2%,#07f 5%,#0ff 8%,#0f8 31%,#0f2 33%,#0f0 36%,#2f0 47%,#9f0 58%,#2f0 66%,#0f0 73%,#0f2 74%,#0f8 76%,#0ff 78%,#08f 89%,#00f 94%,#00f8 97%,#00f0)"></i><i style="left:409px;top:7px;width:1px;height:92px;background:linear-gradient(#00f0,#00f5 2%,#00f5 18%,#00fc 20%,#03f 22%,#0bf 37%,#0fc 40%,#0f6 43%,#0f1 50%,#0f0 57%,#0f1 62%,#0f6 67%,#0fd 70%,#0af 73%,#03f 76%,#00fd 83%,#00f5 87%,#00f0)"></i><i style="left:410px;top:7px;width:1px;height:92px;background:linear-gradient(#00f0,#00f8 1%,#00f 2%,#00f 18%,#07f 20%,#0ff 22%,#0f8 37%,#0f2 40%,#0f0 43%,#2f0 50%,#9f0 57%,#2f0 62%,#0f0 67%,#0f2 70%,#0f8 73%,#0ff 76%,#08f 83%,#00f 87%,#00f8 93%,#00f0)"></i><i style="left:444px;top:8px;width:1px;height:79px;background:linear-gradient(#00f0,#00f8 1%,#00f 3%,#00f 20%,#07f 22%,#0ff 24%,#0f8 46%,#0f2 49%,#0f0 52%,#2f0 58%,#9f0 65%,#9f0 87%,#0f0 88%,#0f0 88%,#0f6 89%,#0fe 89%,#08f 90%,#00f 93%,#00f7 97%,#00f0)"></i><i style="left:460px;top:5px;width:1px;height:66px;background:linear-gradient(#00f0,#00f6 3%,#00f6 15%,#00fc 17%,#03f 20%,#0bf 33%,#0fc 38%,#0f6 42%,#0f1 51%,#0f0 59%,#0f1 70%,#0f6 82%,#0fc 85%,#0af 88%,#03f 91%,#00fc 94%,#00f6 97%,#00f0)"></i><i style="left:461px;top:5px;width:1px;height:66px;background:linear-gradient(#00f0,#00f8 2%,#00f 3%,#00f 15%,#07f 17%,#0ff 20%,#0f8 33%,#0f2 38%,#0f0 42%,#2f0 51%,#9f0 59%,#2f0 70%,#0f0 82%,#0f2 85%,#0f8 88%,#0ff 91%,#06f 93%,#00fe 95%,#00f7 98%,#00f0)"></i><i style="left:462px;top:15px;width:1px;height:56px;background:linear-gradient(#00f0,#00f6 3%,#00fc 5%,#04f 21%,#0af 27%,#0fd 32%,#0f7 42%,#0f2 52%,#0f7 65%,#0fd 79%,#0af 82%,#03f 86%,#00fc 89%,#00f6 95%,#00f0)"></i><i style="left:555px;top:1px;width:1px;height:78px;background:linear-gradient(#00f0,#00f7 3%,#00f7 26%,#00fd 28%,#05f 29%,#0cf 46%,#0fb 49%,#0f5 51%,#0f5 87%,#0f0 92%,#0f0 97%,#0f3 98%,#0fb 98%,#09f 99%,#00f 99%,#00f8 100%,#00f0)"></i><i style="left:556px;top:1px;width:1px;height:78px;background:linear-gradient(#00f0,#00f8 1%,#00f 3%,#00f 26%,#07f 28%,#0ff 29%,#0f8 46%,#0f2 49%,#0f0 51%,#0f0 87%,#2f0 92%,#9f0 97%,#0f0 98%,#0f0 98%,#0f7 98%,#0ff 99%,#06f 99%,#00fe 99%,#00f7 100%,#00f0)"></i><i style="left:557px;top:21px;width:1px;height:58px;background:linear-gradient(#00f0,#00f5 3%,#00fa 5%,#02f 28%,#08f 31%,#0ff 34%,#0ff 83%,#0f9 90%,#0f4 97%,#0fc 97%,#08f 98%,#00f 99%,#00f7 99%,#00f0)"></i><i style="left:5px;top:8px;width:1px;height:73px;background:linear-gradient(#00f0,#00f8 1%,#00f 3%,#00f 22%,#07f 24%,#0ff 26%,#0f8 32%,#0f2 37%,#0f0 42%,#6f0 47%,#ff0 51%,#6f0 55%,#0f0 59%,#0f2 66%,#0f8 73%,#0ff 75%,#07f 78%,#00f 81%,#00f 95%,#00f8 97%,#00f0)"></i><i style="left:67px;top:3px;width:1px;height:120px;background:linear-gradient(#00f0,#00f8 1%,#00f 2%,#00f 15%,#08f 16%,#0fc 17%,#0f4 18%,#0f0 18%,#2f0 24%,#9f0 30%,#ff0 34%,#ff0 48%,#6f0 50%,#0f0 52%,#0f0 58%,#6f0 60%,#ff0 62%,#6f0 66%,#0f0 70%,#0f2 71%,#0f8 72%,#0ff 73%,#08f 79%,#00f 88%,#08f 98%,#00f 99%,#00f7 99%,#00f0)"></i><i style="left:130px;top:9px;width:1px;height:112px;background:linear-gradient(#00f0,#00f8 1%,#00f 2%,#07f 4%,#0ff 6%,#0f8 21%,#0f2 26%,#0f0 31%,#2f0 38%,#9f0 45%,#ff0 54%,#9f0 61%,#0f0 62%,#0f0 63%,#0f8 64%,#0ff 71%,#07f 74%,#00f 76%,#00f 98%,#00f8 99%,#00f0)"></i><i style="left:143px;top:-1px;width:1px;height:152px;background:linear-gradient(#00f0,#00f8 0%,#00f 1%,#00f 8%,#07f 9%,#0ff 10%,#0f8 23%,#0f2 26%,#0f0 30%,#6f0 32%,#ff0 34%,#ff0 51%,#6f0 54%,#0f0 56%,#0f2 60%,#0f8 64%,#0ff 72%,#08f 80%,#00f 82%,#00f 92%,#08f 94%,#08f 99%,#00f 100%,#00f7 100%,#00f0)"></i><i style="left:269px;top:131px;width:1px;height:21px;background:linear-gradient(#00f0,#00f7 3%,#00f 6%,#08f 10%,#0ff 43%,#0f8 48%,#0f2 52%,#0f0 57%,#6f0 67%,#ff0 76%,#6f0 79%,#0f0 82%,#0f4 85%,#0fc 88%,#08f 91%,#00f 94%,#00f7 97%,#00f0)"></i><i style="left:331px;top:13px;width:1px;height:67px;background:linear-gradient(#00f0,#00f8 1%,#00f 3%,#07f 7%,#0ff 12%,#0f8 17%,#0f2 22%,#0f0 27%,#6f0 33%,#ff0 39%,#9f0 54%,#2f0 60%,#0f0 66%,#0f2 68%,#0f8 70%,#0ff 72%,#0ff 96%,#06f 97%,#00fe 98%,#00f7 99%,#00f0)"></i><i style="left:335px;top:21px;width:1px;height:88px;background:linear-gradient(#00f0,#00f8 1%,#00f 2%,#07f 6%,#0ff 9%,#0f8 18%,#0f2 22%,#0f0 26%,#2f0 32%,#9f0 38%,#ff0 43%,#ff0 64%,#7f0 64%,#0f0 65%,#0f1 65%,#0f8 66%,#0ff 75%,#07f 76%,#00f 77%,#07f 79%,#0ff 81%,#0ff 90%,#07f 91%,#00f 92%,#00f8 96%,#00f0)"></i><i style="left:356px;top:-1px;width:1px;height:95px;background:linear-gradient(#00f0,#00f8 1%,#00f 1%,#00f 19%,#08f 19%,#0fc 20%,#0f4 21%,#0f0 21%,#2f0 29%,#9f0 38%,#ff0 42%,#6f0 50%,#0f0 58%,#0f4 66%,#0fd 74%,#08f 82%,#08f 89%,#00f 93%,#00f7 96%,#00f0)"></i><i style="left:358px;top:75px;width:1px;height:48px;background:linear-gradient(#00f0,#00f7 1%,#00f 1%,#08f 2%,#0fc 2%,#0f4 3%,#0f0 3%,#6f0 4%,#ff0 4%,#9f0 8%,#0f0 14%,#0f0 19%,#0f8 25%,#0ff 33%,#07f 39%,#00f 44%,#00f 96%,#00f8 98%,#00f0)"></i><i style="left:399px;top:4px;width:1px;height:95px;background:linear-gradient(#00f0,#00f8 1%,#00f 2%,#00f 7%,#07f 8%,#0ff 9%,#0f8 16%,#0f2 22%,#0f0 28%,#6f0 33%,#ff0 37%,#ff0 49%,#6f0 52%,#0f0 54%,#0f0 77%,#0f2 78%,#0f8 78%,#0ff 79%,#08f 92%,#00f 94%,#00f7 97%,#00f0)"></i><i style="left:489px;top:7px;width:1px;height:92px;background:linear-gradient(#00f0,#00f4 1%,#00f9 2%,#00f 4%,#07f 5%,#0ff 24%,#0f8 27%,#0f3 30%,#0f0 33%,#8f0 35%,#8f0 46%,#0f0 48%,#0f3 50%,#0f8 53%,#0ff 57%,#0ff 76%,#0f8 78%,#0f3 80%,#0f9 83%,#0ef 85%,#07f 87%,#01f 88%,#00fb 90%,#00f6 91%,#00f0)"></i><i style="left:490px;top:7px;width:1px;height:116px;background:linear-gradient(#00f0,#00f8 1%,#00f 2%,#07f 3%,#0ff 4%,#0f8 19%,#0f2 22%,#0f0 24%,#6f0 26%,#ff0 28%,#ff0 36%,#6f0 38%,#0f0 40%,#0f2 42%,#0f8 45%,#0f8 60%,#0f2 62%,#0f0 64%,#0f2 66%,#0f8 67%,#0ff 69%,#07f 71%,#00f 72%,#00f 79%,#07f 81%,#0ff 82%,#0ff 92%,#0f8 95%,#0f8 98%,#0ef 99%,#06f 99%,#00fe 99%,#00f7 100%,#00f0)"></i><i style="left:508px;top:5px;width:1px;height:96px;background:linear-gradient(#00f0,#00f5 2%,#00f5 17%,#00fc 18%,#03f 20%,#0af 23%,#0fd 25%,#0f6 28%,#0f1 36%,#0f0 44%,#2f0 51%,#0f0 75%,#0f3 76%,#0fb 78%,#0bf 79%,#05f 83%,#00f 88%,#00f9 92%,#00f2 96%,#00f0)"></i><i style="left:509px;top:5px;width:1px;height:114px;background:linear-gradient(#00f0,#00f8 1%,#00f 2%,#00f 14%,#07f 15%,#0ff 17%,#0f8 19%,#0f2 21%,#0f0 24%,#2f0 30%,#9f0 37%,#ff0 43%,#9f0 63%,#0f0 64%,#0f0 65%,#0f8 67%,#0ff 74%,#08f 81%,#00f 84%,#00f 98%,#00f8 99%,#00f0)"></i><i style="left:532px;top:23px;width:1px;height:56px;background:linear-gradient(#00f0,#00f6 2%,#00fb 5%,#02f 7%,#08f 13%,#0ff 20%,#0f9 29%,#0f4 38%,#0f0 46%,#0f4 73%,#0f9 81%,#0ff 89%,#07f 92%,#01f 94%,#00fa 96%,#00f5 98%,#00f0)"></i><i style="left:533px;top:21px;width:1px;height:58px;background:linear-gradient(#00f0,#00f8 2%,#00f 3%,#07f 6%,#0ff 8%,#0f8 10%,#0f2 16%,#0f0 22%,#2f0 31%,#9f0 40%,#ff0 48%,#9f0 74%,#2f0 82%,#0f0 90%,#0f2 92%,#0f8 94%,#0ff 97%,#06f 97%,#00fe 98%,#00f7 99%,#00f0)"></i><i style="left:534px;top:21px;width:1px;height:58px;background:linear-gradient(#00f0,#00f7 3%,#00fd 6%,#05f 8%,#0cf 10%,#0fb 16%,#0f5 22%,#0f0 31%,#0f0 40%,#5f0 48%,#0f0 74%,#0f0 82%,#0f5 90%,#0fb 92%,#0cf 94%,#05f 97%,#00fd 98%,#00f6 99%,#00f0)"></i><i style="left:533px;top:75px;width:1px;height:49px;background:linear-gradient(#00f0,#00f7 1%,#00f 1%,#08f 2%,#0fc 2%,#0f4 3%,#0f0 3%,#6f0 4%,#ff0 4%,#6f0 10%,#0f0 16%,#0f2 20%,#0f8 24%,#0ff 45%,#07f 49%,#00f 53%,#00f 98%,#00f8 99%,#00f0)"></i><i style="left:545px;top:9px;width:1px;height:113px;background:linear-gradient(#00f0,#00f8 1%,#00f 2%,#00f 13%,#07f 15%,#0ff 16%,#0f8 19%,#0f2 23%,#0f0 27%,#6f0 33%,#ff0 39%,#ff0 44%,#6f0 46%,#0f0 48%,#0f0 60%,#0f0 74%,#0f2 75%,#0f8 76%,#0ff 77%,#0f8 78%,#0f2 79%,#0f0 80%,#0f0 98%,#0f4 99%,#0fc 99%,#08f 99%,#00f 99%,#00f7 100%,#00f0)"></i><i style="left:556px;top:75px;width:1px;height:76px;background:linear-gradient(#00f0,#00f7 0%,#00fe 1%,#06f 1%,#0ff 1%,#0f7 2%,#0f0 2%,#0f0 2%,#9f0 3%,#ff0 11%,#6f0 14%,#0f0 18%,#0f2 25%,#0f8 32%,#0ff 47%,#08f 54%,#00f 58%,#00f 82%,#07f 84%,#0ff 86%,#0f8 95%,#0ff 99%,#06f 99%,#00fe 99%,#00f7 100%,#00f0)"></i><i style="left:575px;top:18px;width:1px;height:61px;background:linear-gradient(#00f0,#00f8 2%,#00f 3%,#07f 9%,#0ff 15%,#0ff 43%,#0f8 45%,#0f2 48%,#0f0 51%,#2f0 59%,#9f0 67%,#ff0 97%,#6f0 97%,#0f0 98%,#0f4 98%,#0fc 98%,#08f 99%,#00f 99%,#00f7 100%,#00f0)"></i><i style="left:576px;top:18px;width:1px;height:61px;background:linear-gradient(#00f0,#00f8 2%,#00f 3%,#07f 9%,#0ff 15%,#0ff 43%,#0f8 45%,#0f2 48%,#0f0 51%,#2f0 59%,#9f0 67%,#ff0 97%,#6f0 97%,#0f0 98%,#0f4 98%,#0fc 98%,#08f 99%,#00f 99%,#00f7 100%,#00f0)"></i><i style="left:576px;top:75px;width:1px;height:76px;background:linear-gradient(#00f0,#00f7 0%,#00f 1%,#08f 1%,#0fc 1%,#0f4 2%,#0f0 2%,#6f0 2%,#ff0 3%,#9f0 18%,#2f0 32%,#0f0 45%,#0f0 61%,#0f4 61%,#0fc 62%,#08f 62%,#00f 63%,#00f 68%,#07f 70%,#0ff 71%,#0ff 91%,#07f 93%,#00f 95%,#00f8 97%,#00f0)"></i><i style="left:10px;top:5px;width:1px;height:82px;background:linear-gradient(#00f0,#00f8 1%,#00f 2%,#00f 11%,#07f 12%,#0ff 13%,#0f8 29%,#0f1 30%,#0f0 31%,#7f0 32%,#ff0 33%,#f90 48%,#ff0 63%,#6f0 67%,#0f0 71%,#0f2 73%,#0f8 76%,#0ff 78%,#08f 88%,#00f 93%,#00f8 96%,#00f0)"></i><i style="left:32px;top:14px;width:1px;height:57px;background:linear-gradient(#00f0,#00f8 2%,#00f 4%,#00f 18%,#07f 19%,#0ff 20%,#0f8 21%,#0f2 32%,#0f0 44%,#6f0 47%,#ff0 51%,#f90 65%,#ff0 75%,#6f0 79%,#0f0 82%,#0f2 89%,#0f8 96%,#0ef 97%,#06f 98%,#00fe 99%,#00f7 99%,#00f0)"></i><i style="left:124px;top:-1px;width:1px;height:105px;background:linear-gradient(#00f0,#00f8 0%,#00f 1%,#00f 11%,#07f 13%,#0ff 14%,#0f8 19%,#0f2 24%,#0f0 29%,#6f0 32%,#ff0 36%,#f90 40%,#ff0 45%,#6f0 47%,#0f0 50%,#0f0 74%,#0f2 76%,#0f8 78%,#0ff 80%,#07f 83%,#00f 86%,#00fa 92%,#00f5 99%,#00f0)"></i><i style="left:167px;top:1px;width:1px;height:92px;background:linear-gradient(#00f0,#00f8 1%,#00f 2%,#00f 7%,#07f 8%,#0ff 9%,#0f8 30%,#0f2 33%,#0f0 36%,#6f0 40%,#ff0 43%,#f90 52%,#ff0 63%,#7f0 65%,#0f0 66%,#0f1 68%,#0f8 70%,#0ff 83%,#08f 90%,#00f 93%,#00f7 97%,#00f0)"></i><i style="left:173px;top:9px;width:1px;height:141px;background:linear-gradient(#00f0,#00f8 1%,#00f 1%,#07f 3%,#0ff 4%,#0f8 20%,#0f2 22%,#0f0 25%,#6f0 27%,#ff0 30%,#f90 35%,#ff0 48%,#9f0 57%,#2f0 60%,#0f0 64%,#6f0 67%,#ff0 71%,#6f0 74%,#0f0 78%,#0f4 79%,#0fc 79%,#08f 80%,#00f 80%,#00f 89%,#07f 90%,#0ff 91%,#0ff 99%,#06f 99%,#00fe 99%,#00f7 100%,#00f0)"></i><i style="left:203px;top:12px;width:1px;height:73px;background:linear-gradient(#00f0,#00f8 1%,#00f 3%,#00f 21%,#07f 22%,#0ff 23%,#0f8 34%,#0f2 39%,#0f0 44%,#6f0 47%,#ff0 51%,#f90 62%,#ef0 63%,#5f0 65%,#0f0 67%,#0f0 89%,#0f4 90%,#0fc 91%,#08f 92%,#00f 95%,#00f7 97%,#00f0)"></i><i style="left:231px;top:5px;width:1px;height:85px;background:linear-gradient(#00f0,#00f8 1%,#00f 2%,#00f 14%,#07f 16%,#0ff 19%,#0f8 22%,#0f2 25%,#0f0 28%,#6f0 34%,#ff0 40%,#f90 52%,#ff0 64%,#6f0 66%,#0f0 69%,#0f2 77%,#0f8 85%,#0ff 85%,#07f 86%,#00f 87%,#00f8 94%,#00f0)"></i><i style="left:249px;top:15px;width:1px;height:73px;background:linear-gradient(#00f0,#00f8 1%,#00f 3%,#07f 5%,#0ff 8%,#0f8 13%,#0f2 17%,#0f0 22%,#2f0 31%,#9f0 40%,#ff0 60%,#f90 68%,#ff0 77%,#6f0 81%,#0f0 85%,#0f2 88%,#0f8 90%,#0ff 93%,#06f 95%,#00fe 97%,#00f7 98%,#00f0)"></i><i style="left:269px;top:0px;width:1px;height:94px;background:linear-gradient(#00f0,#00f8 1%,#00f 2%,#00f 18%,#07f 20%,#0ff 22%,#0f8 24%,#0f2 27%,#0f0 29%,#6f0 32%,#ff0 35%,#f90 47%,#f90 63%,#ff0 69%,#6f0 71%,#0f0 73%,#0f0 82%,#0f4 82%,#0fc 83%,#08f 84%,#00f 84%,#00f 98%,#00f8 99%,#00f0)"></i><i style="left:287px;top:-1px;width:1px;height:151px;background:linear-gradient(#00f0,#00f8 0%,#00f 1%,#00f 12%,#07f 13%,#0ff 13%,#0f8 19%,#0f2 21%,#0f0 23%,#0f0 41%,#6f0 42%,#ff0 44%,#ff0 52%,#6f0 54%,#0f0 56%,#2f0 61%,#9f0 66%,#ff0 75%,#f90 77%,#ef0 78%,#5f0 79%,#0f0 80%,#0f4 81%,#0fc 81%,#08f 82%,#00f 83%,#00f 91%,#07f 92%,#0ff 93%,#0ff 99%,#06f 99%,#00fe 99%,#00f7 100%,#00f0)"></i><i style="left:328px;top:-1px;width:1px;height:152px;background:linear-gradient(#00f0,#00f8 0%,#00f 1%,#00f 11%,#07f 12%,#0ff 13%,#0f8 14%,#0f2 16%,#0f0 17%,#6f0 20%,#ff0 24%,#f90 30%,#f90 46%,#ff0 51%,#9f0 59%,#2f0 61%,#0f0 62%,#0f0 71%,#0f4 71%,#0fc 72%,#08f 72%,#00f 72%,#08f 79%,#00f 86%,#00f 89%,#07f 89%,#0ff 90%,#0f8 95%,#0f8 99%,#0ef 99%,#06f 100%,#00fe 100%,#00f7 100%,#00f0)"></i><i style="left:561px;top:7px;width:1px;height:68px;background:linear-gradient(#00f0,#00f8 1%,#00f 3%,#07f 5%,#0ff 7%,#0f8 13%,#0f2 18%,#0f0 24%,#6f0 32%,#ff0 41%,#f90 54%,#ff0 76%,#6f0 79%,#0f0 82%,#0f2 86%,#0f8 90%,#0ff 94%,#06f 96%,#00fe 97%,#00f7 99%,#00f0)"></i><i style="left:588px;top:-1px;width:1px;height:153px;background:linear-gradient(#00f0,#00f8 0%,#00f 1%,#00f 10%,#07f 11%,#0ff 12%,#0f8 14%,#0f2 16%,#0f0 18%,#6f0 21%,#ff0 24%,#f90 29%,#f90 46%,#ff0 51%,#9f0 61%,#0f0 62%,#0f0 62%,#0f7 63%,#0ff 63%,#0ff 67%,#0f8 68%,#0f2 69%,#0f0 69%,#0f0 81%,#0f4 81%,#0fc 82%,#08f 82%,#00f 82%,#07f 83%,#0ff 84%,#0ff 88%,#07f 89%,#00f 90%,#08f 90%,#0fc 90%,#0f4 91%,#0f0 91%,#0f0 99%,#0f4 99%,#0fc 99%,#08f 99%,#00f 100%,#00f7 100%,#00f0)"></i><i style="left:45px;top:-1px;width:1px;height:153px;background:linear-gradient(#06f,#0cf 5%,#0fb 6%,#0f4 7%,#0f0 8%,#0f0 13%,#7f0 18%,#df0 21%,#fb0 22%,#f40 24%,#f40 51%,#fb0 59%,#df0 65%,#3f0 68%,#0f0 71%,#0f0 85%,#0f4 86%,#0fb 86%,#0cf 87%,#0fa 90%,#0f3 91%,#0f0 92%,#4f0 92%,#df0 93%,#fb0 94%,#f40 95%,#fc0 96%,#bf0 96%,#1f0 97%,#0f0 97%,#0f6 98%,#0fe 98%,#06f 99%,#00fe 99%,#00f7 100%,#00f0)"></i><i style="left:46px;top:-1px;width:1px;height:153px;background:linear-gradient(#04f,#0af 5%,#0fd 6%,#0f6 7%,#0f0 8%,#0f0 13%,#4f0 18%,#bf0 21%,#fd0 22%,#f60 24%,#f60 51%,#fd0 59%,#bf0 65%,#0f0 68%,#0f0 71%,#0f0 85%,#0f6 86%,#0fd 86%,#0af 87%,#0fc 90%,#0f5 91%,#0f0 92%,#2f0 92%,#bf0 93%,#fd0 94%,#f60 95%,#fe0 96%,#7f0 96%,#0f0 97%,#0f3 97%,#0fc 98%,#08f 98%,#00f 99%,#00f8 99%,#00f0)"></i><i style="left:84px;top:-1px;width:1px;height:152px;background:linear-gradient(#00f,#08f 5%,#0ff 10%,#0f8 11%,#0f2 12%,#0f0 13%,#2f0 16%,#9f0 20%,#fe0 21%,#f90 22%,#f20 25%,#f20 51%,#f90 58%,#ff0 62%,#6f0 64%,#0f0 66%,#0f0 79%,#0f2 80%,#0f8 82%,#0ff 86%,#0ff 97%,#06f 98%,#00fe 99%,#00f7 99%,#00f0)"></i><i style="left:85px;top:-1px;width:1px;height:100px;background:linear-gradient(#00f1,#00f9 8%,#00fe 15%,#05f 17%,#0cf 18%,#0fb 20%,#0f5 25%,#0f0 30%,#0f0 32%,#6f0 34%,#ef0 38%,#ef0 78%,#6f0 88%,#0f0 90%,#0f4 91%,#0fc 92%,#09f 94%,#00f 96%,#00f8 98%,#00f0)"></i><i style="left:107px;top:17px;width:1px;height:94px;background:linear-gradient(#00f0,#00f6 2%,#00fc 3%,#00fc 21%,#04f 22%,#0cf 23%,#0fa 24%,#0f3 25%,#0f0 26%,#4f0 34%,#cf0 45%,#4f0 64%,#0f0 70%,#0f3 72%,#0fb 74%,#0bf 77%,#03f 79%,#00fa 82%,#00f3 85%,#00f0)"></i><i style="left:108px;top:0px;width:1px;height:149px;background:linear-gradient(#00f0,#00f8 1%,#00f 1%,#00f 11%,#07f 12%,#0ff 13%,#0ff 25%,#0f8 25%,#0f1 26%,#0f0 26%,#7f0 27%,#ff0 28%,#f90 33%,#f20 40%,#f90 52%,#ff0 56%,#6f0 58%,#0f0 60%,#0f2 62%,#0f8 65%,#0ff 74%,#0f8 75%,#0f2 76%,#0f0 77%,#0f0 81%,#0f4 82%,#0fc 82%,#08f 83%,#00f 83%,#00f 99%,#00f8 99%,#00f0)"></i><i style="left:109px;top:0px;width:1px;height:111px;background:linear-gradient(#00f0,#00f4 2%,#00f4 15%,#00fa 17%,#01f 18%,#01f 33%,#08f 34%,#0fd 35%,#0f6 35%,#0f0 36%,#0f0 37%,#af0 44%,#fe0 53%,#af0 69%,#0f0 75%,#0f0 77%,#0f7 78%,#0ff 80%,#07f 82%,#01f 84%,#00fa 86%,#00f4 87%,#00f0)"></i><i style="left:154px;top:-1px;width:1px;height:153px;background:linear-gradient(#0f0,#0f0 10%,#5f0 11%,#ef0 11%,#f90 12%,#ff0 14%,#f90 18%,#f20 21%,#f20 51%,#f20 59%,#f90 61%,#ff0 65%,#f90 69%,#f20 72%,#f20 78%,#f90 80%,#ff0 81%,#6f0 85%,#0f0 88%,#2f0 92%,#9f0 95%,#ff0 98%,#6f0 98%,#0f0 99%,#0f4 99%,#0fc 99%,#08f 99%,#00f 100%,#00f7 100%,#00f0)"></i><i style="left:186px;top:-1px;width:1px;height:153px;background:linear-gradient(#0ff,#0ff 10%,#0f8 10%,#0f2 11%,#0f0 12%,#6f0 14%,#ff0 17%,#f90 18%,#f20 20%,#f90 51%,#ff0 55%,#9f0 62%,#ff0 75%,#f90 76%,#f20 78%,#f20 82%,#fa0 82%,#ef0 83%,#5f0 83%,#0f0 84%,#0f0 90%,#0f2 91%,#0f8 92%,#0ff 93%,#08f 99%,#00f 100%,#00f7 100%,#00f0)"></i><i style="left:223px;top:-1px;width:1px;height:153px;background:linear-gradient(#08f,#0ff 3%,#0ff 12%,#0f8 13%,#0f2 14%,#0f0 14%,#6f0 16%,#ff0 18%,#f90 20%,#f20 22%,#f90 46%,#f90 51%,#ff0 54%,#ff0 65%,#6f0 67%,#0f0 68%,#0f0 74%,#0f4 74%,#0fc 75%,#08f 75%,#00f 75%,#07f 76%,#0ff 76%,#0f8 77%,#0f8 88%,#0f2 92%,#0f0 95%,#0f2 97%,#0f8 99%,#0ef 99%,#06f 100%,#00fe 100%,#00f7 100%,#00f0)"></i><i style="left:246px;top:1px;width:1px;height:150px;background:linear-gradient(#00f0,#00f8 1%,#00f 1%,#00f 7%,#07f 8%,#0ff 9%,#0f8 10%,#0f2 12%,#0f0 14%,#6f0 17%,#ff0 20%,#f90 21%,#f20 23%,#f20 45%,#f90 51%,#ff0 55%,#9f0 62%,#2f0 68%,#0f0 74%,#0f2 75%,#0f8 75%,#0ff 76%,#08f 81%,#00f 84%,#00f 92%,#08f 92%,#0fc 93%,#0f4 94%,#0f0 94%,#0f0 99%,#0f4 99%,#0fc 99%,#08f 99%,#00f 100%,#00f7 100%,#00f0)"></i><i style="left:258px;top:-1px;width:1px;height:153px;background:linear-gradient(#08f,#0ff 3%,#0f8 5%,#0f2 7%,#0f0 8%,#2f0 13%,#9f0 18%,#fe0 19%,#f90 20%,#f20 20%,#f20 51%,#f90 60%,#ff0 64%,#f90 71%,#f20 77%,#f90 78%,#ff0 80%,#7f0 80%,#0f0 80%,#0f1 81%,#0f8 81%,#0ff 81%,#08f 88%,#00f 91%,#08f 91%,#0fc 91%,#0f4 92%,#0f0 92%,#6f0 92%,#ff0 92%,#f90 95%,#ff0 98%,#6f0 98%,#0f0 99%,#0f4 99%,#0fc 99%,#08f 99%,#00f 100%,#00f7 100%,#00f0)"></i><i style="left:283px;top:-1px;width:1px;height:150px;background:linear-gradient(#00f0,#00f8 0%,#00f 1%,#00f 16%,#07f 17%,#0ff 18%,#0f8 24%,#0f1 25%,#0f0 25%,#7f0 26%,#ff0 27%,#f90 29%,#f20 32%,#f90 40%,#ff0 44%,#ff0 52%,#9f0 62%,#2f0 64%,#0f0 67%,#6f0 67%,#ff0 68%,#f90 75%,#ff0 77%,#6f0 78%,#0f0 78%,#0f4 78%,#0fc 78%,#08f 78%,#00f 79%,#00f 85%,#08f 87%,#08f 99%,#00f 99%,#00f7 100%,#00f0)"></i><i style="left:314px;top:-1px;width:1px;height:152px;background:linear-gradient(#00f0,#00f8 0%,#00f 1%,#00f 8%,#07f 9%,#0ff 10%,#0f8 12%,#0f2 13%,#0f0 15%,#6f0 18%,#ff0 21%,#f90 30%,#f20 33%,#f90 36%,#ff0 39%,#ff0 51%,#9f0 56%,#2f0 61%,#0f0 66%,#0f0 72%,#0f4 73%,#0fc 73%,#08f 73%,#00f 73%,#08f 73%,#0fc 74%,#0f4 74%,#0f0 74%,#0f0 82%,#0f2 83%,#0f8 84%,#0ff 84%,#0ff 92%,#0f7 92%,#0f0 93%,#0f0 93%,#9f0 93%,#ff0 99%,#6f0 99%,#0f0 99%,#0f4 99%,#0fc 99%,#08f 100%,#00f 100%,#00f7 100%,#00f0)"></i><i style="left:318px;top:3px;width:1px;height:148px;background:linear-gradient(#00f0,#00f8 1%,#00f 1%,#00f 8%,#07f 9%,#0ff 9%,#0f8 11%,#0f2 13%,#0f0 15%,#6f0 19%,#ff0 23%,#f90 31%,#f20 35%,#f90 39%,#ff0 43%,#ff0 50%,#6f0 52%,#0f0 54%,#0f0 65%,#0f2 66%,#0f8 67%,#0ff 68%,#0f8 68%,#0f2 68%,#0f0 69%,#0f0 80%,#0f4 80%,#0fc 80%,#08f 81%,#00f 81%,#00f 85%,#07f 86%,#0ff 86%,#0ff 93%,#0f8 94%,#0f2 94%,#0f0 95%,#0f0 99%,#0f4 99%,#0fc 100%,#08f 100%,#00f 100%,#00f7 100%,#00f0)"></i><i style="left:345px;top:5px;width:1px;height:125px;background:linear-gradient(#00f0,#00f7 1%,#00f 1%,#08f 2%,#0ff 5%,#0f8 7%,#0f2 9%,#0f0 11%,#6f0 16%,#ff0 21%,#f90 29%,#f20 30%,#f20 40%,#f90 43%,#ff0 51%,#ff0 58%,#9f0 61%,#fe0 62%,#f90 62%,#ef0 63%,#5f0 65%,#0f0 66%,#0f2 70%,#0f8 75%,#0ff 87%,#0f8 93%,#0ff 94%,#07f 94%,#00f 95%,#00f8 98%,#00f0)"></i><i style="left:414px;top:-1px;width:1px;height:152px;background:linear-gradient(#08f,#0ff 3%,#0ff 16%,#0f8 17%,#0f2 18%,#0f0 18%,#6f0 21%,#ff0 24%,#f90 28%,#f20 30%,#f20 39%,#f90 43%,#ff0 51%,#9f0 64%,#ff0 72%,#6f0 76%,#0f0 80%,#0f4 80%,#0fc 80%,#08f 81%,#00f 86%,#08f 91%,#0fe 91%,#0f8 92%,#0f8 99%,#0ef 99%,#06f 99%,#00fe 99%,#00f7 100%,#00f0)"></i><i style="left:416px;top:-1px;width:1px;height:153px;background:linear-gradient(#0f8,#0f2 2%,#0f0 3%,#0f0 16%,#6f0 18%,#ff0 20%,#f90 22%,#f20 25%,#f20 51%,#f20 58%,#f90 60%,#ff0 63%,#ff0 71%,#f90 73%,#f20 78%,#fa0 79%,#ef0 79%,#5f0 80%,#0f0 80%,#0f0 98%,#0f4 98%,#0fc 99%,#08f 99%,#00f 99%,#00f7 100%,#00f0)"></i><i style="left:436px;top:-1px;width:1px;height:103px;background:linear-gradient(#00f0,#00f3 1%,#00f3 10%,#00f9 11%,#01f 13%,#07f 17%,#0ef 21%,#0f9 25%,#0f1 28%,#0f0 31%,#8f0 37%,#ff0 41%,#ff0 76%,#8f0 85%,#0f0 87%,#0f1 88%,#0f8 90%,#0ef 91%,#05f 92%,#00fd 95%,#00f7 97%,#00f0)"></i><i style="left:437px;top:-1px;width:1px;height:153px;background:linear-gradient(#00f0,#00f8 0%,#00f 1%,#00f 7%,#07f 8%,#0ff 8%,#0f8 11%,#0f2 14%,#0f0 17%,#6f0 19%,#ff0 21%,#f90 25%,#f20 27%,#f20 51%,#f90 58%,#ff0 62%,#6f0 65%,#0f0 67%,#0f2 68%,#0f8 69%,#0ff 71%,#0ff 77%,#0f7 78%,#0f0 78%,#0f0 79%,#9f0 79%,#2f0 81%,#0f0 82%,#0f4 83%,#0fc 83%,#08f 83%,#00f 84%,#07f 84%,#0ff 85%,#0ff 90%,#0f8 91%,#0f2 92%,#0f0 93%,#0f2 95%,#0f8 98%,#0ef 98%,#06f 99%,#00fe 99%,#00f7 100%,#00f0)"></i><i style="left:441px;top:4px;width:1px;height:110px;background:linear-gradient(#00f0,#00f8 1%,#00f 2%,#00f 10%,#07f 11%,#0ff 13%,#0f8 23%,#0f2 25%,#0f0 26%,#6f0 29%,#ff0 32%,#f90 35%,#f20 41%,#f90 55%,#ff0 61%,#ff0 66%,#f90 68%,#ef0 70%,#5f0 72%,#0f0 74%,#0f0 86%,#0f4 88%,#0fc 89%,#08f 90%,#00f 96%,#00f8 98%,#00f0)"></i><i style="left:454px;top:0px;width:1px;height:151px;background:linear-gradient(#00f0,#00f8 1%,#00f 1%,#00f 7%,#07f 8%,#0ff 9%,#0f8 12%,#0f2 15%,#0f0 18%,#6f0 21%,#ff0 23%,#f90 27%,#f20 30%,#f20 39%,#f90 42%,#ff0 46%,#ff0 51%,#6f0 55%,#0f0 59%,#0f0 68%,#0f2 69%,#0f8 70%,#0ff 71%,#08f 75%,#00f 84%,#00f 99%,#00f8 99%,#00f0)"></i><i style="left:486px;top:-1px;width:1px;height:153px;background:linear-gradient(#08f,#0ff 3%,#0ff 7%,#0f8 8%,#0f2 8%,#0f0 9%,#2f0 14%,#9f0 20%,#fe0 21%,#f90 22%,#f20 25%,#f20 51%,#f90 55%,#ff0 59%,#6f0 60%,#0f0 62%,#0f0 75%,#0f2 77%,#0f8 78%,#0ff 88%,#0f8 95%,#0f2 97%,#0f0 99%,#0f4 99%,#0fc 100%,#08f 100%,#00f 100%,#00f7 100%,#00f0)"></i><i style="left:513px;top:-1px;width:1px;height:153px;background:linear-gradient(#00f0,#00f7 0%,#00f 0%,#08f 1%,#0ff 7%,#0f8 11%,#0f2 15%,#0f0 20%,#6f0 21%,#ff0 22%,#f90 27%,#f20 33%,#f90 41%,#ff0 43%,#ff0 51%,#f90 54%,#fe0 56%,#9f0 58%,#2f0 61%,#0f0 65%,#6f0 67%,#ff0 69%,#ff0 74%,#f90 75%,#f20 76%,#f90 79%,#ef0 80%,#5f0 80%,#0f0 81%,#0f4 81%,#0fc 82%,#08f 82%,#00f 82%,#07f 83%,#0ff 83%,#0f8 84%,#0f8 89%,#0f1 89%,#0f0 90%,#7f0 90%,#ff0 90%,#f90 92%,#ef0 93%,#5f0 93%,#0f0 94%,#0f2 97%,#0f8 99%,#0ef 99%,#06f 100%,#00fe 100%,#00f7 100%,#00f0)"></i><i style="left:525px;top:-1px;width:1px;height:153px;background:linear-gradient(#00f0,#00f8 0%,#00f 1%,#00f 12%,#07f 13%,#0ff 14%,#0f8 16%,#0f2 17%,#0f0 18%,#2f0 22%,#9f0 26%,#ff0 33%,#f90 34%,#f20 35%,#f90 39%,#ff0 43%,#ff0 51%,#9f0 62%,#2f0 66%,#0f0 71%,#0f2 71%,#0f8 72%,#0ff 73%,#08f 77%,#00f 82%,#00f 90%,#07f 90%,#0fe 91%,#0f7 91%,#0f0 91%,#0f0 91%,#9f0 92%,#ff0 97%,#9f0 99%,#0f0 99%,#0f0 100%,#0f7 100%,#0ff 100%,#06f 100%,#00fe 100%,#00f7 100%,#00f0)"></i><i style="left:526px;top:-1px;width:1px;height:153px;background:linear-gradient(#00f0,#00f8 0%,#00f 1%,#00f 12%,#07f 13%,#0ff 14%,#0f8 16%,#0f2 17%,#0f0 18%,#2f0 22%,#9f0 26%,#ff0 33%,#f90 34%,#f20 35%,#f90 39%,#ff0 43%,#ff0 51%,#9f0 62%,#2f0 66%,#0f0 71%,#0f2 71%,#0f8 72%,#0ff 73%,#08f 77%,#00f 82%,#00f 90%,#07f 90%,#0fe 91%,#0f7 91%,#0f0 91%,#0f0 91%,#9f0 92%,#ff0 97%,#9f0 99%,#0f0 99%,#0f0 100%,#0f7 100%,#0ff 100%,#06f 100%,#00fe 100%,#00f7 100%,#00f0)"></i><i style="left:530px;top:-1px;width:1px;height:153px;background:linear-gradient(#00f0,#00f8 0%,#00f 1%,#00f 5%,#07f 6%,#0ff 7%,#0f8 10%,#0f2 13%,#0f0 16%,#6f0 19%,#ff0 22%,#f90 25%,#f20 27%,#f20 51%,#f90 55%,#ff0 62%,#ff0 71%,#f90 73%,#f20 76%,#f20 81%,#fa0 81%,#ef0 82%,#5f0 82%,#0f0 82%,#0f2 84%,#0f8 85%,#0f8 90%,#0f1 91%,#0f0 92%,#7f0 92%,#ff0 93%,#ff0 98%,#6f0 98%,#0f0 99%,#0f4 99%,#0fc 99%,#08f 99%,#00f 100%,#00f7 100%,#00f0)"></i><i style="left:563px;top:24px;width:1px;height:75px;background:linear-gradient(#00f0,#00f5 2%,#00fa 4%,#01f 8%,#07f 11%,#0ff 15%,#0f7 17%,#0f0 20%,#0f0 33%,#9f0 47%,#0f0 71%,#0f0 79%,#0f5 83%,#0fb 87%,#09f 90%,#00f 93%,#00f8 97%,#00f0)"></i><i style="left:564px;top:-1px;width:1px;height:152px;background:linear-gradient(#00f0,#00f8 0%,#00f 1%,#00f 16%,#07f 17%,#0ff 18%,#0f8 20%,#0f2 22%,#0f0 24%,#6f0 25%,#ff0 26%,#f90 33%,#f20 39%,#f90 51%,#ff0 55%,#9f0 59%,#2f0 62%,#0f0 66%,#0f4 66%,#0fc 67%,#08f 68%,#00f 68%,#08f 69%,#0fc 69%,#0f4 69%,#0f0 70%,#6f0 70%,#ff0 70%,#f90 71%,#f20 72%,#f20 79%,#fa0 79%,#ef0 80%,#5f0 80%,#0f0 81%,#0f2 83%,#0f8 84%,#0ff 85%,#07f 86%,#00f 86%,#08f 92%,#0ff 95%,#07f 97%,#00f 99%,#00f8 100%,#00f0)"></i><i style="left:565px;top:-1px;width:1px;height:100px;background:linear-gradient(#00f0,#00f1 1%,#00f1 25%,#00f8 26%,#00fe 28%,#05f 31%,#0cf 33%,#0fb 36%,#0f3 38%,#0f0 40%,#6f0 50%,#ef0 60%,#6f0 78%,#0f0 84%,#0f1 87%,#0f7 90%,#0ff 92%,#06f 94%,#00fe 96%,#00f7 98%,#00f0)"></i><i style="left:572px;top:0px;width:1px;height:152px;background:linear-gradient(#00f0,#00f8 1%,#00f 1%,#00f 12%,#07f 13%,#0ff 14%,#0f8 15%,#0f2 16%,#0f0 16%,#0f0 51%,#2f0 56%,#9f0 61%,#ff0 68%,#f90 74%,#f20 78%,#f20 81%,#fa0 81%,#ef0 82%,#5f0 82%,#0f0 82%,#0f2 83%,#0f8 84%,#0ff 85%,#0ff 98%,#0f8 98%,#0f2 99%,#0f0 99%,#0f4 99%,#0fc 100%,#08f 100%,#00f 100%,#00f7 100%,#00f0)"></i><i style="left:584px;top:-1px;width:1px;height:153px;background:linear-gradient(#00f0,#00f8 0%,#00f 1%,#00f 12%,#07f 13%,#0ff 14%,#0f8 16%,#0f2 18%,#0f0 20%,#0f0 51%,#6f0 52%,#ff0 54%,#f90 56%,#fe0 58%,#9f0 59%,#0f0 60%,#0f0 61%,#0f8 62%,#0ff 67%,#07f 67%,#00f 68%,#08f 68%,#0fc 69%,#0f4 69%,#0f0 70%,#6f0 72%,#ff0 75%,#f90 76%,#f20 79%,#fa0 80%,#ef0 80%,#5f0 81%,#0f0 81%,#0f0 88%,#2f0 89%,#9f0 90%,#ff0 98%,#6f0 98%,#0f0 99%,#0f4 99%,#0fc 99%,#08f 99%,#00f 100%,#00f7 100%,#00f0)"></i></div></div>
<svg width="792" height="612" viewBox="0 0 792 612" style="position:absolute;left:0;top:0;font-family:'Liberation Serif',serif;fill:#000;stroke:#000;stroke-width:0.35px;opacity:0.999;will-change:opacity" text-rendering="geometricPrecision"><text x="79.2" y="122.8" textLength="23.6" lengthAdjust="spacingAndGlyphs" style="font-size:11.5px;font-weight:bold">VLF</text>
<text x="108.8" y="122.8" textLength="38.9" lengthAdjust="spacingAndGlyphs" style="font-size:11.5px;font-weight:bold">Spectra</text>
<text x="251.2" y="123.2" textLength="16.5" lengthAdjust="spacingAndGlyphs" style="font-size:10px;font-weight:bold">Dec.</text>
<text x="272" y="123.2" textLength="12" lengthAdjust="spacingAndGlyphs" style="font-size:10px;font-weight:bold">11,</text>
<text x="288" y="123.2" textLength="19" lengthAdjust="spacingAndGlyphs" style="font-size:10px;font-weight:bold">2025</text>
<text x="344.1" y="123.2" textLength="32.8" lengthAdjust="spacingAndGlyphs" style="font-size:10px;font-weight:bold">station=</text>
<text x="379" y="123.2" textLength="21.2" lengthAdjust="spacingAndGlyphs" style="font-size:10px;font-weight:bold">MOS</text>
<text x="438.3" y="123.2" textLength="17.4" lengthAdjust="spacingAndGlyphs" style="font-size:10px;font-weight:bold">start</text>
<text x="460.8" y="123.2" textLength="13" lengthAdjust="spacingAndGlyphs" style="font-size:10px;font-weight:bold">UT</text>
<text x="478.4" y="123.2" textLength="5.6" lengthAdjust="spacingAndGlyphs" style="font-size:10px;font-weight:bold">=</text>
<text x="492.6" y="123.2" textLength="4.6" lengthAdjust="spacingAndGlyphs" style="font-size:10px;font-weight:bold">3</text>
<text x="503.4" y="123.2" textLength="2.2" lengthAdjust="spacingAndGlyphs" style="font-size:10px;font-weight:bold">:</text>
<text x="508" y="123.2" textLength="9.5" lengthAdjust="spacingAndGlyphs" style="font-size:10px;font-weight:bold">50</text>
<text x="518.6" y="123.2" textLength="2.2" lengthAdjust="spacingAndGlyphs" style="font-size:10px;font-weight:bold">:</text>
<text x="524.5" y="123.2" textLength="3.8" lengthAdjust="spacingAndGlyphs" style="font-size:10px;font-weight:bold">1</text>
<text x="70.6" y="170.0" text-anchor="end" style="font-size:10.5px;font-weight:bold;">10</text>
<text x="70.6" y="202.0" text-anchor="end" style="font-size:10.5px;font-weight:bold;">8</text>
<text x="70.6" y="233.0" text-anchor="end" style="font-size:10.5px;font-weight:bold;">6</text>
<text x="70.6" y="264.0" text-anchor="end" style="font-size:10.5px;font-weight:bold;">4</text>
<text x="70.6" y="295.0" text-anchor="end" style="font-size:10.5px;font-weight:bold;">2</text>
<text x="70.6" y="326.0" text-anchor="end" style="font-size:10.5px;font-weight:bold;">0</text>
<text x="70.6" y="336.0" text-anchor="end" style="font-size:10.5px;font-weight:bold;">10</text>
<text x="70.6" y="368.0" text-anchor="end" style="font-size:10.5px;font-weight:bold;">8</text>
<text x="70.6" y="399.0" text-anchor="end" style="font-size:10.5px;font-weight:bold;">6</text>
<text x="70.6" y="430.0" text-anchor="end" style="font-size:10.5px;font-weight:bold;">4</text>
<text x="70.6" y="461.0" text-anchor="end" style="font-size:10.5px;font-weight:bold;">2</text>
<text x="70.6" y="492.0" text-anchor="end" style="font-size:10.5px;font-weight:bold;">0</text>
<text x="70.6" y="129.9" text-anchor="end" style="font-size:10.5px;font-weight:bold;">5</text>
<text x="70.6" y="161.2" text-anchor="end" style="font-size:10.5px;font-weight:bold;">-5</text>
<text x="70.6" y="500.9" text-anchor="end" style="font-size:10.5px;font-weight:bold;">5</text>
<text x="70.6" y="532.2" text-anchor="end" style="font-size:10.5px;font-weight:bold;">-5</text>
<text x="79.5" y="549.5" text-anchor="middle" style="font-size:10px;font-weight:bold;">0</text>
<text x="141.9" y="549.5" text-anchor="middle" style="font-size:10px;font-weight:bold;">1</text>
<text x="204.3" y="549.5" text-anchor="middle" style="font-size:10px;font-weight:bold;">2</text>
<text x="266.7" y="549.5" text-anchor="middle" style="font-size:10px;font-weight:bold;">3</text>
<text x="329.1" y="549.5" text-anchor="middle" style="font-size:10px;font-weight:bold;">4</text>
<text x="391.5" y="549.5" text-anchor="middle" style="font-size:10px;font-weight:bold;">5</text>
<text x="453.9" y="549.5" text-anchor="middle" style="font-size:10px;font-weight:bold;">6</text>
<text x="516.3" y="549.5" text-anchor="middle" style="font-size:10px;font-weight:bold;">7</text>
<text x="578.7" y="549.5" text-anchor="middle" style="font-size:10px;font-weight:bold;">8</text>
<text x="641.1" y="549.5" text-anchor="middle" style="font-size:10px;font-weight:bold;">9</text>
<text x="703.5" y="549.5" text-anchor="middle" style="font-size:10px;font-weight:bold;">10</text>
<text x="400" y="558.5" text-anchor="middle" style="font-size:10px;font-weight:bold;">Time (min)</text>
<text x="50" y="142.2" text-anchor="middle" textLength="30.8" lengthAdjust="spacingAndGlyphs" transform="rotate(-90 50 142.2)" style="font-size:10px;font-weight:bold">ch.1(V)</text>
<text x="50" y="513.3" text-anchor="middle" textLength="31" lengthAdjust="spacingAndGlyphs" transform="rotate(-90 50 513.3)" style="font-size:10px;font-weight:bold">ch.3(V)</text>
<text x="50.2" y="244.1" text-anchor="middle" textLength="17" lengthAdjust="spacingAndGlyphs" transform="rotate(-90 50.2 244.1)" style="font-size:10px;font-weight:bold">ch.1</text>
<text x="57.8" y="231.8" text-anchor="middle" textLength="72" lengthAdjust="spacingAndGlyphs" transform="rotate(-90 57.8 231.8)" style="font-size:10px;font-weight:bold">Frequency (kHz)</text>
<text x="50.2" y="410.1" text-anchor="middle" textLength="17" lengthAdjust="spacingAndGlyphs" transform="rotate(-90 50.2 410.1)" style="font-size:10px;font-weight:bold">ch.2</text>
<text x="57.8" y="397.8" text-anchor="middle" textLength="72" lengthAdjust="spacingAndGlyphs" transform="rotate(-90 57.8 397.8)" style="font-size:10px;font-weight:bold">Frequency (kHz)</text>
<text x="734.9" y="203.9" textLength="7.2" lengthAdjust="spacingAndGlyphs" style="font-size:6.8px;font-weight:bold" font-family="Liberation Sans">-6</text>
<text x="734.9" y="230.9" textLength="7.2" lengthAdjust="spacingAndGlyphs" style="font-size:6.8px;font-weight:bold" font-family="Liberation Sans">-7</text>
<text x="734.9" y="257.9" textLength="7.2" lengthAdjust="spacingAndGlyphs" style="font-size:6.8px;font-weight:bold" font-family="Liberation Sans">-8</text>
<text x="734.9" y="285.9" textLength="7.2" lengthAdjust="spacingAndGlyphs" style="font-size:6.8px;font-weight:bold" font-family="Liberation Sans">-9</text>
<text x="734.9" y="312.9" textLength="11.4" lengthAdjust="spacingAndGlyphs" style="font-size:6.8px;font-weight:bold" font-family="Liberation Sans">-10</text>
<text x="750.3" y="260.4" text-anchor="middle" textLength="53.3" lengthAdjust="spacingAndGlyphs" transform="rotate(-90 750.3 260.4)" style="font-size:7px;font-weight:bold" font-family="Liberation Sans">log(PSD)(V&#178;/Hz)</text>
<text x="734.9" y="369.9" textLength="7.2" lengthAdjust="spacingAndGlyphs" style="font-size:6.8px;font-weight:bold" font-family="Liberation Sans">-6</text>
<text x="734.9" y="396.9" textLength="7.2" lengthAdjust="spacingAndGlyphs" style="font-size:6.8px;font-weight:bold" font-family="Liberation Sans">-7</text>
<text x="734.9" y="423.9" textLength="7.2" lengthAdjust="spacingAndGlyphs" style="font-size:6.8px;font-weight:bold" font-family="Liberation Sans">-8</text>
<text x="734.9" y="451.9" textLength="7.2" lengthAdjust="spacingAndGlyphs" style="font-size:6.8px;font-weight:bold" font-family="Liberation Sans">-9</text>
<text x="734.9" y="478.9" textLength="11.4" lengthAdjust="spacingAndGlyphs" style="font-size:6.8px;font-weight:bold" font-family="Liberation Sans">-10</text>
<text x="750.3" y="426.4" text-anchor="middle" textLength="53.3" lengthAdjust="spacingAndGlyphs" transform="rotate(-90 750.3 426.4)" style="font-size:7px;font-weight:bold" font-family="Liberation Sans">log(PSD)(V&#178;/Hz)</text></svg>
</body></html>
